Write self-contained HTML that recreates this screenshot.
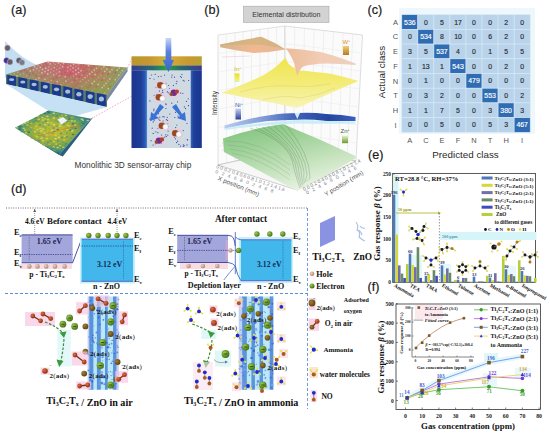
<!DOCTYPE html>
<html><head><meta charset="utf-8"><title>Figure</title>
<style>html,body{margin:0;padding:0;background:#fff;} svg{display:block;}</style></head>
<body><svg width="550" height="435" viewBox="0 0 550 435">
<defs>
<filter id="fBlur" x="-0.5" y="-0.05" width="2" height="1.1"><feGaussianBlur stdDeviation="0.7"/></filter>
<linearGradient id="gTop" x1="0" y1="0" x2="1" y2="0">
 <stop offset="0" stop-color="#7f9a66"/><stop offset="0.3" stop-color="#b77a72"/>
 <stop offset="0.55" stop-color="#c6646e"/><stop offset="0.8" stop-color="#a88a5e"/><stop offset="1" stop-color="#7fa060"/>
</linearGradient>
<linearGradient id="gTopF" x1="0" y1="1" x2="0" y2="0">
 <stop offset="0" stop-color="#8aa050" stop-opacity="0.85"/><stop offset="1" stop-color="#8aa050" stop-opacity="0"/>
</linearGradient>
<radialGradient id="gChip" cx="0.5" cy="0.45" r="0.6">
 <stop offset="0" stop-color="#c8c034"/><stop offset="0.45" stop-color="#9aae3a"/>
 <stop offset="0.8" stop-color="#3a8a80"/><stop offset="1" stop-color="#1f5a70"/>
</radialGradient>
<linearGradient id="gWallL" x1="0" y1="0" x2="1" y2="0">
 <stop offset="0" stop-color="#1c3490"/><stop offset="0.6" stop-color="#1e3f98"/><stop offset="0.85" stop-color="#2a5ab8"/><stop offset="1" stop-color="#5a9ad0"/>
</linearGradient>
<linearGradient id="gWallR" x1="0" y1="0" x2="1" y2="0">
 <stop offset="0" stop-color="#3a6ac0"/><stop offset="0.3" stop-color="#1e3f98"/><stop offset="1" stop-color="#1c3490"/>
</linearGradient>
<linearGradient id="gGold" x1="0" y1="0" x2="1" y2="0">
 <stop offset="0" stop-color="#b8982e"/><stop offset="0.25" stop-color="#c89630"/><stop offset="0.42" stop-color="#d0a838"/><stop offset="0.5" stop-color="#a0c840"/>
 <stop offset="0.58" stop-color="#d4a838"/><stop offset="0.8" stop-color="#c89a30"/><stop offset="1" stop-color="#b8a034"/>
</linearGradient>
<linearGradient id="gStrip" x1="0" y1="0" x2="1" y2="0">
 <stop offset="0" stop-color="#3a3a90"/><stop offset="0.3" stop-color="#2a6a70"/><stop offset="0.5" stop-color="#30a040"/>
 <stop offset="0.7" stop-color="#2a6a70"/><stop offset="1" stop-color="#3a3a90"/>
</linearGradient>
<linearGradient id="gArrow" x1="0" y1="0" x2="0" y2="1">
 <stop offset="0" stop-color="#c8d8f8"/><stop offset="0.4" stop-color="#5a80e0"/><stop offset="1" stop-color="#3a64d0"/>
</linearGradient>
<linearGradient id="gW" x1="0" y1="0" x2="1" y2="0">
 <stop offset="0" stop-color="#d2b48a"/><stop offset="0.45" stop-color="#efb890"/><stop offset="1" stop-color="#e8b898"/>
</linearGradient>
<linearGradient id="gIn" x1="0" y1="0" x2="0" y2="1">
 <stop offset="0" stop-color="#f0e44e"/><stop offset="0.5" stop-color="#f3ec78"/><stop offset="1" stop-color="#f8f4b8"/>
</linearGradient>
<linearGradient id="gW2" x1="0" y1="0" x2="1" y2="0">
 <stop offset="0" stop-color="#ecbc9a"/><stop offset="0.5" stop-color="#f2ccb4"/><stop offset="1" stop-color="#eed0c0"/>
</linearGradient>
<linearGradient id="gNi" x1="0" y1="0" x2="1" y2="0">
 <stop offset="0" stop-color="#b8cdf0"/><stop offset="0.3" stop-color="#7f9ad8"/><stop offset="0.55" stop-color="#3e60b8"/><stop offset="0.8" stop-color="#24469e"/><stop offset="1" stop-color="#3a60c0"/>
</linearGradient>
<linearGradient id="gZn" x1="0" y1="0" x2="0.5" y2="1">
 <stop offset="0" stop-color="#7cc27a"/><stop offset="0.35" stop-color="#9cd096"/><stop offset="0.7" stop-color="#c4e2bc"/><stop offset="1" stop-color="#e6f2e0"/>
</linearGradient>
<linearGradient id="gLegW" x1="0" y1="0" x2="0" y2="1"><stop offset="0" stop-color="#f0d070"/><stop offset="1" stop-color="#b87a20"/></linearGradient>
<linearGradient id="gLegIn" x1="0" y1="0" x2="0" y2="1"><stop offset="0" stop-color="#e8e020"/><stop offset="0.6" stop-color="#f0f060"/><stop offset="1" stop-color="#d8f0c0"/></linearGradient>
<linearGradient id="gLegNi" x1="0" y1="0" x2="0" y2="1"><stop offset="0" stop-color="#c8d4f4"/><stop offset="1" stop-color="#2a3f9a"/></linearGradient>
<linearGradient id="gLegZn" x1="0" y1="0" x2="0" y2="1"><stop offset="0" stop-color="#e4f0c8"/><stop offset="1" stop-color="#6a9a30"/></linearGradient>
<radialGradient id="gEl" cx="0.35" cy="0.35" r="0.7"><stop offset="0" stop-color="#9ccc50"/><stop offset="1" stop-color="#3f6e12"/></radialGradient>
<radialGradient id="gO" cx="0.35" cy="0.35" r="0.7"><stop offset="0" stop-color="#e07040"/><stop offset="1" stop-color="#8a2a10"/></radialGradient>
<radialGradient id="gOd" cx="0.35" cy="0.35" r="0.7"><stop offset="0" stop-color="#a08030"/><stop offset="1" stop-color="#5a4010"/></radialGradient>
<radialGradient id="gHole" cx="0.35" cy="0.35" r="0.7"><stop offset="0" stop-color="#f0d0c0"/><stop offset="1" stop-color="#b08070"/></radialGradient>
</defs>
<rect x="0" y="0" width="550" height="435" fill="#ffffff" />
<text x="11" y="14.3" font-size="12.6" fill="#1a1a1a" text-anchor="start" font-weight="normal" font-family='"Liberation Sans", sans-serif' stroke="#1a1a1a" stroke-width="0.2">(a)</text>
<path d="M5,41 Q22,60 42,67 L26,77 L5,78 Z" fill="#bcd9ef" opacity="0.9"/>
<circle cx="7.5" cy="48" r="2.9" fill="#6a5a6a" stroke="#dde" stroke-width="0.4"/>
<circle cx="6.5" cy="60.5" r="2.9" fill="#3a3090" stroke="#dde" stroke-width="0.4"/>
<circle cx="10" cy="62" r="2.9" fill="#6a5a6a" stroke="#dde" stroke-width="0.4"/>
<circle cx="19" cy="60.5" r="2.9" fill="#5a5a6a" stroke="#dde" stroke-width="0.4"/>
<circle cx="22" cy="62.5" r="2.9" fill="#7a7a8a" stroke="#dde" stroke-width="0.4"/>
<polygon points="6,74.5 47.5,61.5 127.5,67.5 107,95" fill="url(#gTop)" />
<polygon points="6,74.5 107,95 116.225,82.625 24.675,68.65" fill="url(#gTopF)" />
<circle cx="10.9" cy="74.6" r="0.85" fill="#e8a0a0" opacity="0.7"/>
<circle cx="14.3" cy="73.5" r="0.85" fill="#e8a0a0" opacity="0.7"/>
<circle cx="17.7" cy="72.3" r="0.85" fill="#e8a0a0" opacity="0.7"/>
<circle cx="21.1" cy="71.2" r="0.85" fill="#d04860" opacity="0.7"/>
<circle cx="24.5" cy="70.1" r="0.85" fill="#d04860" opacity="0.7"/>
<circle cx="27.9" cy="69.0" r="0.85" fill="#e8a0a0" opacity="0.7"/>
<circle cx="31.3" cy="67.9" r="0.85" fill="#d04860" opacity="0.7"/>
<circle cx="34.7" cy="66.7" r="0.85" fill="#f0d0c0" opacity="0.7"/>
<circle cx="38.1" cy="65.6" r="0.85" fill="#e8a0a0" opacity="0.7"/>
<circle cx="41.5" cy="64.5" r="0.85" fill="#90b060" opacity="0.7"/>
<circle cx="44.9" cy="63.4" r="0.85" fill="#d04860" opacity="0.7"/>
<circle cx="48.3" cy="62.2" r="0.85" fill="#f0d0c0" opacity="0.7"/>
<circle cx="17.1" cy="75.8" r="0.85" fill="#f0d0c0" opacity="0.7"/>
<circle cx="20.4" cy="74.6" r="0.85" fill="#e8a0a0" opacity="0.7"/>
<circle cx="23.7" cy="73.4" r="0.85" fill="#e8a0a0" opacity="0.7"/>
<circle cx="27.0" cy="72.2" r="0.85" fill="#d04860" opacity="0.7"/>
<circle cx="30.3" cy="71.0" r="0.85" fill="#f0d0c0" opacity="0.7"/>
<circle cx="33.6" cy="69.8" r="0.85" fill="#f0d0c0" opacity="0.7"/>
<circle cx="36.9" cy="68.6" r="0.85" fill="#f0d0c0" opacity="0.7"/>
<circle cx="40.2" cy="67.4" r="0.85" fill="#f0d0c0" opacity="0.7"/>
<circle cx="43.5" cy="66.3" r="0.85" fill="#d04860" opacity="0.7"/>
<circle cx="46.8" cy="65.1" r="0.85" fill="#d04860" opacity="0.7"/>
<circle cx="50.1" cy="63.9" r="0.85" fill="#f0d0c0" opacity="0.7"/>
<circle cx="53.4" cy="62.7" r="0.85" fill="#e8a0a0" opacity="0.7"/>
<circle cx="23.4" cy="77.1" r="0.85" fill="#90b060" opacity="0.7"/>
<circle cx="26.6" cy="75.8" r="0.85" fill="#e8a0a0" opacity="0.7"/>
<circle cx="29.7" cy="74.5" r="0.85" fill="#d04860" opacity="0.7"/>
<circle cx="32.9" cy="73.3" r="0.85" fill="#d04860" opacity="0.7"/>
<circle cx="36.1" cy="72.0" r="0.85" fill="#90b060" opacity="0.7"/>
<circle cx="39.3" cy="70.7" r="0.85" fill="#e8a0a0" opacity="0.7"/>
<circle cx="42.5" cy="69.4" r="0.85" fill="#f0d0c0" opacity="0.7"/>
<circle cx="45.7" cy="68.2" r="0.85" fill="#f0d0c0" opacity="0.7"/>
<circle cx="48.9" cy="66.9" r="0.85" fill="#e8a0a0" opacity="0.7"/>
<circle cx="52.0" cy="65.6" r="0.85" fill="#90b060" opacity="0.7"/>
<circle cx="55.2" cy="64.3" r="0.85" fill="#e8a0a0" opacity="0.7"/>
<circle cx="58.4" cy="63.1" r="0.85" fill="#f0d0c0" opacity="0.7"/>
<circle cx="29.6" cy="78.3" r="0.85" fill="#90b060" opacity="0.7"/>
<circle cx="32.7" cy="77.0" r="0.85" fill="#90b060" opacity="0.7"/>
<circle cx="35.8" cy="75.6" r="0.85" fill="#d04860" opacity="0.7"/>
<circle cx="38.9" cy="74.3" r="0.85" fill="#90b060" opacity="0.7"/>
<circle cx="41.9" cy="72.9" r="0.85" fill="#f0d0c0" opacity="0.7"/>
<circle cx="45.0" cy="71.6" r="0.85" fill="#f0d0c0" opacity="0.7"/>
<circle cx="48.1" cy="70.2" r="0.85" fill="#f0d0c0" opacity="0.7"/>
<circle cx="51.2" cy="68.9" r="0.85" fill="#e8a0a0" opacity="0.7"/>
<circle cx="54.2" cy="67.5" r="0.85" fill="#f0d0c0" opacity="0.7"/>
<circle cx="57.3" cy="66.2" r="0.85" fill="#90b060" opacity="0.7"/>
<circle cx="60.4" cy="64.8" r="0.85" fill="#e8a0a0" opacity="0.7"/>
<circle cx="63.5" cy="63.5" r="0.85" fill="#f0d0c0" opacity="0.7"/>
<circle cx="35.9" cy="79.6" r="0.85" fill="#f0d0c0" opacity="0.7"/>
<circle cx="38.9" cy="78.1" r="0.85" fill="#f0d0c0" opacity="0.7"/>
<circle cx="41.8" cy="76.7" r="0.85" fill="#d04860" opacity="0.7"/>
<circle cx="44.8" cy="75.3" r="0.85" fill="#d04860" opacity="0.7"/>
<circle cx="47.8" cy="73.9" r="0.85" fill="#f0d0c0" opacity="0.7"/>
<circle cx="50.7" cy="72.4" r="0.85" fill="#e8a0a0" opacity="0.7"/>
<circle cx="53.7" cy="71.0" r="0.85" fill="#e8a0a0" opacity="0.7"/>
<circle cx="56.7" cy="69.6" r="0.85" fill="#e8a0a0" opacity="0.7"/>
<circle cx="59.6" cy="68.2" r="0.85" fill="#e8a0a0" opacity="0.7"/>
<circle cx="62.6" cy="66.7" r="0.85" fill="#f0d0c0" opacity="0.7"/>
<circle cx="65.6" cy="65.3" r="0.85" fill="#d04860" opacity="0.7"/>
<circle cx="68.5" cy="63.9" r="0.85" fill="#90b060" opacity="0.7"/>
<circle cx="42.1" cy="80.8" r="0.85" fill="#90b060" opacity="0.7"/>
<circle cx="45.0" cy="79.3" r="0.85" fill="#f0d0c0" opacity="0.7"/>
<circle cx="47.9" cy="77.8" r="0.85" fill="#90b060" opacity="0.7"/>
<circle cx="50.7" cy="76.3" r="0.85" fill="#90b060" opacity="0.7"/>
<circle cx="53.6" cy="74.8" r="0.85" fill="#f0d0c0" opacity="0.7"/>
<circle cx="56.4" cy="73.3" r="0.85" fill="#e8a0a0" opacity="0.7"/>
<circle cx="59.3" cy="71.8" r="0.85" fill="#f0d0c0" opacity="0.7"/>
<circle cx="62.1" cy="70.3" r="0.85" fill="#d04860" opacity="0.7"/>
<circle cx="65.0" cy="68.8" r="0.85" fill="#d04860" opacity="0.7"/>
<circle cx="67.9" cy="67.3" r="0.85" fill="#f0d0c0" opacity="0.7"/>
<circle cx="70.7" cy="65.8" r="0.85" fill="#f0d0c0" opacity="0.7"/>
<circle cx="73.6" cy="64.3" r="0.85" fill="#f0d0c0" opacity="0.7"/>
<circle cx="48.4" cy="82.0" r="0.85" fill="#e8a0a0" opacity="0.7"/>
<circle cx="51.2" cy="80.5" r="0.85" fill="#e8a0a0" opacity="0.7"/>
<circle cx="53.9" cy="78.9" r="0.85" fill="#d04860" opacity="0.7"/>
<circle cx="56.6" cy="77.3" r="0.85" fill="#d04860" opacity="0.7"/>
<circle cx="59.4" cy="75.7" r="0.85" fill="#e8a0a0" opacity="0.7"/>
<circle cx="62.1" cy="74.2" r="0.85" fill="#d04860" opacity="0.7"/>
<circle cx="64.9" cy="72.6" r="0.85" fill="#d04860" opacity="0.7"/>
<circle cx="67.6" cy="71.0" r="0.85" fill="#e8a0a0" opacity="0.7"/>
<circle cx="70.4" cy="69.4" r="0.85" fill="#e8a0a0" opacity="0.7"/>
<circle cx="73.1" cy="67.9" r="0.85" fill="#f0d0c0" opacity="0.7"/>
<circle cx="75.9" cy="66.3" r="0.85" fill="#e8a0a0" opacity="0.7"/>
<circle cx="78.6" cy="64.7" r="0.85" fill="#e8a0a0" opacity="0.7"/>
<circle cx="54.7" cy="83.3" r="0.85" fill="#d04860" opacity="0.7"/>
<circle cx="57.3" cy="81.6" r="0.85" fill="#f0d0c0" opacity="0.7"/>
<circle cx="59.9" cy="80.0" r="0.85" fill="#90b060" opacity="0.7"/>
<circle cx="62.6" cy="78.3" r="0.85" fill="#90b060" opacity="0.7"/>
<circle cx="65.2" cy="76.7" r="0.85" fill="#f0d0c0" opacity="0.7"/>
<circle cx="67.9" cy="75.0" r="0.85" fill="#d04860" opacity="0.7"/>
<circle cx="70.5" cy="73.4" r="0.85" fill="#d04860" opacity="0.7"/>
<circle cx="73.1" cy="71.7" r="0.85" fill="#e8a0a0" opacity="0.7"/>
<circle cx="75.8" cy="70.1" r="0.85" fill="#f0d0c0" opacity="0.7"/>
<circle cx="78.4" cy="68.4" r="0.85" fill="#f0d0c0" opacity="0.7"/>
<circle cx="81.0" cy="66.8" r="0.85" fill="#d04860" opacity="0.7"/>
<circle cx="83.7" cy="65.1" r="0.85" fill="#d04860" opacity="0.7"/>
<circle cx="60.9" cy="84.5" r="0.85" fill="#e8a0a0" opacity="0.7"/>
<circle cx="63.4" cy="82.8" r="0.85" fill="#90b060" opacity="0.7"/>
<circle cx="66.0" cy="81.1" r="0.85" fill="#f0d0c0" opacity="0.7"/>
<circle cx="68.5" cy="79.4" r="0.85" fill="#90b060" opacity="0.7"/>
<circle cx="71.0" cy="77.6" r="0.85" fill="#90b060" opacity="0.7"/>
<circle cx="73.6" cy="75.9" r="0.85" fill="#e8a0a0" opacity="0.7"/>
<circle cx="76.1" cy="74.2" r="0.85" fill="#f0d0c0" opacity="0.7"/>
<circle cx="78.6" cy="72.5" r="0.85" fill="#f0d0c0" opacity="0.7"/>
<circle cx="81.1" cy="70.7" r="0.85" fill="#f0d0c0" opacity="0.7"/>
<circle cx="83.7" cy="69.0" r="0.85" fill="#d04860" opacity="0.7"/>
<circle cx="86.2" cy="67.3" r="0.85" fill="#d04860" opacity="0.7"/>
<circle cx="88.7" cy="65.6" r="0.85" fill="#f0d0c0" opacity="0.7"/>
<circle cx="67.2" cy="85.8" r="0.85" fill="#90b060" opacity="0.7"/>
<circle cx="69.6" cy="84.0" r="0.85" fill="#90b060" opacity="0.7"/>
<circle cx="72.0" cy="82.2" r="0.85" fill="#e8a0a0" opacity="0.7"/>
<circle cx="74.4" cy="80.4" r="0.85" fill="#d04860" opacity="0.7"/>
<circle cx="76.9" cy="78.6" r="0.85" fill="#e8a0a0" opacity="0.7"/>
<circle cx="79.3" cy="76.8" r="0.85" fill="#d04860" opacity="0.7"/>
<circle cx="81.7" cy="75.0" r="0.85" fill="#e8a0a0" opacity="0.7"/>
<circle cx="84.1" cy="73.2" r="0.85" fill="#d04860" opacity="0.7"/>
<circle cx="86.5" cy="71.4" r="0.85" fill="#d04860" opacity="0.7"/>
<circle cx="89.0" cy="69.6" r="0.85" fill="#90b060" opacity="0.7"/>
<circle cx="91.4" cy="67.8" r="0.85" fill="#d04860" opacity="0.7"/>
<circle cx="93.8" cy="66.0" r="0.85" fill="#d04860" opacity="0.7"/>
<circle cx="73.4" cy="87.0" r="0.85" fill="#d04860" opacity="0.7"/>
<circle cx="75.7" cy="85.1" r="0.85" fill="#d04860" opacity="0.7"/>
<circle cx="78.1" cy="83.3" r="0.85" fill="#d04860" opacity="0.7"/>
<circle cx="80.4" cy="81.4" r="0.85" fill="#e8a0a0" opacity="0.7"/>
<circle cx="82.7" cy="79.5" r="0.85" fill="#e8a0a0" opacity="0.7"/>
<circle cx="85.0" cy="77.6" r="0.85" fill="#f0d0c0" opacity="0.7"/>
<circle cx="87.3" cy="75.8" r="0.85" fill="#e8a0a0" opacity="0.7"/>
<circle cx="89.6" cy="73.9" r="0.85" fill="#f0d0c0" opacity="0.7"/>
<circle cx="91.9" cy="72.0" r="0.85" fill="#f0d0c0" opacity="0.7"/>
<circle cx="94.2" cy="70.1" r="0.85" fill="#f0d0c0" opacity="0.7"/>
<circle cx="96.5" cy="68.3" r="0.85" fill="#f0d0c0" opacity="0.7"/>
<circle cx="98.8" cy="66.4" r="0.85" fill="#90b060" opacity="0.7"/>
<circle cx="79.7" cy="88.3" r="0.85" fill="#d04860" opacity="0.7"/>
<circle cx="81.9" cy="86.3" r="0.85" fill="#e8a0a0" opacity="0.7"/>
<circle cx="84.1" cy="84.4" r="0.85" fill="#90b060" opacity="0.7"/>
<circle cx="86.3" cy="82.4" r="0.85" fill="#e8a0a0" opacity="0.7"/>
<circle cx="88.5" cy="80.5" r="0.85" fill="#e8a0a0" opacity="0.7"/>
<circle cx="90.7" cy="78.5" r="0.85" fill="#90b060" opacity="0.7"/>
<circle cx="92.9" cy="76.5" r="0.85" fill="#d04860" opacity="0.7"/>
<circle cx="95.1" cy="74.6" r="0.85" fill="#f0d0c0" opacity="0.7"/>
<circle cx="97.3" cy="72.6" r="0.85" fill="#d04860" opacity="0.7"/>
<circle cx="99.5" cy="70.7" r="0.85" fill="#d04860" opacity="0.7"/>
<circle cx="101.7" cy="68.7" r="0.85" fill="#e8a0a0" opacity="0.7"/>
<circle cx="103.9" cy="66.8" r="0.85" fill="#f0d0c0" opacity="0.7"/>
<circle cx="86.0" cy="89.5" r="0.85" fill="#90b060" opacity="0.7"/>
<circle cx="88.0" cy="87.5" r="0.85" fill="#d04860" opacity="0.7"/>
<circle cx="90.1" cy="85.4" r="0.85" fill="#d04860" opacity="0.7"/>
<circle cx="92.2" cy="83.4" r="0.85" fill="#f0d0c0" opacity="0.7"/>
<circle cx="94.3" cy="81.4" r="0.85" fill="#f0d0c0" opacity="0.7"/>
<circle cx="96.4" cy="79.4" r="0.85" fill="#90b060" opacity="0.7"/>
<circle cx="98.5" cy="77.3" r="0.85" fill="#e8a0a0" opacity="0.7"/>
<circle cx="100.6" cy="75.3" r="0.85" fill="#e8a0a0" opacity="0.7"/>
<circle cx="102.7" cy="73.3" r="0.85" fill="#d04860" opacity="0.7"/>
<circle cx="104.8" cy="71.3" r="0.85" fill="#f0d0c0" opacity="0.7"/>
<circle cx="106.9" cy="69.2" r="0.85" fill="#f0d0c0" opacity="0.7"/>
<circle cx="109.0" cy="67.2" r="0.85" fill="#d04860" opacity="0.7"/>
<circle cx="92.2" cy="90.7" r="0.85" fill="#90b060" opacity="0.7"/>
<circle cx="94.2" cy="88.6" r="0.85" fill="#90b060" opacity="0.7"/>
<circle cx="96.2" cy="86.5" r="0.85" fill="#d04860" opacity="0.7"/>
<circle cx="98.2" cy="84.4" r="0.85" fill="#f0d0c0" opacity="0.7"/>
<circle cx="100.1" cy="82.3" r="0.85" fill="#90b060" opacity="0.7"/>
<circle cx="102.1" cy="80.2" r="0.85" fill="#d04860" opacity="0.7"/>
<circle cx="104.1" cy="78.1" r="0.85" fill="#e8a0a0" opacity="0.7"/>
<circle cx="106.1" cy="76.0" r="0.85" fill="#90b060" opacity="0.7"/>
<circle cx="108.1" cy="73.9" r="0.85" fill="#d04860" opacity="0.7"/>
<circle cx="110.0" cy="71.8" r="0.85" fill="#f0d0c0" opacity="0.7"/>
<circle cx="112.0" cy="69.7" r="0.85" fill="#f0d0c0" opacity="0.7"/>
<circle cx="114.0" cy="67.6" r="0.85" fill="#e8a0a0" opacity="0.7"/>
<circle cx="98.5" cy="92.0" r="0.85" fill="#90b060" opacity="0.7"/>
<circle cx="100.3" cy="89.8" r="0.85" fill="#90b060" opacity="0.7"/>
<circle cx="102.2" cy="87.6" r="0.85" fill="#f0d0c0" opacity="0.7"/>
<circle cx="104.1" cy="85.5" r="0.85" fill="#f0d0c0" opacity="0.7"/>
<circle cx="106.0" cy="83.3" r="0.85" fill="#f0d0c0" opacity="0.7"/>
<circle cx="107.8" cy="81.1" r="0.85" fill="#e8a0a0" opacity="0.7"/>
<circle cx="109.7" cy="78.9" r="0.85" fill="#f0d0c0" opacity="0.7"/>
<circle cx="111.6" cy="76.7" r="0.85" fill="#90b060" opacity="0.7"/>
<circle cx="113.4" cy="74.6" r="0.85" fill="#90b060" opacity="0.7"/>
<circle cx="115.3" cy="72.4" r="0.85" fill="#d04860" opacity="0.7"/>
<circle cx="117.2" cy="70.2" r="0.85" fill="#f0d0c0" opacity="0.7"/>
<circle cx="119.1" cy="68.0" r="0.85" fill="#f0d0c0" opacity="0.7"/>
<circle cx="104.7" cy="93.2" r="0.85" fill="#e8a0a0" opacity="0.7"/>
<circle cx="106.5" cy="91.0" r="0.85" fill="#90b060" opacity="0.7"/>
<circle cx="108.3" cy="88.7" r="0.85" fill="#f0d0c0" opacity="0.7"/>
<circle cx="110.0" cy="86.5" r="0.85" fill="#d04860" opacity="0.7"/>
<circle cx="111.8" cy="84.2" r="0.85" fill="#90b060" opacity="0.7"/>
<circle cx="113.5" cy="82.0" r="0.85" fill="#90b060" opacity="0.7"/>
<circle cx="115.3" cy="79.7" r="0.85" fill="#f0d0c0" opacity="0.7"/>
<circle cx="117.1" cy="77.5" r="0.85" fill="#e8a0a0" opacity="0.7"/>
<circle cx="118.8" cy="75.2" r="0.85" fill="#f0d0c0" opacity="0.7"/>
<circle cx="120.6" cy="72.9" r="0.85" fill="#e8a0a0" opacity="0.7"/>
<circle cx="122.4" cy="70.7" r="0.85" fill="#f0d0c0" opacity="0.7"/>
<circle cx="124.1" cy="68.4" r="0.85" fill="#e8a0a0" opacity="0.7"/>
<polygon points="6,74.5 107,95 107,107 6,84" fill="#5a7a6a" />
<polygon points="107,95 127.5,67.5 127.5,71.5 107,101" fill="#7a8aa0" />
<polygon points="7.2,74.7 16.0,76.5 16.0,86.3 7.2,84.3" fill="#1c3a8c" />
<ellipse cx="11.6" cy="79.7" rx="2.6" ry="1.4" fill="#b8cce0" opacity="0.9"/>
<polygon points="18.4,77.0 27.2,78.8 27.2,88.8 18.4,86.8" fill="#1c3a8c" />
<ellipse cx="22.8" cy="82.1" rx="2.6" ry="1.5" fill="#b8cce0" opacity="0.9"/>
<polygon points="29.7,79.3 38.5,81.1 38.5,91.4 29.7,89.4" fill="#1c3a8c" />
<ellipse cx="34.1" cy="84.5" rx="2.6" ry="1.7" fill="#b8cce0" opacity="0.9"/>
<polygon points="40.9,81.6 49.7,83.4 49.7,93.9 40.9,91.9" fill="#1c3a8c" />
<ellipse cx="45.3" cy="86.9" rx="2.6" ry="1.8" fill="#b8cce0" opacity="0.9"/>
<polygon points="52.1,83.9 60.9,85.6 60.9,96.5 52.1,94.5" fill="#1c3a8c" />
<ellipse cx="56.5" cy="89.3" rx="2.6" ry="1.9" fill="#b8cce0" opacity="0.9"/>
<polygon points="63.3,86.1 72.1,87.9 72.1,99.1 63.3,97.1" fill="#1c3a8c" />
<ellipse cx="67.7" cy="91.7" rx="2.6" ry="2.1" fill="#b8cce0" opacity="0.9"/>
<polygon points="74.5,88.4 83.3,90.2 83.3,101.6 74.5,99.6" fill="#1c3a8c" />
<ellipse cx="78.9" cy="94.2" rx="2.6" ry="2.2" fill="#b8cce0" opacity="0.9"/>
<polygon points="85.8,90.7 94.6,92.5 94.6,104.2 85.8,102.2" fill="#1c3a8c" />
<ellipse cx="90.2" cy="96.6" rx="2.6" ry="2.3" fill="#b8cce0" opacity="0.9"/>
<polygon points="97.0,93.0 105.8,94.8 105.8,106.7 97.0,104.7" fill="#1c3a8c" />
<ellipse cx="101.4" cy="99.0" rx="2.6" ry="2.5" fill="#b8cce0" opacity="0.9"/>
<polygon points="6,84 107,107 72,117 48.5,111" fill="#bcdcf2" opacity="0.85"/>
<polygon points="14.9,127.8 48.5,110.6 91,118.8 59,154.8" fill="url(#gChip)" />
<rect x="15.9" y="127.2" width="2.2" height="1.4" fill="#e0d840" opacity="0.75"/>
<rect x="19.1" y="125.9" width="2.2" height="1.4" fill="#2a6a7a" opacity="0.75"/>
<rect x="21.8" y="124.1" width="2.2" height="1.4" fill="#c8c030" opacity="0.75"/>
<rect x="24.1" y="122.5" width="2.2" height="1.4" fill="#f0e080" opacity="0.75"/>
<rect x="26.7" y="121.3" width="2.2" height="1.4" fill="#e0d840" opacity="0.75"/>
<rect x="29.6" y="120.1" width="2.2" height="1.4" fill="#50a090" opacity="0.75"/>
<rect x="33.2" y="118.5" width="2.2" height="1.4" fill="#50a090" opacity="0.75"/>
<rect x="34.8" y="117.4" width="2.2" height="1.4" fill="#3a8aa0" opacity="0.75"/>
<rect x="36.5" y="115.7" width="2.2" height="1.4" fill="#e0d840" opacity="0.75"/>
<rect x="39.7" y="114.1" width="2.2" height="1.4" fill="#50a090" opacity="0.75"/>
<rect x="43.6" y="112.9" width="2.2" height="1.4" fill="#2a6a7a" opacity="0.75"/>
<rect x="46.5" y="111.0" width="2.2" height="1.4" fill="#2a6a7a" opacity="0.75"/>
<rect x="18.7" y="128.5" width="2.2" height="1.4" fill="#2a6a7a" opacity="0.75"/>
<rect x="22.6" y="127.6" width="2.2" height="1.4" fill="#d0e070" opacity="0.75"/>
<rect x="23.2" y="125.6" width="2.2" height="1.4" fill="#50a090" opacity="0.75"/>
<rect x="26.3" y="124.3" width="2.2" height="1.4" fill="#e0d840" opacity="0.75"/>
<rect x="30.1" y="122.7" width="2.2" height="1.4" fill="#c8c030" opacity="0.75"/>
<rect x="32.6" y="120.9" width="2.2" height="1.4" fill="#3a8aa0" opacity="0.75"/>
<rect x="35.1" y="120.0" width="2.2" height="1.4" fill="#3a8aa0" opacity="0.75"/>
<rect x="37.7" y="118.6" width="2.2" height="1.4" fill="#e0d840" opacity="0.75"/>
<rect x="41.3" y="116.9" width="2.2" height="1.4" fill="#f0e080" opacity="0.75"/>
<rect x="43.3" y="114.5" width="2.2" height="1.4" fill="#8ab040" opacity="0.75"/>
<rect x="46.7" y="113.1" width="2.2" height="1.4" fill="#3a8aa0" opacity="0.75"/>
<rect x="48.1" y="111.9" width="2.2" height="1.4" fill="#2a6a7a" opacity="0.75"/>
<rect x="20.7" y="130.9" width="2.2" height="1.4" fill="#3a8aa0" opacity="0.75"/>
<rect x="24.0" y="129.3" width="2.2" height="1.4" fill="#d0e070" opacity="0.75"/>
<rect x="27.1" y="128.2" width="2.2" height="1.4" fill="#8ab040" opacity="0.75"/>
<rect x="29.9" y="126.6" width="2.2" height="1.4" fill="#c8c030" opacity="0.75"/>
<rect x="32.4" y="124.1" width="2.2" height="1.4" fill="#8ab040" opacity="0.75"/>
<rect x="36.0" y="123.0" width="2.2" height="1.4" fill="#c8c030" opacity="0.75"/>
<rect x="37.8" y="120.9" width="2.2" height="1.4" fill="#50a090" opacity="0.75"/>
<rect x="41.8" y="119.3" width="2.2" height="1.4" fill="#d0e070" opacity="0.75"/>
<rect x="44.2" y="118.1" width="2.2" height="1.4" fill="#e0d840" opacity="0.75"/>
<rect x="46.2" y="115.6" width="2.2" height="1.4" fill="#f0e080" opacity="0.75"/>
<rect x="49.1" y="113.8" width="2.2" height="1.4" fill="#8ab040" opacity="0.75"/>
<rect x="52.7" y="112.6" width="2.2" height="1.4" fill="#f0e080" opacity="0.75"/>
<rect x="24.9" y="132.2" width="2.2" height="1.4" fill="#e0d840" opacity="0.75"/>
<rect x="27.8" y="131.5" width="2.2" height="1.4" fill="#2a6a7a" opacity="0.75"/>
<rect x="30.1" y="128.8" width="2.2" height="1.4" fill="#50a090" opacity="0.75"/>
<rect x="33.7" y="127.4" width="2.2" height="1.4" fill="#c8c030" opacity="0.75"/>
<rect x="35.2" y="125.6" width="2.2" height="1.4" fill="#e0d840" opacity="0.75"/>
<rect x="38.9" y="124.4" width="2.2" height="1.4" fill="#3a8aa0" opacity="0.75"/>
<rect x="42.3" y="122.3" width="2.2" height="1.4" fill="#50a090" opacity="0.75"/>
<rect x="44.9" y="120.6" width="2.2" height="1.4" fill="#3a8aa0" opacity="0.75"/>
<rect x="47.0" y="118.8" width="2.2" height="1.4" fill="#d0e070" opacity="0.75"/>
<rect x="49.3" y="116.7" width="2.2" height="1.4" fill="#50a090" opacity="0.75"/>
<rect x="52.4" y="114.5" width="2.2" height="1.4" fill="#50a090" opacity="0.75"/>
<rect x="55.5" y="113.2" width="2.2" height="1.4" fill="#8ab040" opacity="0.75"/>
<rect x="27.5" y="134.5" width="2.2" height="1.4" fill="#8ab040" opacity="0.75"/>
<rect x="30.5" y="132.2" width="2.2" height="1.4" fill="#8ab040" opacity="0.75"/>
<rect x="34.0" y="131.0" width="2.2" height="1.4" fill="#d0e070" opacity="0.75"/>
<rect x="36.3" y="128.8" width="2.2" height="1.4" fill="#d0e070" opacity="0.75"/>
<rect x="39.2" y="127.7" width="2.2" height="1.4" fill="#d0e070" opacity="0.75"/>
<rect x="42.3" y="125.7" width="2.2" height="1.4" fill="#50a090" opacity="0.75"/>
<rect x="44.0" y="123.9" width="2.2" height="1.4" fill="#d0e070" opacity="0.75"/>
<rect x="46.7" y="121.6" width="2.2" height="1.4" fill="#d0e070" opacity="0.75"/>
<rect x="50.7" y="119.6" width="2.2" height="1.4" fill="#8ab040" opacity="0.75"/>
<rect x="52.8" y="117.4" width="2.2" height="1.4" fill="#f0e080" opacity="0.75"/>
<rect x="55.8" y="115.3" width="2.2" height="1.4" fill="#3a8aa0" opacity="0.75"/>
<rect x="59.7" y="113.5" width="2.2" height="1.4" fill="#50a090" opacity="0.75"/>
<rect x="30.7" y="137.1" width="2.2" height="1.4" fill="#8ab040" opacity="0.75"/>
<rect x="34.5" y="135.1" width="2.2" height="1.4" fill="#c8c030" opacity="0.75"/>
<rect x="37.3" y="132.6" width="2.2" height="1.4" fill="#50a090" opacity="0.75"/>
<rect x="40.2" y="130.3" width="2.2" height="1.4" fill="#f0e080" opacity="0.75"/>
<rect x="41.9" y="128.4" width="2.2" height="1.4" fill="#d0e070" opacity="0.75"/>
<rect x="44.6" y="127.2" width="2.2" height="1.4" fill="#50a090" opacity="0.75"/>
<rect x="47.9" y="124.5" width="2.2" height="1.4" fill="#50a090" opacity="0.75"/>
<rect x="50.2" y="122.2" width="2.2" height="1.4" fill="#e0d840" opacity="0.75"/>
<rect x="54.5" y="120.3" width="2.2" height="1.4" fill="#50a090" opacity="0.75"/>
<rect x="54.7" y="118.7" width="2.2" height="1.4" fill="#8ab040" opacity="0.75"/>
<rect x="59.3" y="116.7" width="2.2" height="1.4" fill="#e0d840" opacity="0.75"/>
<rect x="61.0" y="114.6" width="2.2" height="1.4" fill="#c8c030" opacity="0.75"/>
<rect x="34.1" y="139.0" width="2.2" height="1.4" fill="#8ab040" opacity="0.75"/>
<rect x="36.1" y="136.1" width="2.2" height="1.4" fill="#d0e070" opacity="0.75"/>
<rect x="40.8" y="134.3" width="2.2" height="1.4" fill="#8ab040" opacity="0.75"/>
<rect x="43.3" y="132.5" width="2.2" height="1.4" fill="#d0e070" opacity="0.75"/>
<rect x="44.7" y="129.7" width="2.2" height="1.4" fill="#8ab040" opacity="0.75"/>
<rect x="48.4" y="128.5" width="2.2" height="1.4" fill="#8ab040" opacity="0.75"/>
<rect x="51.1" y="126.1" width="2.2" height="1.4" fill="#8ab040" opacity="0.75"/>
<rect x="52.9" y="124.0" width="2.2" height="1.4" fill="#f0e080" opacity="0.75"/>
<rect x="56.9" y="121.1" width="2.2" height="1.4" fill="#50a090" opacity="0.75"/>
<rect x="58.9" y="119.6" width="2.2" height="1.4" fill="#e0d840" opacity="0.75"/>
<rect x="61.3" y="117.4" width="2.2" height="1.4" fill="#50a090" opacity="0.75"/>
<rect x="64.7" y="114.7" width="2.2" height="1.4" fill="#f0e080" opacity="0.75"/>
<rect x="38.0" y="139.9" width="2.2" height="1.4" fill="#3a8aa0" opacity="0.75"/>
<rect x="40.5" y="137.6" width="2.2" height="1.4" fill="#f0e080" opacity="0.75"/>
<rect x="43.2" y="135.5" width="2.2" height="1.4" fill="#50a090" opacity="0.75"/>
<rect x="45.4" y="134.1" width="2.2" height="1.4" fill="#d0e070" opacity="0.75"/>
<rect x="48.2" y="131.6" width="2.2" height="1.4" fill="#8ab040" opacity="0.75"/>
<rect x="51.5" y="129.8" width="2.2" height="1.4" fill="#d0e070" opacity="0.75"/>
<rect x="52.6" y="127.4" width="2.2" height="1.4" fill="#3a8aa0" opacity="0.75"/>
<rect x="55.5" y="125.2" width="2.2" height="1.4" fill="#50a090" opacity="0.75"/>
<rect x="59.1" y="123.3" width="2.2" height="1.4" fill="#d0e070" opacity="0.75"/>
<rect x="61.6" y="120.2" width="2.2" height="1.4" fill="#e0d840" opacity="0.75"/>
<rect x="64.0" y="118.2" width="2.2" height="1.4" fill="#50a090" opacity="0.75"/>
<rect x="67.5" y="116.1" width="2.2" height="1.4" fill="#3a8aa0" opacity="0.75"/>
<rect x="40.7" y="142.6" width="2.2" height="1.4" fill="#c8c030" opacity="0.75"/>
<rect x="42.0" y="140.1" width="2.2" height="1.4" fill="#d0e070" opacity="0.75"/>
<rect x="45.8" y="137.9" width="2.2" height="1.4" fill="#d0e070" opacity="0.75"/>
<rect x="48.4" y="136.1" width="2.2" height="1.4" fill="#8ab040" opacity="0.75"/>
<rect x="51.6" y="132.6" width="2.2" height="1.4" fill="#50a090" opacity="0.75"/>
<rect x="53.1" y="130.6" width="2.2" height="1.4" fill="#3a8aa0" opacity="0.75"/>
<rect x="56.6" y="128.9" width="2.2" height="1.4" fill="#2a6a7a" opacity="0.75"/>
<rect x="59.2" y="125.3" width="2.2" height="1.4" fill="#f0e080" opacity="0.75"/>
<rect x="62.7" y="123.4" width="2.2" height="1.4" fill="#3a8aa0" opacity="0.75"/>
<rect x="66.1" y="121.0" width="2.2" height="1.4" fill="#3a8aa0" opacity="0.75"/>
<rect x="68.1" y="118.4" width="2.2" height="1.4" fill="#2a6a7a" opacity="0.75"/>
<rect x="71.1" y="116.7" width="2.2" height="1.4" fill="#c8c030" opacity="0.75"/>
<rect x="42.7" y="144.7" width="2.2" height="1.4" fill="#f0e080" opacity="0.75"/>
<rect x="46.8" y="141.7" width="2.2" height="1.4" fill="#3a8aa0" opacity="0.75"/>
<rect x="49.3" y="140.2" width="2.2" height="1.4" fill="#3a8aa0" opacity="0.75"/>
<rect x="52.7" y="136.6" width="2.2" height="1.4" fill="#8ab040" opacity="0.75"/>
<rect x="54.5" y="134.6" width="2.2" height="1.4" fill="#e0d840" opacity="0.75"/>
<rect x="56.2" y="132.0" width="2.2" height="1.4" fill="#c8c030" opacity="0.75"/>
<rect x="60.7" y="129.5" width="2.2" height="1.4" fill="#e0d840" opacity="0.75"/>
<rect x="62.3" y="127.0" width="2.2" height="1.4" fill="#c8c030" opacity="0.75"/>
<rect x="66.4" y="124.6" width="2.2" height="1.4" fill="#e0d840" opacity="0.75"/>
<rect x="67.0" y="122.4" width="2.2" height="1.4" fill="#c8c030" opacity="0.75"/>
<rect x="70.7" y="120.2" width="2.2" height="1.4" fill="#d0e070" opacity="0.75"/>
<rect x="73.8" y="117.3" width="2.2" height="1.4" fill="#50a090" opacity="0.75"/>
<rect x="46.9" y="146.4" width="2.2" height="1.4" fill="#50a090" opacity="0.75"/>
<rect x="48.5" y="143.6" width="2.2" height="1.4" fill="#c8c030" opacity="0.75"/>
<rect x="52.9" y="140.9" width="2.2" height="1.4" fill="#d0e070" opacity="0.75"/>
<rect x="54.4" y="138.0" width="2.2" height="1.4" fill="#f0e080" opacity="0.75"/>
<rect x="57.8" y="136.7" width="2.2" height="1.4" fill="#f0e080" opacity="0.75"/>
<rect x="60.0" y="132.8" width="2.2" height="1.4" fill="#3a8aa0" opacity="0.75"/>
<rect x="63.7" y="130.2" width="2.2" height="1.4" fill="#8ab040" opacity="0.75"/>
<rect x="65.9" y="128.9" width="2.2" height="1.4" fill="#d0e070" opacity="0.75"/>
<rect x="68.1" y="125.2" width="2.2" height="1.4" fill="#d0e070" opacity="0.75"/>
<rect x="71.9" y="123.1" width="2.2" height="1.4" fill="#2a6a7a" opacity="0.75"/>
<rect x="73.6" y="120.3" width="2.2" height="1.4" fill="#d0e070" opacity="0.75"/>
<rect x="76.8" y="118.2" width="2.2" height="1.4" fill="#50a090" opacity="0.75"/>
<rect x="51.0" y="147.9" width="2.2" height="1.4" fill="#3a8aa0" opacity="0.75"/>
<rect x="52.6" y="146.1" width="2.2" height="1.4" fill="#e0d840" opacity="0.75"/>
<rect x="55.1" y="143.4" width="2.2" height="1.4" fill="#e0d840" opacity="0.75"/>
<rect x="56.9" y="140.2" width="2.2" height="1.4" fill="#3a8aa0" opacity="0.75"/>
<rect x="60.9" y="136.7" width="2.2" height="1.4" fill="#3a8aa0" opacity="0.75"/>
<rect x="63.7" y="135.5" width="2.2" height="1.4" fill="#e0d840" opacity="0.75"/>
<rect x="66.1" y="132.2" width="2.2" height="1.4" fill="#50a090" opacity="0.75"/>
<rect x="69.5" y="129.6" width="2.2" height="1.4" fill="#2a6a7a" opacity="0.75"/>
<rect x="71.4" y="127.3" width="2.2" height="1.4" fill="#3a8aa0" opacity="0.75"/>
<rect x="74.3" y="124.5" width="2.2" height="1.4" fill="#f0e080" opacity="0.75"/>
<rect x="76.4" y="121.5" width="2.2" height="1.4" fill="#8ab040" opacity="0.75"/>
<rect x="80.6" y="118.4" width="2.2" height="1.4" fill="#f0e080" opacity="0.75"/>
<rect x="53.3" y="149.6" width="2.2" height="1.4" fill="#8ab040" opacity="0.75"/>
<rect x="56.5" y="146.9" width="2.2" height="1.4" fill="#f0e080" opacity="0.75"/>
<rect x="59.1" y="145.0" width="2.2" height="1.4" fill="#e0d840" opacity="0.75"/>
<rect x="61.5" y="141.6" width="2.2" height="1.4" fill="#50a090" opacity="0.75"/>
<rect x="63.2" y="139.3" width="2.2" height="1.4" fill="#e0d840" opacity="0.75"/>
<rect x="65.7" y="136.2" width="2.2" height="1.4" fill="#3a8aa0" opacity="0.75"/>
<rect x="69.8" y="133.5" width="2.2" height="1.4" fill="#8ab040" opacity="0.75"/>
<rect x="71.1" y="130.2" width="2.2" height="1.4" fill="#f0e080" opacity="0.75"/>
<rect x="74.3" y="127.6" width="2.2" height="1.4" fill="#2a6a7a" opacity="0.75"/>
<rect x="76.3" y="125.1" width="2.2" height="1.4" fill="#8ab040" opacity="0.75"/>
<rect x="81.0" y="121.6" width="2.2" height="1.4" fill="#3a8aa0" opacity="0.75"/>
<rect x="81.8" y="119.4" width="2.2" height="1.4" fill="#d0e070" opacity="0.75"/>
<rect x="57.1" y="151.9" width="2.2" height="1.4" fill="#2a6a7a" opacity="0.75"/>
<rect x="58.8" y="148.0" width="2.2" height="1.4" fill="#8ab040" opacity="0.75"/>
<rect x="62.1" y="146.6" width="2.2" height="1.4" fill="#e0d840" opacity="0.75"/>
<rect x="64.9" y="143.1" width="2.2" height="1.4" fill="#3a8aa0" opacity="0.75"/>
<rect x="67.1" y="141.0" width="2.2" height="1.4" fill="#8ab040" opacity="0.75"/>
<rect x="69.6" y="137.0" width="2.2" height="1.4" fill="#50a090" opacity="0.75"/>
<rect x="71.9" y="133.8" width="2.2" height="1.4" fill="#2a6a7a" opacity="0.75"/>
<rect x="75.4" y="131.4" width="2.2" height="1.4" fill="#8ab040" opacity="0.75"/>
<rect x="77.6" y="129.1" width="2.2" height="1.4" fill="#8ab040" opacity="0.75"/>
<rect x="80.3" y="125.2" width="2.2" height="1.4" fill="#3a8aa0" opacity="0.75"/>
<rect x="82.2" y="123.0" width="2.2" height="1.4" fill="#2a6a7a" opacity="0.75"/>
<rect x="86.6" y="119.8" width="2.2" height="1.4" fill="#f0e080" opacity="0.75"/>
<polygon points="14.9,127.8 59,154.8 62.8,156.5 14.5,127.5" fill="#1d4f6e" />
<polygon points="59,154.8 91,118.8 93.3,117 62.8,156.5" fill="#2a5f80" />
<polygon points="57.5,119.5 63,117 67.3,120.5 61.5,124.5" fill="#eef4f2" />
<line x1="38" y1="136" x2="80" y2="125" stroke="#e06030" stroke-width="0.7" opacity="0.7"/>
<line x1="91" y1="118.8" x2="132" y2="96" stroke="#e07090" stroke-width="0.6" stroke-dasharray="1.5,1.5"/>
<line x1="127.5" y1="68" x2="132" y2="58" stroke="#e07090" stroke-width="0.6" stroke-dasharray="1.5,1.5"/>
<rect x="131.5" y="56.3" width="70.3" height="9.4" fill="url(#gGold)" />
<rect x="131.5" y="65.5" width="70.3" height="5.2" fill="url(#gStrip)" />
<rect x="131.5" y="70.5" width="16" height="77.5" fill="url(#gWallL)" />
<rect x="190.4" y="70.5" width="11.4" height="77.5" fill="url(#gWallR)" />
<rect x="147.3" y="70.5" width="43.1" height="77.5" fill="#d0dae3" />
<polygon points="147.3,70.5 168,72.5 190.4,70.5 190.4,72 147.3,72" fill="#bfe6e6" opacity="0.6"/>
<circle cx="158.5" cy="113.7" r="0.6" fill="#5a3ab0" />
<circle cx="185.6" cy="108.6" r="0.6" fill="#2a40a0" />
<circle cx="151.6" cy="75.0" r="0.6" fill="#5a3ab0" />
<circle cx="159.4" cy="91.1" r="0.6" fill="#2a40a0" />
<circle cx="167.8" cy="135.1" r="0.6" fill="#5a3ab0" />
<circle cx="164.9" cy="136.9" r="0.6" fill="#3a4fb0" />
<circle cx="174.4" cy="137.4" r="0.6" fill="#2a40a0" />
<circle cx="164.6" cy="75.1" r="0.6" fill="#3a4fb0" />
<circle cx="155.4" cy="143.9" r="0.6" fill="#3a4fb0" />
<circle cx="161.1" cy="76.3" r="0.6" fill="#5a3ab0" />
<circle cx="167.9" cy="126.5" r="0.6" fill="#5a3ab0" />
<circle cx="177.6" cy="141.2" r="0.6" fill="#5a3ab0" />
<circle cx="178.1" cy="116.1" r="0.6" fill="#3a4fb0" />
<circle cx="184.2" cy="81.1" r="0.6" fill="#3a4fb0" />
<circle cx="168.8" cy="92.8" r="0.6" fill="#2a40a0" />
<circle cx="166.4" cy="119.7" r="0.6" fill="#5a3ab0" />
<circle cx="165.8" cy="134.8" r="0.6" fill="#2a40a0" />
<circle cx="163.0" cy="116.7" r="0.6" fill="#2a40a0" />
<circle cx="158.3" cy="98.6" r="0.6" fill="#3a4fb0" />
<circle cx="183.3" cy="146.3" r="0.6" fill="#2a40a0" />
<circle cx="176.8" cy="125.0" r="0.6" fill="#5a3ab0" />
<circle cx="187.6" cy="140.0" r="0.6" fill="#2a40a0" />
<circle cx="153.2" cy="121.9" r="0.6" fill="#2a40a0" />
<circle cx="182.3" cy="115.9" r="0.6" fill="#5a3ab0" />
<circle cx="154.0" cy="109.2" r="0.6" fill="#2a40a0" />
<circle cx="188.6" cy="80.5" r="0.6" fill="#3a4fb0" />
<circle cx="165.4" cy="85.0" r="0.6" fill="#5a3ab0" />
<circle cx="166.1" cy="104.3" r="0.6" fill="#3a4fb0" />
<circle cx="150.8" cy="118.9" r="0.6" fill="#3a4fb0" />
<circle cx="164.1" cy="116.8" r="0.6" fill="#2a40a0" />
<circle cx="184.2" cy="145.6" r="0.6" fill="#2a40a0" />
<circle cx="158.4" cy="76.6" r="0.6" fill="#3a4fb0" />
<circle cx="152.1" cy="117.8" r="0.6" fill="#3a4fb0" />
<circle cx="187.0" cy="144.9" r="0.6" fill="#5a3ab0" />
<circle cx="173.4" cy="85.4" r="0.6" fill="#3a4fb0" />
<circle cx="188.2" cy="98.8" r="0.6" fill="#5a3ab0" />
<circle cx="187.3" cy="139.5" r="0.6" fill="#5a3ab0" />
<circle cx="164.1" cy="137.5" r="0.6" fill="#5a3ab0" />
<circle cx="174.8" cy="117.5" r="0.6" fill="#2a40a0" />
<circle cx="153.1" cy="145.0" r="0.6" fill="#2a40a0" />
<circle cx="159.9" cy="120.3" r="0.6" fill="#2a40a0" />
<circle cx="158.5" cy="96.0" r="0.6" fill="#5a3ab0" />
<circle cx="169.8" cy="114.0" r="0.6" fill="#3a4fb0" />
<circle cx="180.5" cy="146.1" r="0.6" fill="#5a3ab0" />
<circle cx="149.8" cy="119.0" r="0.6" fill="#2a40a0" />
<circle cx="154.3" cy="120.2" r="0.6" fill="#5a3ab0" />
<circle cx="167.7" cy="123.6" r="0.6" fill="#5a3ab0" />
<circle cx="173.4" cy="94.4" r="0.6" fill="#5a3ab0" />
<circle cx="149.9" cy="78.4" r="0.6" fill="#2a40a0" />
<circle cx="149.9" cy="100.9" r="0.6" fill="#2a40a0" />
<circle cx="167.3" cy="117.3" r="0.6" fill="#5a3ab0" />
<circle cx="156.1" cy="87.5" r="0.6" fill="#5a3ab0" />
<circle cx="182.8" cy="93.3" r="0.6" fill="#5a3ab0" />
<circle cx="153.2" cy="133.4" r="0.6" fill="#2a40a0" />
<circle cx="176.3" cy="83.6" r="0.6" fill="#2a40a0" />
<circle cx="157.9" cy="132.7" r="0.6" fill="#3a4fb0" />
<circle cx="162.1" cy="123.5" r="0.6" fill="#2a40a0" />
<circle cx="176.9" cy="81.4" r="0.6" fill="#5a3ab0" />
<circle cx="187.0" cy="123.3" r="0.6" fill="#3a4fb0" />
<circle cx="166.5" cy="136.5" r="0.6" fill="#3a4fb0" />
<circle cx="152.2" cy="128.2" r="0.6" fill="#3a4fb0" />
<circle cx="184.4" cy="106.9" r="0.6" fill="#3a4fb0" />
<circle cx="180.5" cy="76.5" r="0.6" fill="#3a4fb0" />
<circle cx="161.6" cy="135.0" r="0.6" fill="#2a40a0" />
<circle cx="156.3" cy="94.3" r="0.6" fill="#2a40a0" />
<circle cx="152.4" cy="119.2" r="0.6" fill="#2a40a0" />
<circle cx="154.2" cy="95.3" r="0.6" fill="#5a3ab0" />
<circle cx="167.6" cy="120.3" r="0.6" fill="#5a3ab0" />
<circle cx="165.8" cy="103.9" r="0.6" fill="#5a3ab0" />
<circle cx="155.2" cy="74.3" r="0.6" fill="#2a40a0" />
<circle cx="188.5" cy="105.7" r="0.6" fill="#2a40a0" />
<circle cx="157.9" cy="128.4" r="0.6" fill="#2a40a0" />
<circle cx="178.9" cy="144.3" r="0.6" fill="#2a40a0" />
<circle cx="162.6" cy="90.6" r="0.6" fill="#3a4fb0" />
<circle cx="183.3" cy="144.9" r="0.6" fill="#3a4fb0" />
<circle cx="181.4" cy="77.3" r="0.6" fill="#2a40a0" />
<circle cx="169.5" cy="88.5" r="0.6" fill="#5a3ab0" />
<circle cx="172.1" cy="75.0" r="0.6" fill="#2a40a0" />
<circle cx="153.8" cy="110.7" r="0.6" fill="#3a4fb0" />
<circle cx="175.5" cy="112.3" r="0.6" fill="#5a3ab0" />
<circle cx="151.1" cy="140.7" r="0.6" fill="#3a4fb0" />
<circle cx="162.7" cy="92.4" r="0.6" fill="#2a40a0" />
<circle cx="168.1" cy="131.1" r="0.6" fill="#5a3ab0" />
<circle cx="157.8" cy="82.9" r="0.6" fill="#3a4fb0" />
<circle cx="155.9" cy="131.8" r="0.6" fill="#3a4fb0" />
<circle cx="181.9" cy="74.5" r="0.6" fill="#2a40a0" />
<circle cx="171.8" cy="103.2" r="0.6" fill="#5a3ab0" />
<circle cx="158.9" cy="119.1" r="0.6" fill="#2a40a0" />
<circle cx="165.9" cy="108.5" r="0.6" fill="#3a4fb0" />
<circle cx="183.3" cy="130.6" r="0.6" fill="#3a4fb0" />
<circle cx="154.0" cy="79.0" r="0.6" fill="#3a4fb0" />
<circle cx="183.2" cy="80.3" r="0.6" fill="#2a40a0" />
<circle cx="168.6" cy="85.5" r="0.6" fill="#3a4fb0" />
<circle cx="163.1" cy="121.2" r="0.6" fill="#2a40a0" />
<circle cx="161.2" cy="93.3" r="0.6" fill="#5a3ab0" />
<circle cx="166.1" cy="83.3" r="0.6" fill="#3a4fb0" />
<circle cx="177.6" cy="101.8" r="0.6" fill="#3a4fb0" />
<circle cx="171.7" cy="77.1" r="0.6" fill="#5a3ab0" />
<circle cx="173.2" cy="131.1" r="0.6" fill="#5a3ab0" />
<circle cx="174.5" cy="77.2" r="0.6" fill="#5a3ab0" />
<circle cx="151.1" cy="119.8" r="0.6" fill="#2a40a0" />
<circle cx="161.6" cy="143.4" r="0.6" fill="#5a3ab0" />
<circle cx="167.4" cy="91.9" r="0.6" fill="#2a40a0" />
<circle cx="159.8" cy="117.1" r="0.6" fill="#5a3ab0" />
<circle cx="158.0" cy="83.5" r="0.6" fill="#3a4fb0" />
<circle cx="186.5" cy="101.3" r="0.6" fill="#2a40a0" />
<circle cx="180.6" cy="93.1" r="0.6" fill="#5a3ab0" />
<circle cx="176.6" cy="142.6" r="0.6" fill="#2a40a0" />
<circle cx="175.5" cy="138.8" r="0.6" fill="#5a3ab0" />
<circle cx="175.7" cy="127.6" r="0.6" fill="#2a40a0" />
<polygon points="165.6,38 171.3,38 171.3,60 174,60 168.4,72 162.7,60 165.6,60" fill="url(#gArrow)" />
<polygon points="160,104 164,107 156,116 159,118 150,121 151,112 154,114" fill="#3a72d6" />
<polygon points="176,104 172,107 180,116 177,118 186,121 185,112 182,114" fill="#3a72d6" />
<rect x="155.9" y="80.8" width="11" height="9" fill="#f0c8dc" opacity="0.6"/>
<circle cx="160.4" cy="85.3" r="3.3" fill="#9a4a20" />
<circle cx="164.0" cy="86.5" r="2.8" fill="#f8f8f8" stroke="#888" stroke-width="0.3"/>
<rect x="154.4" y="92.8" width="11" height="9" fill="#f0c8dc" opacity="0.6"/>
<circle cx="158.9" cy="97.3" r="3.3" fill="#9a4a20" />
<circle cx="162.5" cy="98.5" r="2.8" fill="#f8f8f8" stroke="#888" stroke-width="0.3"/>
<rect x="157.4" y="121.2" width="11" height="9" fill="#f0c8dc" opacity="0.6"/>
<circle cx="161.9" cy="125.7" r="3.3" fill="#9a4a20" />
<circle cx="165.5" cy="126.9" r="2.8" fill="#f8f8f8" stroke="#888" stroke-width="0.3"/>
<rect x="170.8" y="128.7" width="11" height="9" fill="#f0c8dc" opacity="0.6"/>
<circle cx="175.3" cy="133.2" r="3.3" fill="#9a4a20" />
<circle cx="178.9" cy="134.39999999999998" r="2.8" fill="#f8f8f8" stroke="#888" stroke-width="0.3"/>
<rect x="169.3" y="88.3" width="10" height="9" fill="#f0c8dc" opacity="0.6"/>
<circle cx="173.8" cy="92.8" r="3.2" fill="#6a2a9a" />
<circle cx="176.8" cy="91.6" r="2.2" fill="#b0402a" />
<circle cx="171.3" cy="94.3" r="1.8" fill="#9a4a20" />
<rect x="154.4" y="136.1" width="10" height="9" fill="#f0c8dc" opacity="0.6"/>
<circle cx="158.9" cy="140.6" r="3.2" fill="#6a2a9a" />
<circle cx="161.9" cy="139.4" r="2.2" fill="#b0402a" />
<circle cx="156.4" cy="142.1" r="1.8" fill="#9a4a20" />
<text x="74.6" y="167.8" font-size="8.3" fill="#333" text-anchor="start" font-weight="normal" font-family='"Liberation Sans", sans-serif' >Monolithic 3D sensor-array chip</text>
<text x="204.3" y="13.8" font-size="12.6" fill="#1a1a1a" text-anchor="start" font-weight="normal" font-family='"Liberation Sans", sans-serif' stroke="#1a1a1a" stroke-width="0.2">(b)</text>
<rect x="243.6" y="6.2" width="85.4" height="16.2" fill="#d3d3d3" stroke="#a8a8a8" stroke-width="0.6"/>
<text x="286.3" y="17.2" font-size="7.15" fill="#333" text-anchor="middle" font-weight="normal" font-family='"Liberation Sans", sans-serif' >Elemental distribution</text>
<polygon points="218,35 285,26 285,150 218,165" fill="#fbfbfb" stroke="#cfcfcf" stroke-width="0.6"/>
<polygon points="285,26 362.5,35 356,161 285,150" fill="#fbfbfb" stroke="#c8c8c8" stroke-width="0.6"/>
<polygon points="218,165 285,150 356,161 297,190" fill="#f7f7f7" stroke="#b0b0b0" stroke-width="0.6"/>
<line x1="226.4" y1="33.9" x2="226.4" y2="163.1" stroke="#e2e2e2" stroke-width="0.5" />
<line x1="294.7" y1="27.1" x2="293.9" y2="151.4" stroke="#e2e2e2" stroke-width="0.5" />
<line x1="234.8" y1="32.8" x2="234.8" y2="161.2" stroke="#e2e2e2" stroke-width="0.5" />
<line x1="304.4" y1="28.2" x2="302.8" y2="152.8" stroke="#e2e2e2" stroke-width="0.5" />
<line x1="243.1" y1="31.6" x2="243.1" y2="159.4" stroke="#e2e2e2" stroke-width="0.5" />
<line x1="314.1" y1="29.4" x2="311.6" y2="154.1" stroke="#e2e2e2" stroke-width="0.5" />
<line x1="251.5" y1="30.5" x2="251.5" y2="157.5" stroke="#e2e2e2" stroke-width="0.5" />
<line x1="323.8" y1="30.5" x2="320.5" y2="155.5" stroke="#e2e2e2" stroke-width="0.5" />
<line x1="259.9" y1="29.4" x2="259.9" y2="155.6" stroke="#e2e2e2" stroke-width="0.5" />
<line x1="333.4" y1="31.6" x2="329.4" y2="156.9" stroke="#e2e2e2" stroke-width="0.5" />
<line x1="268.2" y1="28.2" x2="268.2" y2="153.8" stroke="#e2e2e2" stroke-width="0.5" />
<line x1="343.1" y1="32.8" x2="338.2" y2="158.2" stroke="#e2e2e2" stroke-width="0.5" />
<line x1="276.6" y1="27.1" x2="276.6" y2="151.9" stroke="#e2e2e2" stroke-width="0.5" />
<line x1="352.8" y1="33.9" x2="347.1" y2="159.6" stroke="#e2e2e2" stroke-width="0.5" />
<line x1="218" y1="53.6" x2="285" y2="43.7" stroke="#e8e8e8" stroke-width="0.5" />
<line x1="285" y1="43.7" x2="361.6" y2="53.0" stroke="#e8e8e8" stroke-width="0.5" />
<line x1="218" y1="72.1" x2="285" y2="61.4" stroke="#e8e8e8" stroke-width="0.5" />
<line x1="285" y1="61.4" x2="360.6" y2="71.0" stroke="#e8e8e8" stroke-width="0.5" />
<line x1="218" y1="90.7" x2="285" y2="79.1" stroke="#e8e8e8" stroke-width="0.5" />
<line x1="285" y1="79.1" x2="359.7" y2="89.0" stroke="#e8e8e8" stroke-width="0.5" />
<line x1="218" y1="109.3" x2="285" y2="96.9" stroke="#e8e8e8" stroke-width="0.5" />
<line x1="285" y1="96.9" x2="358.8" y2="107.0" stroke="#e8e8e8" stroke-width="0.5" />
<line x1="218" y1="127.9" x2="285" y2="114.6" stroke="#e8e8e8" stroke-width="0.5" />
<line x1="285" y1="114.6" x2="357.9" y2="125.0" stroke="#e8e8e8" stroke-width="0.5" />
<line x1="218" y1="146.4" x2="285" y2="132.3" stroke="#e8e8e8" stroke-width="0.5" />
<line x1="285" y1="132.3" x2="356.9" y2="143.0" stroke="#e8e8e8" stroke-width="0.5" />
<line x1="222" y1="57" x2="250" y2="56" stroke="#f0a0c0" stroke-width="0.5" opacity="0.7"/>
<line x1="222" y1="143" x2="260" y2="144" stroke="#f0a0c0" stroke-width="0.5" opacity="0.7"/>
<line x1="222" y1="150" x2="255" y2="152" stroke="#f0a0c0" stroke-width="0.5" opacity="0.7"/>
<path d="M223,138.5 Q250,129 282.7,124 Q320,139 355.5,156 L355.5,158.5 Q326,176 297.3,191 Q258,170 224,152 Z" fill="url(#gZn)" />
<path d="M250,128.0 Q285.0,140.0 292.0,160.0 Q296.0,178.0 300.0,188.0" fill="none" stroke="#4a6a4a" stroke-width="0.4" opacity="0.65"/>
<path d="M256,127.5 Q289.2,142.4 295.0,163.0 Q297.8,178.6 301.2,186.8" fill="none" stroke="#4a6a4a" stroke-width="0.4" opacity="0.65"/>
<path d="M262,127.0 Q293.4,144.8 298.0,166.0 Q299.6,179.2 302.4,185.6" fill="none" stroke="#4a6a4a" stroke-width="0.4" opacity="0.65"/>
<path d="M268,126.5 Q297.6,147.2 301.0,169.0 Q301.4,179.8 303.6,184.4" fill="none" stroke="#4a6a4a" stroke-width="0.4" opacity="0.65"/>
<path d="M274,126.0 Q301.8,149.6 304.0,172.0 Q303.2,180.4 304.8,183.2" fill="none" stroke="#4a6a4a" stroke-width="0.4" opacity="0.65"/>
<path d="M280,125.5 Q306.0,152.0 307.0,175.0 Q305.0,181.0 306.0,182.0" fill="none" stroke="#4a6a4a" stroke-width="0.4" opacity="0.65"/>
<path d="M286,125.0 Q310.2,154.4 310.0,178.0 Q306.8,181.6 307.2,180.8" fill="none" stroke="#4a6a4a" stroke-width="0.4" opacity="0.65"/>
<path d="M226,141 Q260,140 290,165" fill="none" stroke="#5a7a5a" stroke-width="0.35" opacity="0.5"/>
<path d="M228,145 Q260,146 290,170" fill="none" stroke="#5a7a5a" stroke-width="0.35" opacity="0.5"/>
<path d="M230,149 Q260,152 290,175" fill="none" stroke="#5a7a5a" stroke-width="0.35" opacity="0.5"/>
<path d="M232,153 Q260,158 290,180" fill="none" stroke="#5a7a5a" stroke-width="0.35" opacity="0.5"/>
<path d="M224.5,125.5 Q250,118 268,115.4 Q285,113 297.3,113 Q312,112 326,114 Q342,114.5 355.5,117 L355.5,121 Q340,121 326,121 Q310,119 297.3,119.7 Q282,120 268,121 Q245,124 224.5,128.4 Z" fill="url(#gNi)" />
<path d="M224.5,128.4 Q260,122 297.3,120 Q330,121 355.5,121.5 L355.5,123.5 Q320,124 297.3,123.5 Q260,125 224.5,130 Z" fill="#bfeaf6" opacity="0.8"/>
<path d="M294.5,113 L297.3,119 L300,113 Z" fill="#d4ecf6" />
<path d="M221.6,92.7 Q245,84 262,76 Q276,68 283,60 L285.6,57.8 L288,63 Q292,68 300,70.5 Q318,72 332,74 Q346,77 358.4,81 Q330,93 297.3,108 Q262,101 221.6,92.7 Z" fill="url(#gIn)" />
<path d="M240,92 Q270,84 290,86 Q310,88 330,84" fill="none" stroke="#b8b040" stroke-width="0.35" opacity="0.6"/>
<path d="M262,100 Q285,94 300,98 Q318,96 335,88" fill="none" stroke="#b8b040" stroke-width="0.35" opacity="0.6"/>
<path d="M220.2,44.5 Q242,40 261,36.8 Q274,42 285.6,49.5 Q270,52.5 253.6,53 Q236,50.5 220.2,47.2 Z" fill="url(#gW)" />
<path d="M220.2,44.5 Q242,40 261,36.8 Q274,42 285.6,49.5 Q262,42 220.2,45.5 Z" fill="#c8b078" opacity="0.6"/>
<path d="M285.6,48.2 Q300,49 320.5,52 Q340,57 355.5,63.6 L355.5,65 Q340,64 326.4,63.6 Q312,64 303,66.5 Q299,70 297.3,76.7 Q295.5,70 294.4,63.6 Q290,53 285.6,48.2 Z" fill="url(#gW2)" />
<rect x="343" y="46" width="6" height="9" fill="url(#gLegW)" />
<text x="342.5" y="44" font-size="6" fill="#e08a30" text-anchor="start" font-weight="normal" font-family='"Liberation Sans", sans-serif' >W<tspan dy="-2" font-size="3.5">+</tspan></text>
<rect x="234.5" y="73.5" width="5" height="8.5" fill="url(#gLegIn)" />
<text x="234.3" y="71" font-size="6" fill="#d4b400" text-anchor="start" font-weight="normal" font-family='"Liberation Sans", sans-serif' >In<tspan dy="-2" font-size="3.5">+</tspan></text>
<rect x="235.5" y="108.5" width="5.5" height="11" fill="url(#gLegNi)" />
<text x="235" y="107" font-size="6" fill="#3a58c0" text-anchor="start" font-weight="normal" font-family='"Liberation Sans", sans-serif' >Ni<tspan dy="-2" font-size="3.5">+</tspan></text>
<rect x="342" y="135.7" width="6" height="7.5" fill="url(#gLegZn)" />
<text x="340.5" y="133" font-size="6" fill="#406030" text-anchor="start" font-weight="normal" font-family='"Liberation Sans", sans-serif' >Zn<tspan dy="-2" font-size="3.5">+</tspan></text>
<text x="0" y="0" font-size="6.5" fill="#333" text-anchor="middle" font-weight="normal" font-family='"Liberation Sans", sans-serif' transform="translate(216.5,103) rotate(-90)">Intensity</text>
<text x="0" y="0" font-size="4.9" fill="#8a7a88" text-anchor="start" font-weight="normal" font-family='"Liberation Sans", sans-serif' transform="translate(216,168) rotate(19)">0.0 0.2 0.4 0.6 0.8 1.0 1.2 1.4 1.6</text>
<text x="0" y="0" font-size="4.9" fill="#7a8a90" text-anchor="start" font-weight="normal" font-family='"Liberation Sans", sans-serif' transform="translate(215,173) rotate(19)" letter-spacing="1.2">0 2 4 6 8 0 2 4 6 8</text>
<text x="0" y="0" font-size="6.3" fill="#555" text-anchor="start" font-weight="normal" font-family='"Liberation Sans", sans-serif' transform="translate(217.3,180) rotate(22)">X position (mm)</text>
<text x="0" y="0" font-size="4.9" fill="#777" text-anchor="start" font-weight="normal" font-family='"Liberation Sans", sans-serif' transform="translate(304,191) rotate(-27)">0.0 0.2 0.4 0.6 0.8 1.0 1.2 1.4</text>
<text x="0" y="0" font-size="4.9" fill="#7a8090" text-anchor="start" font-weight="normal" font-family='"Liberation Sans", sans-serif' transform="translate(307,194.5) rotate(-27)" letter-spacing="1.3">0 2 4 6 8 0 2 4 6</text>
<text x="0" y="0" font-size="6.3" fill="#555" text-anchor="start" font-weight="normal" font-family='"Liberation Sans", sans-serif' transform="translate(326,196.5) rotate(-31)">Y position (mm)</text>
<text x="367.6" y="13.8" font-size="12.6" fill="#1a1a1a" text-anchor="start" font-weight="normal" font-family='"Liberation Sans", sans-serif' stroke="#1a1a1a" stroke-width="0.2">(c)</text>
<rect x="399" y="8" width="136" height="126" fill="#eef7fc" />
<rect x="401.8" y="14.7" width="16.05" height="14.7" fill="#2f6cb3" stroke="#d8e9f6" stroke-width="0.6"/>
<text x="409.82" y="24.55" font-size="6.9" fill="#ffffff" text-anchor="middle" font-weight="normal" font-family='"Liberation Sans", sans-serif' stroke="#ffffff" stroke-width="0.15">536</text>
<rect x="417.85" y="14.7" width="16.05" height="14.7" fill="#b9d3ea" stroke="#d8e9f6" stroke-width="0.6"/>
<text x="425.88" y="24.55" font-size="6.9" fill="#2a2a2a" text-anchor="middle" font-weight="normal" font-family='"Liberation Sans", sans-serif' stroke="#2a2a2a" stroke-width="0.15">0</text>
<rect x="433.9" y="14.7" width="16.05" height="14.7" fill="#b9d3ea" stroke="#d8e9f6" stroke-width="0.6"/>
<text x="441.93" y="24.55" font-size="6.9" fill="#2a2a2a" text-anchor="middle" font-weight="normal" font-family='"Liberation Sans", sans-serif' stroke="#2a2a2a" stroke-width="0.15">5</text>
<rect x="449.95" y="14.7" width="16.05" height="14.7" fill="#b9d3ea" stroke="#d8e9f6" stroke-width="0.6"/>
<text x="457.98" y="24.55" font-size="6.9" fill="#2a2a2a" text-anchor="middle" font-weight="normal" font-family='"Liberation Sans", sans-serif' stroke="#2a2a2a" stroke-width="0.15">17</text>
<rect x="466.0" y="14.7" width="16.05" height="14.7" fill="#b9d3ea" stroke="#d8e9f6" stroke-width="0.6"/>
<text x="474.02" y="24.55" font-size="6.9" fill="#2a2a2a" text-anchor="middle" font-weight="normal" font-family='"Liberation Sans", sans-serif' stroke="#2a2a2a" stroke-width="0.15">0</text>
<rect x="482.05" y="14.7" width="16.05" height="14.7" fill="#b9d3ea" stroke="#d8e9f6" stroke-width="0.6"/>
<text x="490.07" y="24.55" font-size="6.9" fill="#2a2a2a" text-anchor="middle" font-weight="normal" font-family='"Liberation Sans", sans-serif' stroke="#2a2a2a" stroke-width="0.15">0</text>
<rect x="498.1" y="14.7" width="16.05" height="14.7" fill="#b9d3ea" stroke="#d8e9f6" stroke-width="0.6"/>
<text x="506.12" y="24.55" font-size="6.9" fill="#2a2a2a" text-anchor="middle" font-weight="normal" font-family='"Liberation Sans", sans-serif' stroke="#2a2a2a" stroke-width="0.15">2</text>
<rect x="514.15" y="14.7" width="16.05" height="14.7" fill="#b9d3ea" stroke="#d8e9f6" stroke-width="0.6"/>
<text x="522.17" y="24.55" font-size="6.9" fill="#2a2a2a" text-anchor="middle" font-weight="normal" font-family='"Liberation Sans", sans-serif' stroke="#2a2a2a" stroke-width="0.15">0</text>
<text x="395.5" y="24.75" font-size="7.5" fill="#555" text-anchor="middle" font-weight="normal" font-family='"Liberation Sans", sans-serif' >A</text>
<text x="409.82" y="143" font-size="7.5" fill="#555" text-anchor="middle" font-weight="normal" font-family='"Liberation Sans", sans-serif' >A</text>
<rect x="401.8" y="29.4" width="16.05" height="14.7" fill="#b9d3ea" stroke="#d8e9f6" stroke-width="0.6"/>
<text x="409.82" y="39.25" font-size="6.9" fill="#2a2a2a" text-anchor="middle" font-weight="normal" font-family='"Liberation Sans", sans-serif' stroke="#2a2a2a" stroke-width="0.15">0</text>
<rect x="417.85" y="29.4" width="16.05" height="14.7" fill="#2f6cb3" stroke="#d8e9f6" stroke-width="0.6"/>
<text x="425.88" y="39.25" font-size="6.9" fill="#ffffff" text-anchor="middle" font-weight="normal" font-family='"Liberation Sans", sans-serif' stroke="#ffffff" stroke-width="0.15">534</text>
<rect x="433.9" y="29.4" width="16.05" height="14.7" fill="#b9d3ea" stroke="#d8e9f6" stroke-width="0.6"/>
<text x="441.93" y="39.25" font-size="6.9" fill="#2a2a2a" text-anchor="middle" font-weight="normal" font-family='"Liberation Sans", sans-serif' stroke="#2a2a2a" stroke-width="0.15">8</text>
<rect x="449.95" y="29.4" width="16.05" height="14.7" fill="#b9d3ea" stroke="#d8e9f6" stroke-width="0.6"/>
<text x="457.98" y="39.25" font-size="6.9" fill="#2a2a2a" text-anchor="middle" font-weight="normal" font-family='"Liberation Sans", sans-serif' stroke="#2a2a2a" stroke-width="0.15">10</text>
<rect x="466.0" y="29.4" width="16.05" height="14.7" fill="#b9d3ea" stroke="#d8e9f6" stroke-width="0.6"/>
<text x="474.02" y="39.25" font-size="6.9" fill="#2a2a2a" text-anchor="middle" font-weight="normal" font-family='"Liberation Sans", sans-serif' stroke="#2a2a2a" stroke-width="0.15">0</text>
<rect x="482.05" y="29.4" width="16.05" height="14.7" fill="#b9d3ea" stroke="#d8e9f6" stroke-width="0.6"/>
<text x="490.07" y="39.25" font-size="6.9" fill="#2a2a2a" text-anchor="middle" font-weight="normal" font-family='"Liberation Sans", sans-serif' stroke="#2a2a2a" stroke-width="0.15">6</text>
<rect x="498.1" y="29.4" width="16.05" height="14.7" fill="#b9d3ea" stroke="#d8e9f6" stroke-width="0.6"/>
<text x="506.12" y="39.25" font-size="6.9" fill="#2a2a2a" text-anchor="middle" font-weight="normal" font-family='"Liberation Sans", sans-serif' stroke="#2a2a2a" stroke-width="0.15">2</text>
<rect x="514.15" y="29.4" width="16.05" height="14.7" fill="#b9d3ea" stroke="#d8e9f6" stroke-width="0.6"/>
<text x="522.17" y="39.25" font-size="6.9" fill="#2a2a2a" text-anchor="middle" font-weight="normal" font-family='"Liberation Sans", sans-serif' stroke="#2a2a2a" stroke-width="0.15">0</text>
<text x="395.5" y="39.45" font-size="7.5" fill="#555" text-anchor="middle" font-weight="normal" font-family='"Liberation Sans", sans-serif' >C</text>
<text x="425.88" y="143" font-size="7.5" fill="#555" text-anchor="middle" font-weight="normal" font-family='"Liberation Sans", sans-serif' >C</text>
<rect x="401.8" y="44.1" width="16.05" height="14.7" fill="#b9d3ea" stroke="#d8e9f6" stroke-width="0.6"/>
<text x="409.82" y="53.95" font-size="6.9" fill="#2a2a2a" text-anchor="middle" font-weight="normal" font-family='"Liberation Sans", sans-serif' stroke="#2a2a2a" stroke-width="0.15">3</text>
<rect x="417.85" y="44.1" width="16.05" height="14.7" fill="#b9d3ea" stroke="#d8e9f6" stroke-width="0.6"/>
<text x="425.88" y="53.95" font-size="6.9" fill="#2a2a2a" text-anchor="middle" font-weight="normal" font-family='"Liberation Sans", sans-serif' stroke="#2a2a2a" stroke-width="0.15">5</text>
<rect x="433.9" y="44.1" width="16.05" height="14.7" fill="#2f6cb3" stroke="#d8e9f6" stroke-width="0.6"/>
<text x="441.93" y="53.95" font-size="6.9" fill="#ffffff" text-anchor="middle" font-weight="normal" font-family='"Liberation Sans", sans-serif' stroke="#ffffff" stroke-width="0.15">537</text>
<rect x="449.95" y="44.1" width="16.05" height="14.7" fill="#b9d3ea" stroke="#d8e9f6" stroke-width="0.6"/>
<text x="457.98" y="53.95" font-size="6.9" fill="#2a2a2a" text-anchor="middle" font-weight="normal" font-family='"Liberation Sans", sans-serif' stroke="#2a2a2a" stroke-width="0.15">4</text>
<rect x="466.0" y="44.1" width="16.05" height="14.7" fill="#b9d3ea" stroke="#d8e9f6" stroke-width="0.6"/>
<text x="474.02" y="53.95" font-size="6.9" fill="#2a2a2a" text-anchor="middle" font-weight="normal" font-family='"Liberation Sans", sans-serif' stroke="#2a2a2a" stroke-width="0.15">0</text>
<rect x="482.05" y="44.1" width="16.05" height="14.7" fill="#b9d3ea" stroke="#d8e9f6" stroke-width="0.6"/>
<text x="490.07" y="53.95" font-size="6.9" fill="#2a2a2a" text-anchor="middle" font-weight="normal" font-family='"Liberation Sans", sans-serif' stroke="#2a2a2a" stroke-width="0.15">1</text>
<rect x="498.1" y="44.1" width="16.05" height="14.7" fill="#b9d3ea" stroke="#d8e9f6" stroke-width="0.6"/>
<text x="506.12" y="53.95" font-size="6.9" fill="#2a2a2a" text-anchor="middle" font-weight="normal" font-family='"Liberation Sans", sans-serif' stroke="#2a2a2a" stroke-width="0.15">5</text>
<rect x="514.15" y="44.1" width="16.05" height="14.7" fill="#b9d3ea" stroke="#d8e9f6" stroke-width="0.6"/>
<text x="522.17" y="53.95" font-size="6.9" fill="#2a2a2a" text-anchor="middle" font-weight="normal" font-family='"Liberation Sans", sans-serif' stroke="#2a2a2a" stroke-width="0.15">5</text>
<text x="395.5" y="54.15" font-size="7.5" fill="#555" text-anchor="middle" font-weight="normal" font-family='"Liberation Sans", sans-serif' >E</text>
<text x="441.93" y="143" font-size="7.5" fill="#555" text-anchor="middle" font-weight="normal" font-family='"Liberation Sans", sans-serif' >E</text>
<rect x="401.8" y="58.8" width="16.05" height="14.7" fill="#b9d3ea" stroke="#d8e9f6" stroke-width="0.6"/>
<text x="409.82" y="68.65" font-size="6.9" fill="#2a2a2a" text-anchor="middle" font-weight="normal" font-family='"Liberation Sans", sans-serif' stroke="#2a2a2a" stroke-width="0.15">1</text>
<rect x="417.85" y="58.8" width="16.05" height="14.7" fill="#b9d3ea" stroke="#d8e9f6" stroke-width="0.6"/>
<text x="425.88" y="68.65" font-size="6.9" fill="#2a2a2a" text-anchor="middle" font-weight="normal" font-family='"Liberation Sans", sans-serif' stroke="#2a2a2a" stroke-width="0.15">13</text>
<rect x="433.9" y="58.8" width="16.05" height="14.7" fill="#b9d3ea" stroke="#d8e9f6" stroke-width="0.6"/>
<text x="441.93" y="68.65" font-size="6.9" fill="#2a2a2a" text-anchor="middle" font-weight="normal" font-family='"Liberation Sans", sans-serif' stroke="#2a2a2a" stroke-width="0.15">1</text>
<rect x="449.95" y="58.8" width="16.05" height="14.7" fill="#2f6cb3" stroke="#d8e9f6" stroke-width="0.6"/>
<text x="457.98" y="68.65" font-size="6.9" fill="#ffffff" text-anchor="middle" font-weight="normal" font-family='"Liberation Sans", sans-serif' stroke="#ffffff" stroke-width="0.15">543</text>
<rect x="466.0" y="58.8" width="16.05" height="14.7" fill="#b9d3ea" stroke="#d8e9f6" stroke-width="0.6"/>
<text x="474.02" y="68.65" font-size="6.9" fill="#2a2a2a" text-anchor="middle" font-weight="normal" font-family='"Liberation Sans", sans-serif' stroke="#2a2a2a" stroke-width="0.15">0</text>
<rect x="482.05" y="58.8" width="16.05" height="14.7" fill="#b9d3ea" stroke="#d8e9f6" stroke-width="0.6"/>
<text x="490.07" y="68.65" font-size="6.9" fill="#2a2a2a" text-anchor="middle" font-weight="normal" font-family='"Liberation Sans", sans-serif' stroke="#2a2a2a" stroke-width="0.15">0</text>
<rect x="498.1" y="58.8" width="16.05" height="14.7" fill="#b9d3ea" stroke="#d8e9f6" stroke-width="0.6"/>
<text x="506.12" y="68.65" font-size="6.9" fill="#2a2a2a" text-anchor="middle" font-weight="normal" font-family='"Liberation Sans", sans-serif' stroke="#2a2a2a" stroke-width="0.15">2</text>
<rect x="514.15" y="58.8" width="16.05" height="14.7" fill="#b9d3ea" stroke="#d8e9f6" stroke-width="0.6"/>
<text x="522.17" y="68.65" font-size="6.9" fill="#2a2a2a" text-anchor="middle" font-weight="normal" font-family='"Liberation Sans", sans-serif' stroke="#2a2a2a" stroke-width="0.15">0</text>
<text x="395.5" y="68.85" font-size="7.5" fill="#555" text-anchor="middle" font-weight="normal" font-family='"Liberation Sans", sans-serif' >F</text>
<text x="457.98" y="143" font-size="7.5" fill="#555" text-anchor="middle" font-weight="normal" font-family='"Liberation Sans", sans-serif' >F</text>
<rect x="401.8" y="73.5" width="16.05" height="14.7" fill="#b9d3ea" stroke="#d8e9f6" stroke-width="0.6"/>
<text x="409.82" y="83.35" font-size="6.9" fill="#2a2a2a" text-anchor="middle" font-weight="normal" font-family='"Liberation Sans", sans-serif' stroke="#2a2a2a" stroke-width="0.15">0</text>
<rect x="417.85" y="73.5" width="16.05" height="14.7" fill="#b9d3ea" stroke="#d8e9f6" stroke-width="0.6"/>
<text x="425.88" y="83.35" font-size="6.9" fill="#2a2a2a" text-anchor="middle" font-weight="normal" font-family='"Liberation Sans", sans-serif' stroke="#2a2a2a" stroke-width="0.15">1</text>
<rect x="433.9" y="73.5" width="16.05" height="14.7" fill="#b9d3ea" stroke="#d8e9f6" stroke-width="0.6"/>
<text x="441.93" y="83.35" font-size="6.9" fill="#2a2a2a" text-anchor="middle" font-weight="normal" font-family='"Liberation Sans", sans-serif' stroke="#2a2a2a" stroke-width="0.15">0</text>
<rect x="449.95" y="73.5" width="16.05" height="14.7" fill="#b9d3ea" stroke="#d8e9f6" stroke-width="0.6"/>
<text x="457.98" y="83.35" font-size="6.9" fill="#2a2a2a" text-anchor="middle" font-weight="normal" font-family='"Liberation Sans", sans-serif' stroke="#2a2a2a" stroke-width="0.15">0</text>
<rect x="466.0" y="73.5" width="16.05" height="14.7" fill="#2f6cb3" stroke="#d8e9f6" stroke-width="0.6"/>
<text x="474.02" y="83.35" font-size="6.9" fill="#ffffff" text-anchor="middle" font-weight="normal" font-family='"Liberation Sans", sans-serif' stroke="#ffffff" stroke-width="0.15">479</text>
<rect x="482.05" y="73.5" width="16.05" height="14.7" fill="#b9d3ea" stroke="#d8e9f6" stroke-width="0.6"/>
<text x="490.07" y="83.35" font-size="6.9" fill="#2a2a2a" text-anchor="middle" font-weight="normal" font-family='"Liberation Sans", sans-serif' stroke="#2a2a2a" stroke-width="0.15">0</text>
<rect x="498.1" y="73.5" width="16.05" height="14.7" fill="#b9d3ea" stroke="#d8e9f6" stroke-width="0.6"/>
<text x="506.12" y="83.35" font-size="6.9" fill="#2a2a2a" text-anchor="middle" font-weight="normal" font-family='"Liberation Sans", sans-serif' stroke="#2a2a2a" stroke-width="0.15">0</text>
<rect x="514.15" y="73.5" width="16.05" height="14.7" fill="#b9d3ea" stroke="#d8e9f6" stroke-width="0.6"/>
<text x="522.17" y="83.35" font-size="6.9" fill="#2a2a2a" text-anchor="middle" font-weight="normal" font-family='"Liberation Sans", sans-serif' stroke="#2a2a2a" stroke-width="0.15">0</text>
<text x="395.5" y="83.55" font-size="7.5" fill="#555" text-anchor="middle" font-weight="normal" font-family='"Liberation Sans", sans-serif' >N</text>
<text x="474.02" y="143" font-size="7.5" fill="#555" text-anchor="middle" font-weight="normal" font-family='"Liberation Sans", sans-serif' >N</text>
<rect x="401.8" y="88.2" width="16.05" height="14.7" fill="#b9d3ea" stroke="#d8e9f6" stroke-width="0.6"/>
<text x="409.82" y="98.05" font-size="6.9" fill="#2a2a2a" text-anchor="middle" font-weight="normal" font-family='"Liberation Sans", sans-serif' stroke="#2a2a2a" stroke-width="0.15">0</text>
<rect x="417.85" y="88.2" width="16.05" height="14.7" fill="#b9d3ea" stroke="#d8e9f6" stroke-width="0.6"/>
<text x="425.88" y="98.05" font-size="6.9" fill="#2a2a2a" text-anchor="middle" font-weight="normal" font-family='"Liberation Sans", sans-serif' stroke="#2a2a2a" stroke-width="0.15">3</text>
<rect x="433.9" y="88.2" width="16.05" height="14.7" fill="#b9d3ea" stroke="#d8e9f6" stroke-width="0.6"/>
<text x="441.93" y="98.05" font-size="6.9" fill="#2a2a2a" text-anchor="middle" font-weight="normal" font-family='"Liberation Sans", sans-serif' stroke="#2a2a2a" stroke-width="0.15">2</text>
<rect x="449.95" y="88.2" width="16.05" height="14.7" fill="#b9d3ea" stroke="#d8e9f6" stroke-width="0.6"/>
<text x="457.98" y="98.05" font-size="6.9" fill="#2a2a2a" text-anchor="middle" font-weight="normal" font-family='"Liberation Sans", sans-serif' stroke="#2a2a2a" stroke-width="0.15">0</text>
<rect x="466.0" y="88.2" width="16.05" height="14.7" fill="#b9d3ea" stroke="#d8e9f6" stroke-width="0.6"/>
<text x="474.02" y="98.05" font-size="6.9" fill="#2a2a2a" text-anchor="middle" font-weight="normal" font-family='"Liberation Sans", sans-serif' stroke="#2a2a2a" stroke-width="0.15">0</text>
<rect x="482.05" y="88.2" width="16.05" height="14.7" fill="#2f6cb3" stroke="#d8e9f6" stroke-width="0.6"/>
<text x="490.07" y="98.05" font-size="6.9" fill="#ffffff" text-anchor="middle" font-weight="normal" font-family='"Liberation Sans", sans-serif' stroke="#ffffff" stroke-width="0.15">553</text>
<rect x="498.1" y="88.2" width="16.05" height="14.7" fill="#b9d3ea" stroke="#d8e9f6" stroke-width="0.6"/>
<text x="506.12" y="98.05" font-size="6.9" fill="#2a2a2a" text-anchor="middle" font-weight="normal" font-family='"Liberation Sans", sans-serif' stroke="#2a2a2a" stroke-width="0.15">0</text>
<rect x="514.15" y="88.2" width="16.05" height="14.7" fill="#b9d3ea" stroke="#d8e9f6" stroke-width="0.6"/>
<text x="522.17" y="98.05" font-size="6.9" fill="#2a2a2a" text-anchor="middle" font-weight="normal" font-family='"Liberation Sans", sans-serif' stroke="#2a2a2a" stroke-width="0.15">2</text>
<text x="395.5" y="98.25" font-size="7.5" fill="#555" text-anchor="middle" font-weight="normal" font-family='"Liberation Sans", sans-serif' >T</text>
<text x="490.07" y="143" font-size="7.5" fill="#555" text-anchor="middle" font-weight="normal" font-family='"Liberation Sans", sans-serif' >T</text>
<rect x="401.8" y="102.9" width="16.05" height="14.7" fill="#b9d3ea" stroke="#d8e9f6" stroke-width="0.6"/>
<text x="409.82" y="112.75" font-size="6.9" fill="#2a2a2a" text-anchor="middle" font-weight="normal" font-family='"Liberation Sans", sans-serif' stroke="#2a2a2a" stroke-width="0.15">1</text>
<rect x="417.85" y="102.9" width="16.05" height="14.7" fill="#b9d3ea" stroke="#d8e9f6" stroke-width="0.6"/>
<text x="425.88" y="112.75" font-size="6.9" fill="#2a2a2a" text-anchor="middle" font-weight="normal" font-family='"Liberation Sans", sans-serif' stroke="#2a2a2a" stroke-width="0.15">1</text>
<rect x="433.9" y="102.9" width="16.05" height="14.7" fill="#b9d3ea" stroke="#d8e9f6" stroke-width="0.6"/>
<text x="441.93" y="112.75" font-size="6.9" fill="#2a2a2a" text-anchor="middle" font-weight="normal" font-family='"Liberation Sans", sans-serif' stroke="#2a2a2a" stroke-width="0.15">7</text>
<rect x="449.95" y="102.9" width="16.05" height="14.7" fill="#b9d3ea" stroke="#d8e9f6" stroke-width="0.6"/>
<text x="457.98" y="112.75" font-size="6.9" fill="#2a2a2a" text-anchor="middle" font-weight="normal" font-family='"Liberation Sans", sans-serif' stroke="#2a2a2a" stroke-width="0.15">5</text>
<rect x="466.0" y="102.9" width="16.05" height="14.7" fill="#b9d3ea" stroke="#d8e9f6" stroke-width="0.6"/>
<text x="474.02" y="112.75" font-size="6.9" fill="#2a2a2a" text-anchor="middle" font-weight="normal" font-family='"Liberation Sans", sans-serif' stroke="#2a2a2a" stroke-width="0.15">0</text>
<rect x="482.05" y="102.9" width="16.05" height="14.7" fill="#b9d3ea" stroke="#d8e9f6" stroke-width="0.6"/>
<text x="490.07" y="112.75" font-size="6.9" fill="#2a2a2a" text-anchor="middle" font-weight="normal" font-family='"Liberation Sans", sans-serif' stroke="#2a2a2a" stroke-width="0.15">3</text>
<rect x="498.1" y="102.9" width="16.05" height="14.7" fill="#2f6cb3" stroke="#d8e9f6" stroke-width="0.6"/>
<text x="506.12" y="112.75" font-size="6.9" fill="#ffffff" text-anchor="middle" font-weight="normal" font-family='"Liberation Sans", sans-serif' stroke="#ffffff" stroke-width="0.15">380</text>
<rect x="514.15" y="102.9" width="16.05" height="14.7" fill="#b9d3ea" stroke="#d8e9f6" stroke-width="0.6"/>
<text x="522.17" y="112.75" font-size="6.9" fill="#2a2a2a" text-anchor="middle" font-weight="normal" font-family='"Liberation Sans", sans-serif' stroke="#2a2a2a" stroke-width="0.15">3</text>
<text x="395.5" y="112.95" font-size="7.5" fill="#555" text-anchor="middle" font-weight="normal" font-family='"Liberation Sans", sans-serif' >H</text>
<text x="506.12" y="143" font-size="7.5" fill="#555" text-anchor="middle" font-weight="normal" font-family='"Liberation Sans", sans-serif' >H</text>
<rect x="401.8" y="117.6" width="16.05" height="14.7" fill="#b9d3ea" stroke="#d8e9f6" stroke-width="0.6"/>
<text x="409.82" y="127.45" font-size="6.9" fill="#2a2a2a" text-anchor="middle" font-weight="normal" font-family='"Liberation Sans", sans-serif' stroke="#2a2a2a" stroke-width="0.15">0</text>
<rect x="417.85" y="117.6" width="16.05" height="14.7" fill="#b9d3ea" stroke="#d8e9f6" stroke-width="0.6"/>
<text x="425.88" y="127.45" font-size="6.9" fill="#2a2a2a" text-anchor="middle" font-weight="normal" font-family='"Liberation Sans", sans-serif' stroke="#2a2a2a" stroke-width="0.15">0</text>
<rect x="433.9" y="117.6" width="16.05" height="14.7" fill="#b9d3ea" stroke="#d8e9f6" stroke-width="0.6"/>
<text x="441.93" y="127.45" font-size="6.9" fill="#2a2a2a" text-anchor="middle" font-weight="normal" font-family='"Liberation Sans", sans-serif' stroke="#2a2a2a" stroke-width="0.15">5</text>
<rect x="449.95" y="117.6" width="16.05" height="14.7" fill="#b9d3ea" stroke="#d8e9f6" stroke-width="0.6"/>
<text x="457.98" y="127.45" font-size="6.9" fill="#2a2a2a" text-anchor="middle" font-weight="normal" font-family='"Liberation Sans", sans-serif' stroke="#2a2a2a" stroke-width="0.15">0</text>
<rect x="466.0" y="117.6" width="16.05" height="14.7" fill="#b9d3ea" stroke="#d8e9f6" stroke-width="0.6"/>
<text x="474.02" y="127.45" font-size="6.9" fill="#2a2a2a" text-anchor="middle" font-weight="normal" font-family='"Liberation Sans", sans-serif' stroke="#2a2a2a" stroke-width="0.15">0</text>
<rect x="482.05" y="117.6" width="16.05" height="14.7" fill="#b9d3ea" stroke="#d8e9f6" stroke-width="0.6"/>
<text x="490.07" y="127.45" font-size="6.9" fill="#2a2a2a" text-anchor="middle" font-weight="normal" font-family='"Liberation Sans", sans-serif' stroke="#2a2a2a" stroke-width="0.15">5</text>
<rect x="498.1" y="117.6" width="16.05" height="14.7" fill="#b9d3ea" stroke="#d8e9f6" stroke-width="0.6"/>
<text x="506.12" y="127.45" font-size="6.9" fill="#2a2a2a" text-anchor="middle" font-weight="normal" font-family='"Liberation Sans", sans-serif' stroke="#2a2a2a" stroke-width="0.15">3</text>
<rect x="514.15" y="117.6" width="16.05" height="14.7" fill="#2f6cb3" stroke="#d8e9f6" stroke-width="0.6"/>
<text x="522.17" y="127.45" font-size="6.9" fill="#ffffff" text-anchor="middle" font-weight="normal" font-family='"Liberation Sans", sans-serif' stroke="#ffffff" stroke-width="0.15">467</text>
<text x="395.5" y="127.65" font-size="7.5" fill="#555" text-anchor="middle" font-weight="normal" font-family='"Liberation Sans", sans-serif' >I</text>
<text x="522.17" y="143" font-size="7.5" fill="#555" text-anchor="middle" font-weight="normal" font-family='"Liberation Sans", sans-serif' >I</text>
<text x="465.5" y="158.4" font-size="9.8" fill="#2a2a2a" text-anchor="middle" font-weight="normal" font-family='"Liberation Sans", sans-serif' >Predicted class</text>
<text x="0" y="0" font-size="9.8" fill="#2a2a2a" text-anchor="middle" font-weight="normal" font-family='"Liberation Sans", sans-serif' transform="translate(384.5,72) rotate(-90)">Actual class</text>
<text x="11" y="192.6" font-size="12.6" fill="#1a1a1a" text-anchor="start" font-weight="normal" font-family='"Liberation Sans", sans-serif' stroke="#1a1a1a" stroke-width="0.2">(d)</text>
<line x1="6" y1="208" x2="307.5" y2="208" stroke="#6a3a4a" stroke-width="0.8" stroke-dasharray="1,1.4"/>
<line x1="307.5" y1="208" x2="307.5" y2="409" stroke="#4d7fd4" stroke-width="0.8" stroke-dasharray="3,2"/>
<line x1="5" y1="293.5" x2="307.5" y2="293.5" stroke="#4d7fd4" stroke-width="0.9" stroke-dasharray="3,2"/>
<text x="25" y="224.3" font-size="7.4" fill="#111" text-anchor="start" font-weight="bold" font-family='"Liberation Serif", serif' >4.6 eV</text>
<text x="47" y="224.3" font-size="8.9" fill="#111" text-anchor="start" font-weight="bold" font-family='"Liberation Serif", serif' >Before contact</text>
<text x="107.5" y="224.3" font-size="7.4" fill="#111" text-anchor="start" font-weight="bold" font-family='"Liberation Serif", serif' >4.4 eV</text>
<line x1="34.7" y1="209" x2="34.7" y2="234" stroke="#555" stroke-width="0.6" stroke-dasharray="1,1"/>
<polygon points="33.3,212 34.7,209 36.1,212" fill="#555" />
<line x1="117" y1="209" x2="117" y2="238" stroke="#555" stroke-width="0.6" stroke-dasharray="1,1"/>
<polygon points="115.6,212 117,209 118.4,212" fill="#555" />
<rect x="20" y="264" width="52" height="5" fill="#f7dde2" />
<rect x="21.6" y="234.7" width="51" height="28.3" fill="#a3a6db" />
<line x1="21.6" y1="234.9" x2="72.6" y2="234.9" stroke="#3b3f98" stroke-width="0.9" />
<line x1="21.6" y1="262.8" x2="72.6" y2="262.8" stroke="#3b3f98" stroke-width="0.9" />
<line x1="21.6" y1="254.5" x2="72.6" y2="254.5" stroke="#2b2f8a" stroke-width="0.7" stroke-dasharray="1.4,1"/>
<line x1="29.2" y1="237" x2="29.2" y2="261" stroke="#333" stroke-width="0.5" stroke-dasharray="0.8,0.8"/>
<text x="36.8" y="244.3" font-size="8.0" fill="#1e2250" text-anchor="start" font-weight="bold" font-family='"Liberation Serif", serif' >1.65 eV</text>
<text x="14" y="234.7" font-size="8.3" fill="#111" text-anchor="start" font-weight="bold" font-family='"Liberation Serif", serif' >E<tspan dy="1.8" font-size="5.0">c</tspan></text>
<text x="14" y="255.4" font-size="8.3" fill="#111" text-anchor="start" font-weight="bold" font-family='"Liberation Serif", serif' >E<tspan dy="1.8" font-size="5.0">f</tspan></text>
<text x="14" y="265.7" font-size="8.3" fill="#111" text-anchor="start" font-weight="bold" font-family='"Liberation Serif", serif' >E<tspan dy="1.8" font-size="5.0">v</tspan></text>
<circle cx="29.3" cy="266.4" r="2.3" fill="url(#gHole)" />
<circle cx="37.5" cy="266.4" r="2.3" fill="url(#gHole)" />
<circle cx="46.2" cy="266.4" r="2.3" fill="url(#gHole)" />
<circle cx="55" cy="266.4" r="2.3" fill="url(#gHole)" />
<circle cx="64.6" cy="266.4" r="2.3" fill="url(#gHole)" />
<text x="29.3" y="276.8" font-size="7.7" fill="#111" text-anchor="start" font-weight="bold" font-family='"Liberation Serif", serif' >p - Ti<tspan dy="1.5" font-size="4.6">3</tspan><tspan dy="-1.5">C</tspan><tspan dy="1.5" font-size="4.6">2</tspan><tspan dy="-1.5">T</tspan><tspan dy="1.5" font-size="4.6">x</tspan><tspan dy="-1.5"></tspan></text>
<line x1="72.6" y1="262.8" x2="81.6" y2="239.2" stroke="#3b3f98" stroke-width="0.9" />
<rect x="80" y="237.5" width="55" height="46" fill="#c4f1fb" />
<rect x="81.6" y="239.2" width="51.5" height="42.1" fill="#41b7ec" />
<line x1="81.6" y1="239.2" x2="133.1" y2="239.2" stroke="#5a5ac0" stroke-width="0.9" />
<line x1="81.6" y1="281.3" x2="133.1" y2="281.3" stroke="#5a5ac0" stroke-width="0.9" />
<line x1="81.6" y1="246" x2="133.1" y2="246" stroke="#1a3f8a" stroke-width="0.7" stroke-dasharray="1.4,1"/>
<line x1="123.5" y1="241" x2="123.5" y2="279" stroke="#1a3f8a" stroke-width="0.5" stroke-dasharray="0.8,0.8"/>
<text x="96.9" y="266.5" font-size="8.0" fill="#1a2a50" text-anchor="start" font-weight="bold" font-family='"Liberation Serif", serif' >3.12 eV</text>
<circle cx="88.8" cy="235.5" r="2.7" fill="url(#gEl)" />
<circle cx="98" cy="235.5" r="2.7" fill="url(#gEl)" />
<circle cx="108.2" cy="235.5" r="2.7" fill="url(#gEl)" />
<circle cx="117" cy="235.5" r="2.7" fill="url(#gEl)" />
<circle cx="125.9" cy="235.5" r="2.7" fill="url(#gEl)" />
<text x="133.9" y="237.9" font-size="8.3" fill="#111" text-anchor="start" font-weight="bold" font-family='"Liberation Serif", serif' >E<tspan dy="1.8" font-size="5.0">c</tspan></text>
<text x="133.9" y="250.7" font-size="8.3" fill="#111" text-anchor="start" font-weight="bold" font-family='"Liberation Serif", serif' >E<tspan dy="1.8" font-size="5.0">f</tspan></text>
<text x="133.9" y="282.1" font-size="8.3" fill="#111" text-anchor="start" font-weight="bold" font-family='"Liberation Serif", serif' >E<tspan dy="1.8" font-size="5.0">v</tspan></text>
<text x="92.9" y="289.4" font-size="8.0" fill="#111" text-anchor="start" font-weight="bold" font-family='"Liberation Serif", serif' >n - ZnO</text>
<text x="241" y="222.3" font-size="9.3" fill="#111" text-anchor="middle" font-weight="bold" font-family='"Liberation Serif", serif' >After contact</text>
<rect x="180" y="262" width="48" height="7" fill="#f7dde2" />
<rect x="177.2" y="235.1" width="50.8" height="27.5" fill="#a3a6db" />
<rect x="225.5" y="240" width="2.5" height="20" fill="#e0a8d0" opacity="0.6"/>
<line x1="177.2" y1="235.3" x2="228" y2="235.3" stroke="#3b3f98" stroke-width="0.9" />
<line x1="177.2" y1="262.5" x2="228" y2="262.5" stroke="#3b3f98" stroke-width="0.9" />
<line x1="177.2" y1="250.4" x2="292" y2="250.4" stroke="#2b2f8a" stroke-width="0.7" stroke-dasharray="1.4,1"/>
<line x1="184.5" y1="237" x2="184.5" y2="261" stroke="#333" stroke-width="0.5" stroke-dasharray="0.8,0.8"/>
<text x="187" y="243.8" font-size="8.0" fill="#1e2250" text-anchor="start" font-weight="bold" font-family='"Liberation Serif", serif' >1.65 eV</text>
<text x="168.2" y="234" font-size="8.3" fill="#111" text-anchor="start" font-weight="bold" font-family='"Liberation Serif", serif' >E<tspan dy="1.8" font-size="5.0">c</tspan></text>
<text x="168.2" y="252" font-size="8.3" fill="#111" text-anchor="start" font-weight="bold" font-family='"Liberation Serif", serif' >E<tspan dy="1.8" font-size="5.0">f</tspan></text>
<text x="168.2" y="265" font-size="8.3" fill="#111" text-anchor="start" font-weight="bold" font-family='"Liberation Serif", serif' >E<tspan dy="1.8" font-size="5.0">v</tspan></text>
<rect x="238.8" y="237" width="54.2" height="46" fill="#c4f1fb" />
<rect x="240.9" y="239.8" width="50.5" height="40.9" fill="#41b7ec" />
<line x1="240.9" y1="239.8" x2="291.4" y2="239.8" stroke="#5a5ac0" stroke-width="0.9" />
<line x1="240.9" y1="280.7" x2="291.4" y2="280.7" stroke="#5a5ac0" stroke-width="0.9" />
<line x1="283" y1="241" x2="283" y2="279" stroke="#1a3f8a" stroke-width="0.5" stroke-dasharray="0.8,0.8"/>
<text x="256.9" y="267.4" font-size="7.8" fill="#1a2a50" text-anchor="start" font-weight="bold" font-family='"Liberation Serif", serif' >3.12 eV</text>
<path d="M228,235.3 Q232,235.5 233.5,238 Q235,242 235.3,246" fill="none" stroke="#3b3f98" stroke-width="0.9"/>
<path d="M235.3,232 L235.3,274" fill="none" stroke="#3b5fc0" stroke-width="0.8"/>
<path d="M235.3,237 Q237,239 240.9,239.8" fill="none" stroke="#3b5fc0" stroke-width="0.9"/>
<path d="M228,262.5 Q233,263 235.3,266 Q237,275 240.9,280.7" fill="none" stroke="#3b5fc0" stroke-width="0.9"/>
<path d="M223.8,280 Q230,272 235.3,266" fill="none" stroke="#3b5fc0" stroke-width="0.7"/>
<circle cx="256.9" cy="234" r="2.7" fill="url(#gEl)" />
<circle cx="269.8" cy="234" r="2.7" fill="url(#gEl)" />
<circle cx="282.8" cy="234" r="2.7" fill="url(#gEl)" />
<circle cx="230.4" cy="250.4" r="2.2" fill="url(#gHole)" />
<circle cx="238.6" cy="250.4" r="2.7" fill="url(#gEl)" />
<circle cx="188.6" cy="266" r="2.3" fill="url(#gHole)" />
<circle cx="202.9" cy="266" r="2.3" fill="url(#gHole)" />
<circle cx="217.3" cy="266" r="2.3" fill="url(#gHole)" />
<text x="293" y="238.6" font-size="8.3" fill="#111" text-anchor="start" font-weight="bold" font-family='"Liberation Serif", serif' >E<tspan dy="1.8" font-size="5.0">c</tspan></text>
<text x="293" y="252.8" font-size="8.3" fill="#111" text-anchor="start" font-weight="bold" font-family='"Liberation Serif", serif' >E<tspan dy="1.8" font-size="5.0">f</tspan></text>
<text x="293" y="282" font-size="8.3" fill="#111" text-anchor="start" font-weight="bold" font-family='"Liberation Serif", serif' >E<tspan dy="1.8" font-size="5.0">v</tspan></text>
<text x="184.5" y="275.7" font-size="7.3" fill="#111" text-anchor="start" font-weight="bold" font-family='"Liberation Serif", serif' >p - Ti<tspan dy="1.5" font-size="4.4">3</tspan><tspan dy="-1.5">C</tspan><tspan dy="1.5" font-size="4.4">2</tspan><tspan dy="-1.5">T</tspan><tspan dy="1.5" font-size="4.4">x</tspan><tspan dy="-1.5"></tspan></text>
<text x="187.8" y="288" font-size="8.15" fill="#111" text-anchor="start" font-weight="bold" font-family='"Liberation Serif", serif' >Depletion layer</text>
<text x="257" y="289" font-size="8.0" fill="#111" text-anchor="start" font-weight="bold" font-family='"Liberation Serif", serif' >n - ZnO</text>
<polygon points="320,223 335,216 335,240 320,247" fill="#8a92e2" />
<path d="M356,222 q3,4 1,8 q4,2 2,7 q3,3 6,4 M360,226 q2,3 5,2 M358,230 q3,1 4,5" fill="none" stroke="#a8c0e8" stroke-width="1.1" filter="url(#fBlur)"/>
<text x="312.2" y="259.5" font-size="10" fill="#111" text-anchor="start" font-weight="bold" font-family='"Liberation Serif", serif' >Ti<tspan dy="2.0" font-size="6.0">3</tspan><tspan dy="-2.0">C</tspan><tspan dy="2.0" font-size="6.0">2</tspan><tspan dy="-2.0">T</tspan><tspan dy="2.0" font-size="6.0">x</tspan><tspan dy="-2.0"></tspan></text>
<text x="353.3" y="259.5" font-size="9.4" fill="#111" text-anchor="start" font-weight="bold" font-family='"Liberation Serif", serif' >ZnO</text>
<circle cx="312" cy="273.8" r="2.3" fill="url(#gHole)" />
<text x="316.2" y="276.5" font-size="8.2" fill="#111" text-anchor="start" font-weight="bold" font-family='"Liberation Serif", serif' >Hole</text>
<circle cx="312" cy="285.9" r="2.5" fill="url(#gEl)" />
<text x="316.2" y="288.6" font-size="7.8" fill="#111" text-anchor="start" font-weight="bold" font-family='"Liberation Serif", serif' >Electron</text>
<rect x="308.6" y="298" width="7" height="12" fill="#f6c8e2" opacity="0.8"/>
<circle cx="312" cy="303" r="3.4" fill="url(#gOd)" />
<text x="313.5" y="299" font-size="5" fill="#111" text-anchor="start" font-weight="bold" font-family='"Liberation Serif", serif' >-</text>
<text x="316.5" y="310" font-size="7.0" fill="#111" text-anchor="start" font-weight="bold" font-family='"Liberation Serif", serif' >2<tspan font-weight="normal">(</tspan>ads<tspan font-weight="normal">)</tspan></text>
<text x="343.8" y="302" font-size="6.0" fill="#111" text-anchor="start" font-weight="bold" font-family='"Liberation Serif", serif' >Adsorbed</text>
<text x="343.8" y="313.4" font-size="6.0" fill="#111" text-anchor="start" font-weight="bold" font-family='"Liberation Serif", serif' >oxygen</text>
<rect x="308.6" y="318.6" width="10.4" height="12.1" fill="#f6c8e2" opacity="0.8"/>
<line x1="312" y1="327.2" x2="317.2" y2="321.4" stroke="#8a3010" stroke-width="1.4" />
<circle cx="312" cy="327.2" r="2.4" fill="url(#gOd)" />
<circle cx="317.2" cy="321.4" r="2.4" fill="url(#gO)" />
<text x="324.8" y="326.2" font-size="7.6" fill="#111" text-anchor="start" font-weight="bold" font-family='"Liberation Serif", serif' >O<tspan dy="1.6" font-size="4.5">2</tspan><tspan dy="-1.6"> in air</tspan></text>
<line x1="313.8" y1="349.7" x2="310.8" y2="346.2" stroke="#e8d030" stroke-width="0.9" />
<circle cx="310.8" cy="346.2" r="0.9" fill="#f0e040" />
<line x1="313.8" y1="349.7" x2="310.6" y2="352.7" stroke="#e8d030" stroke-width="0.9" />
<circle cx="310.6" cy="352.7" r="0.9" fill="#f0e040" />
<line x1="313.8" y1="349.7" x2="317.3" y2="350.2" stroke="#e8d030" stroke-width="0.9" />
<circle cx="317.3" cy="350.2" r="0.9" fill="#f0e040" />
<circle cx="313.8" cy="349.7" r="2.1" fill="#1c2ad0" />
<text x="323.4" y="352.4" font-size="7.0" fill="#111" text-anchor="start" font-weight="bold" font-family='"Liberation Serif", serif' >Ammonia</text>
<rect x="309.5" y="367" width="8.6" height="11" fill="#f8dcc0" opacity="0.7"/>
<line x1="313.8" y1="374.5" x2="310.5" y2="370" stroke="#e8c820" stroke-width="0.9" />
<line x1="313.8" y1="374.5" x2="317" y2="370" stroke="#e8c820" stroke-width="0.9" />
<circle cx="310.5" cy="370" r="0.9" fill="#f0e040" />
<circle cx="317" cy="370" r="0.9" fill="#f0e040" />
<circle cx="313.8" cy="374.5" r="2.1" fill="#a85a20" />
<text x="319.7" y="376.6" font-size="7.35" fill="#111" text-anchor="start" font-weight="bold" font-family='"Liberation Serif", serif' >water molecules</text>
<rect x="310.5" y="390" width="6.6" height="12" fill="#f6d6e6" opacity="0.7"/>
<line x1="313.8" y1="392.8" x2="313.8" y2="399.7" stroke="#666" stroke-width="0.8" />
<circle cx="313.8" cy="392.8" r="1.9" fill="#1c2ad0" />
<circle cx="313.8" cy="399.7" r="1.9" fill="#a85a20" />
<text x="321.4" y="398.5" font-size="7.6" fill="#111" text-anchor="start" font-weight="bold" font-family='"Liberation Serif", serif' >NO</text>
<rect x="87.7" y="296.5" width="31.0" height="93.2" fill="#b4e6f8" opacity="0.9"/>
<rect x="87.7" y="296.5" width="4" height="93.2" fill="#c8b8f0" opacity="0.5"/>
<rect x="114.7" y="296.5" width="4" height="93.2" fill="#c8b8f0" opacity="0.5"/>
<rect x="89.3" y="296.5" width="4.1000000000000085" height="93.2" fill="#4a86d8" opacity="0.85" filter="url(#fBlur)"/>
<rect x="96.9" y="296.5" width="3.8999999999999915" height="93.2" fill="#4a86d8" opacity="0.85" filter="url(#fBlur)"/>
<rect x="105" y="296.5" width="2.700000000000003" height="93.2" fill="#4a86d8" opacity="0.85" filter="url(#fBlur)"/>
<rect x="113" y="296.5" width="3.4000000000000057" height="93.2" fill="#4a86d8" opacity="0.85" filter="url(#fBlur)"/>
<circle cx="97.7" cy="310.9" r="1.0" fill="#3a70d0" opacity="0.7"/>
<circle cx="113.2" cy="305.7" r="1.0" fill="#7ab0f0" opacity="0.7"/>
<circle cx="88.9" cy="336.9" r="0.6" fill="#3a70d0" opacity="0.7"/>
<circle cx="104.8" cy="302.4" r="1.0" fill="#7ab0f0" opacity="0.7"/>
<circle cx="107.2" cy="350.6" r="0.5" fill="#8a90e0" opacity="0.7"/>
<circle cx="89.2" cy="317.3" r="0.9" fill="#7ab0f0" opacity="0.7"/>
<circle cx="96.7" cy="310.3" r="0.6" fill="#2850b0" opacity="0.7"/>
<circle cx="105.1" cy="359.7" r="0.6" fill="#7ab0f0" opacity="0.7"/>
<circle cx="99.2" cy="347.4" r="0.6" fill="#3a70d0" opacity="0.7"/>
<circle cx="106.9" cy="342.7" r="0.9" fill="#2850b0" opacity="0.7"/>
<circle cx="102.1" cy="382.0" r="0.8" fill="#7ab0f0" opacity="0.7"/>
<circle cx="112.3" cy="361.3" r="0.7" fill="#2850b0" opacity="0.7"/>
<circle cx="104.0" cy="377.5" r="1.1" fill="#2850b0" opacity="0.7"/>
<circle cx="106.6" cy="303.7" r="0.9" fill="#7ab0f0" opacity="0.7"/>
<circle cx="111.2" cy="311.0" r="0.9" fill="#3a70d0" opacity="0.7"/>
<circle cx="117.5" cy="304.1" r="0.9" fill="#2850b0" opacity="0.7"/>
<circle cx="98.2" cy="329.2" r="0.9" fill="#8a90e0" opacity="0.7"/>
<circle cx="89.8" cy="305.6" r="0.7" fill="#3a70d0" opacity="0.7"/>
<circle cx="89.6" cy="361.5" r="1.0" fill="#8a90e0" opacity="0.7"/>
<circle cx="96.5" cy="332.5" r="1.0" fill="#3a70d0" opacity="0.7"/>
<circle cx="116.9" cy="329.7" r="1.0" fill="#8a90e0" opacity="0.7"/>
<circle cx="89.5" cy="367.7" r="0.6" fill="#7ab0f0" opacity="0.7"/>
<circle cx="100.0" cy="381.3" r="0.9" fill="#7ab0f0" opacity="0.7"/>
<circle cx="101.6" cy="347.5" r="1.2" fill="#8a90e0" opacity="0.7"/>
<circle cx="114.5" cy="322.6" r="0.8" fill="#2850b0" opacity="0.7"/>
<circle cx="108.9" cy="332.0" r="0.7" fill="#3a70d0" opacity="0.7"/>
<circle cx="93.2" cy="318.3" r="0.7" fill="#8a90e0" opacity="0.7"/>
<circle cx="113.5" cy="313.8" r="0.7" fill="#7ab0f0" opacity="0.7"/>
<circle cx="100.7" cy="331.0" r="1.0" fill="#7ab0f0" opacity="0.7"/>
<circle cx="109.1" cy="344.4" r="1.0" fill="#3a70d0" opacity="0.7"/>
<circle cx="101.9" cy="377.1" r="1.3" fill="#8a90e0" opacity="0.7"/>
<circle cx="100.0" cy="333.3" r="0.9" fill="#8a90e0" opacity="0.7"/>
<circle cx="89.6" cy="303.2" r="0.7" fill="#7ab0f0" opacity="0.7"/>
<circle cx="91.1" cy="352.3" r="0.6" fill="#7ab0f0" opacity="0.7"/>
<circle cx="104.3" cy="384.3" r="1.0" fill="#3a70d0" opacity="0.7"/>
<circle cx="114.8" cy="353.5" r="0.6" fill="#2850b0" opacity="0.7"/>
<circle cx="117.3" cy="352.4" r="0.9" fill="#3a70d0" opacity="0.7"/>
<circle cx="114.0" cy="388.4" r="0.9" fill="#8a90e0" opacity="0.7"/>
<circle cx="97.4" cy="310.3" r="1.1" fill="#2850b0" opacity="0.7"/>
<circle cx="102.5" cy="360.7" r="0.9" fill="#7ab0f0" opacity="0.7"/>
<circle cx="117.2" cy="345.6" r="0.6" fill="#3a70d0" opacity="0.7"/>
<circle cx="111.2" cy="324.4" r="1.0" fill="#3a70d0" opacity="0.7"/>
<circle cx="109.3" cy="321.0" r="0.8" fill="#7ab0f0" opacity="0.7"/>
<circle cx="98.7" cy="317.5" r="0.9" fill="#2850b0" opacity="0.7"/>
<circle cx="107.4" cy="353.4" r="1.1" fill="#7ab0f0" opacity="0.7"/>
<circle cx="112.7" cy="372.3" r="1.1" fill="#7ab0f0" opacity="0.7"/>
<circle cx="93.9" cy="342.3" r="1.1" fill="#3a70d0" opacity="0.7"/>
<circle cx="112.2" cy="340.4" r="0.7" fill="#2850b0" opacity="0.7"/>
<circle cx="101.6" cy="383.2" r="1.3" fill="#2850b0" opacity="0.7"/>
<circle cx="90.2" cy="306.4" r="0.9" fill="#2850b0" opacity="0.7"/>
<circle cx="94.0" cy="354.4" r="1.2" fill="#3a70d0" opacity="0.7"/>
<circle cx="102.6" cy="357.1" r="1.1" fill="#3a70d0" opacity="0.7"/>
<circle cx="113.6" cy="308.0" r="0.8" fill="#7ab0f0" opacity="0.7"/>
<circle cx="102.5" cy="313.4" r="1.1" fill="#2850b0" opacity="0.7"/>
<circle cx="90.4" cy="384.0" r="1.1" fill="#8a90e0" opacity="0.7"/>
<circle cx="100.1" cy="384.1" r="1.1" fill="#7ab0f0" opacity="0.7"/>
<circle cx="118.5" cy="299.5" r="1.0" fill="#8a90e0" opacity="0.7"/>
<circle cx="112.7" cy="310.4" r="1.2" fill="#8a90e0" opacity="0.7"/>
<circle cx="108.1" cy="329.2" r="0.9" fill="#7ab0f0" opacity="0.7"/>
<circle cx="88.4" cy="370.5" r="1.1" fill="#3a70d0" opacity="0.7"/>
<circle cx="104.0" cy="382.9" r="0.8" fill="#7ab0f0" opacity="0.7"/>
<circle cx="113.3" cy="316.4" r="0.7" fill="#2850b0" opacity="0.7"/>
<circle cx="103.2" cy="367.3" r="0.8" fill="#8a90e0" opacity="0.7"/>
<circle cx="113.6" cy="302.6" r="1.1" fill="#8a90e0" opacity="0.7"/>
<circle cx="108.2" cy="372.0" r="0.9" fill="#7ab0f0" opacity="0.7"/>
<circle cx="104.2" cy="345.2" r="0.5" fill="#8a90e0" opacity="0.7"/>
<circle cx="111.8" cy="353.0" r="1.1" fill="#7ab0f0" opacity="0.7"/>
<circle cx="93.0" cy="340.6" r="1.1" fill="#3a70d0" opacity="0.7"/>
<circle cx="97.8" cy="344.7" r="0.9" fill="#3a70d0" opacity="0.7"/>
<circle cx="115.1" cy="302.2" r="0.7" fill="#3a70d0" opacity="0.7"/>
<circle cx="111.6" cy="343.7" r="0.9" fill="#3a70d0" opacity="0.7"/>
<circle cx="101.4" cy="353.4" r="0.9" fill="#7ab0f0" opacity="0.7"/>
<circle cx="109.2" cy="338.6" r="0.9" fill="#8a90e0" opacity="0.7"/>
<circle cx="103.4" cy="319.8" r="0.9" fill="#2850b0" opacity="0.7"/>
<circle cx="116.3" cy="379.1" r="0.7" fill="#8a90e0" opacity="0.7"/>
<circle cx="92.0" cy="308.2" r="0.9" fill="#3a70d0" opacity="0.7"/>
<circle cx="108.5" cy="336.4" r="0.7" fill="#2850b0" opacity="0.7"/>
<circle cx="112.0" cy="379.5" r="0.6" fill="#2850b0" opacity="0.7"/>
<circle cx="92.1" cy="378.2" r="1.3" fill="#7ab0f0" opacity="0.7"/>
<circle cx="110.8" cy="305.7" r="1.2" fill="#7ab0f0" opacity="0.7"/>
<circle cx="118.4" cy="373.6" r="0.6" fill="#8a90e0" opacity="0.7"/>
<circle cx="118.5" cy="334.2" r="0.8" fill="#2850b0" opacity="0.7"/>
<circle cx="97.6" cy="363.4" r="0.5" fill="#8a90e0" opacity="0.7"/>
<circle cx="101.4" cy="298.7" r="0.8" fill="#2850b0" opacity="0.7"/>
<circle cx="103.6" cy="302.9" r="1.3" fill="#7ab0f0" opacity="0.7"/>
<circle cx="117.8" cy="306.6" r="0.7" fill="#3a70d0" opacity="0.7"/>
<circle cx="115.8" cy="313.7" r="1.1" fill="#8a90e0" opacity="0.7"/>
<circle cx="114.0" cy="359.2" r="1.3" fill="#8a90e0" opacity="0.7"/>
<circle cx="92.3" cy="381.6" r="1.0" fill="#2850b0" opacity="0.7"/>
<circle cx="90.5" cy="302.3" r="1.1" fill="#8a90e0" opacity="0.7"/>
<circle cx="115.5" cy="321.7" r="0.5" fill="#3a70d0" opacity="0.7"/>
<circle cx="112.6" cy="304.7" r="1.2" fill="#3a70d0" opacity="0.7"/>
<circle cx="95.9" cy="308.2" r="0.5" fill="#8a90e0" opacity="0.7"/>
<circle cx="116.4" cy="321.6" r="0.6" fill="#7ab0f0" opacity="0.7"/>
<circle cx="116.8" cy="386.2" r="0.7" fill="#7ab0f0" opacity="0.7"/>
<circle cx="94.0" cy="325.7" r="0.7" fill="#7ab0f0" opacity="0.7"/>
<circle cx="96.7" cy="343.0" r="0.6" fill="#2850b0" opacity="0.7"/>
<circle cx="112.6" cy="388.5" r="0.5" fill="#3a70d0" opacity="0.7"/>
<circle cx="110.4" cy="347.7" r="0.7" fill="#8a90e0" opacity="0.7"/>
<circle cx="95.3" cy="338.1" r="1.0" fill="#8a90e0" opacity="0.7"/>
<circle cx="108.1" cy="347.2" r="1.2" fill="#2850b0" opacity="0.7"/>
<circle cx="109.0" cy="387.4" r="0.8" fill="#7ab0f0" opacity="0.7"/>
<circle cx="100.2" cy="329.0" r="0.5" fill="#7ab0f0" opacity="0.7"/>
<circle cx="88.1" cy="354.5" r="1.2" fill="#8a90e0" opacity="0.7"/>
<circle cx="92.8" cy="304.8" r="1.2" fill="#2850b0" opacity="0.7"/>
<circle cx="106.3" cy="360.7" r="0.5" fill="#7ab0f0" opacity="0.7"/>
<circle cx="92.6" cy="338.0" r="0.7" fill="#2850b0" opacity="0.7"/>
<circle cx="117.9" cy="347.3" r="0.7" fill="#2850b0" opacity="0.7"/>
<circle cx="94.5" cy="313.8" r="0.8" fill="#3a70d0" opacity="0.7"/>
<circle cx="102.4" cy="343.3" r="0.7" fill="#3a70d0" opacity="0.7"/>
<circle cx="90.5" cy="372.2" r="0.6" fill="#3a70d0" opacity="0.7"/>
<circle cx="99.9" cy="324.6" r="1.0" fill="#3a70d0" opacity="0.7"/>
<circle cx="105.9" cy="345.7" r="1.1" fill="#8a90e0" opacity="0.7"/>
<circle cx="111.4" cy="363.3" r="0.9" fill="#2850b0" opacity="0.7"/>
<circle cx="110.1" cy="356.2" r="0.5" fill="#8a90e0" opacity="0.7"/>
<circle cx="110.4" cy="371.7" r="0.6" fill="#3a70d0" opacity="0.7"/>
<circle cx="113.3" cy="350.7" r="1.2" fill="#7ab0f0" opacity="0.7"/>
<circle cx="90.3" cy="300.9" r="1.0" fill="#3a70d0" opacity="0.7"/>
<circle cx="99.4" cy="338.5" r="0.5" fill="#3a70d0" opacity="0.7"/>
<circle cx="107.1" cy="359.6" r="0.9" fill="#3a70d0" opacity="0.7"/>
<circle cx="101.9" cy="303.5" r="1.2" fill="#3a70d0" opacity="0.7"/>
<circle cx="108.1" cy="303.1" r="1.1" fill="#2850b0" opacity="0.7"/>
<circle cx="112.8" cy="374.8" r="0.7" fill="#7ab0f0" opacity="0.7"/>
<circle cx="94.9" cy="356.8" r="0.9" fill="#8a90e0" opacity="0.7"/>
<circle cx="90.1" cy="380.8" r="0.7" fill="#3a70d0" opacity="0.7"/>
<circle cx="106.8" cy="356.1" r="0.6" fill="#7ab0f0" opacity="0.7"/>
<circle cx="98.0" cy="356.9" r="1.1" fill="#7ab0f0" opacity="0.7"/>
<circle cx="88.1" cy="302.6" r="0.7" fill="#3a70d0" opacity="0.7"/>
<circle cx="109.2" cy="359.2" r="0.7" fill="#2850b0" opacity="0.7"/>
<circle cx="102.1" cy="339.9" r="0.6" fill="#7ab0f0" opacity="0.7"/>
<circle cx="97.4" cy="304.9" r="0.9" fill="#2850b0" opacity="0.7"/>
<circle cx="101.9" cy="372.4" r="1.3" fill="#8a90e0" opacity="0.7"/>
<circle cx="118.5" cy="332.6" r="1.2" fill="#7ab0f0" opacity="0.7"/>
<circle cx="90.0" cy="305.3" r="1.1" fill="#2850b0" opacity="0.7"/>
<circle cx="117.2" cy="309.2" r="1.2" fill="#2850b0" opacity="0.7"/>
<circle cx="115.2" cy="361.7" r="0.7" fill="#8a90e0" opacity="0.7"/>
<circle cx="99.9" cy="311.6" r="1.3" fill="#8a90e0" opacity="0.7"/>
<circle cx="100.3" cy="363.9" r="0.8" fill="#8a90e0" opacity="0.7"/>
<circle cx="97.5" cy="374.3" r="0.5" fill="#2850b0" opacity="0.7"/>
<circle cx="113.7" cy="308.0" r="1.2" fill="#3a70d0" opacity="0.7"/>
<circle cx="115.6" cy="323.7" r="0.8" fill="#8a90e0" opacity="0.7"/>
<circle cx="99.8" cy="377.0" r="0.6" fill="#8a90e0" opacity="0.7"/>
<circle cx="111.1" cy="375.6" r="0.7" fill="#3a70d0" opacity="0.7"/>
<circle cx="113.6" cy="323.3" r="1.2" fill="#7ab0f0" opacity="0.7"/>
<circle cx="117.8" cy="337.1" r="0.8" fill="#2850b0" opacity="0.7"/>
<circle cx="112.0" cy="336.4" r="0.5" fill="#8a90e0" opacity="0.7"/>
<circle cx="116.0" cy="383.5" r="0.9" fill="#3a70d0" opacity="0.7"/>
<circle cx="89.2" cy="364.4" r="0.9" fill="#7ab0f0" opacity="0.7"/>
<circle cx="107.7" cy="323.3" r="0.5" fill="#7ab0f0" opacity="0.7"/>
<circle cx="93.0" cy="335.2" r="0.7" fill="#2850b0" opacity="0.7"/>
<circle cx="110.6" cy="386.8" r="0.7" fill="#7ab0f0" opacity="0.7"/>
<circle cx="97.0" cy="348.3" r="0.8" fill="#7ab0f0" opacity="0.7"/>
<circle cx="107.6" cy="303.9" r="0.9" fill="#8a90e0" opacity="0.7"/>
<circle cx="104.8" cy="338.7" r="0.8" fill="#8a90e0" opacity="0.7"/>
<circle cx="101.0" cy="347.4" r="0.7" fill="#7ab0f0" opacity="0.7"/>
<circle cx="98.3" cy="305.4" r="0.7" fill="#2850b0" opacity="0.7"/>
<circle cx="112.8" cy="315.6" r="0.5" fill="#8a90e0" opacity="0.7"/>
<circle cx="99.6" cy="365.6" r="0.7" fill="#2850b0" opacity="0.7"/>
<circle cx="98.2" cy="302.7" r="0.7" fill="#2850b0" opacity="0.7"/>
<circle cx="91.6" cy="343.3" r="1.0" fill="#7ab0f0" opacity="0.7"/>
<circle cx="92.3" cy="308" r="2.9" fill="url(#gOd)" />
<circle cx="85.4" cy="326.4" r="2.9" fill="url(#gOd)" />
<circle cx="110.7" cy="334" r="2.9" fill="url(#gOd)" />
<circle cx="85.4" cy="351.7" r="2.9" fill="url(#gOd)" />
<circle cx="117.6" cy="362" r="2.9" fill="url(#gOd)" />
<circle cx="84.2" cy="373.6" r="2.9" fill="url(#gOd)" />
<circle cx="116.4" cy="379.3" r="2.9" fill="url(#gOd)" />
<circle cx="113" cy="305.7" r="3.6" fill="url(#gEl)" />
<line x1="111.4" y1="305.7" x2="114.6" y2="305.7" stroke="#1a2a00" stroke-width="0.7" />
<circle cx="110.7" cy="321.8" r="3.6" fill="url(#gEl)" />
<line x1="109.1" y1="321.8" x2="112.3" y2="321.8" stroke="#1a2a00" stroke-width="0.7" />
<circle cx="102.6" cy="342.5" r="3.6" fill="url(#gEl)" />
<line x1="101.0" y1="342.5" x2="104.2" y2="342.5" stroke="#1a2a00" stroke-width="0.7" />
<circle cx="100.3" cy="365.5" r="3.6" fill="url(#gEl)" />
<line x1="98.7" y1="365.5" x2="101.9" y2="365.5" stroke="#1a2a00" stroke-width="0.7" />
<circle cx="110.7" cy="385" r="3.6" fill="url(#gEl)" />
<line x1="109.1" y1="385" x2="112.3" y2="385" stroke="#1a2a00" stroke-width="0.7" />
<rect x="76.1" y="302.2" width="12.8" height="12.3" fill="#f6c8e2" opacity="0.7"/>
<line x1="79.6" y1="311" x2="85.4" y2="305.7" stroke="#7a3010" stroke-width="1.3" />
<circle cx="79.6" cy="311" r="2.4" fill="url(#gO)" />
<circle cx="85.4" cy="305.7" r="2.4" fill="url(#gO)" />
<rect x="94.5" y="295.3" width="15" height="11.6" fill="#f6c8e2" opacity="0.7"/>
<line x1="98" y1="298.8" x2="106" y2="303.4" stroke="#7a3010" stroke-width="1.3" />
<circle cx="98" cy="298.8" r="2.4" fill="url(#gO)" />
<circle cx="106" cy="303.4" r="2.4" fill="url(#gO)" />
<rect x="118.7" y="311.4" width="9.3" height="13.9" fill="#f6c8e2" opacity="0.7"/>
<line x1="124.5" y1="314.9" x2="122.2" y2="321.8" stroke="#7a3010" stroke-width="1.3" />
<circle cx="124.5" cy="314.9" r="2.4" fill="url(#gO)" />
<circle cx="122.2" cy="321.8" r="2.4" fill="url(#gO)" />
<rect x="71.5" y="351.5" width="16.2" height="14" fill="#f6c8e2" opacity="0.7"/>
<line x1="75" y1="355" x2="84.2" y2="362" stroke="#7a3010" stroke-width="1.3" />
<circle cx="75" cy="355" r="2.4" fill="url(#gO)" />
<circle cx="84.2" cy="362" r="2.4" fill="url(#gO)" />
<rect x="115.2" y="371.2" width="12.8" height="11.6" fill="#f6c8e2" opacity="0.7"/>
<line x1="118.7" y1="379.3" x2="124.5" y2="374.7" stroke="#7a3010" stroke-width="1.3" />
<circle cx="118.7" cy="379.3" r="2.4" fill="url(#gO)" />
<circle cx="124.5" cy="374.7" r="2.4" fill="url(#gO)" />
<rect x="76.1" y="381.5" width="15.1" height="8" fill="#f6c8e2" opacity="0.7"/>
<line x1="79.6" y1="386" x2="87.7" y2="385" stroke="#7a3010" stroke-width="1.3" />
<circle cx="79.6" cy="386" r="2.4" fill="url(#gO)" />
<circle cx="87.7" cy="385" r="2.4" fill="url(#gO)" />
<text x="96.9" y="313.7" font-size="7.0" fill="#111" text-anchor="start" font-weight="bold" font-family='"Liberation Serif", serif' letter-spacing="0.25">2<tspan font-weight="normal">(</tspan>ads<tspan font-weight="normal">)</tspan></text>
<text x="115.3" y="339" font-size="7.0" fill="#111" text-anchor="start" font-weight="bold" font-family='"Liberation Serif", serif' letter-spacing="0.25">2<tspan font-weight="normal">(</tspan>ads<tspan font-weight="normal">)</tspan></text>
<text x="90" y="356.3" font-size="7.0" fill="#111" text-anchor="start" font-weight="bold" font-family='"Liberation Serif", serif' letter-spacing="0.25">2<tspan font-weight="normal">(</tspan>ads<tspan font-weight="normal">)</tspan></text>
<text x="122.2" y="369" font-size="7.0" fill="#111" text-anchor="start" font-weight="bold" font-family='"Liberation Serif", serif' letter-spacing="0.25">2<tspan font-weight="normal">(</tspan>ads<tspan font-weight="normal">)</tspan></text>
<text x="88.8" y="378.2" font-size="7.0" fill="#111" text-anchor="start" font-weight="bold" font-family='"Liberation Serif", serif' letter-spacing="0.25">2<tspan font-weight="normal">(</tspan>ads<tspan font-weight="normal">)</tspan></text>
<text x="115.5" y="336.5" font-size="5" fill="#111" text-anchor="start" font-weight="bold" font-family='"Liberation Serif", serif' >-</text>
<text x="121" y="366" font-size="5" fill="#111" text-anchor="start" font-weight="bold" font-family='"Liberation Serif", serif' >-</text>
<rect x="25" y="312" width="30" height="14" fill="#f6c8e2" opacity="0.7"/>
<line x1="32.8" y1="316" x2="40.6" y2="320.8" stroke="#7a3010" stroke-width="1.3" />
<circle cx="32.8" cy="316" r="2.4" fill="url(#gO)" />
<circle cx="40.6" cy="320.8" r="2.4" fill="url(#gO)" />
<line x1="42.9" y1="314" x2="50.7" y2="318.6" stroke="#7a3010" stroke-width="1.3" />
<circle cx="42.9" cy="314" r="2.4" fill="url(#gO)" />
<circle cx="50.7" cy="318.6" r="2.4" fill="url(#gO)" />
<rect x="57.3" y="329.7" width="13.4" height="36.8" fill="#dcf6f6" opacity="0.8"/>
<circle cx="62.9" cy="324.2" r="3.4" fill="url(#gEl)" />
<line x1="61.4" y1="324.2" x2="64.4" y2="324.2" stroke="#1a2a00" stroke-width="0.7" />
<circle cx="69.6" cy="318" r="3.4" fill="url(#gEl)" />
<line x1="68.1" y1="318" x2="71.1" y2="318" stroke="#1a2a00" stroke-width="0.7" />
<circle cx="74.7" cy="326.4" r="3.4" fill="url(#gEl)" />
<line x1="73.2" y1="326.4" x2="76.2" y2="326.4" stroke="#1a2a00" stroke-width="0.7" />
<path d="M45,322 Q56,326 63,333" fill="none" stroke="#3a8a3a" stroke-width="1.2" stroke-dasharray="2.6,1.6"/>
<polygon points="59.5,332.5 66.5,331.5 64,338" fill="#3a9a3a" />
<path d="M64,339 Q63,352 60.7,362" fill="none" stroke="#3a8a3a" stroke-width="1.2" stroke-dasharray="2.6,1.6"/>
<polygon points="56.5,359.5 63.5,361 59.2,367" fill="#3a9a3a" />
<rect x="40.6" y="367.6" width="9" height="7" fill="#f6c8e2" opacity="0.75"/>
<circle cx="45" cy="371" r="2.8" fill="url(#gO)" />
<text x="49.5" y="365.5" font-size="5" fill="#111" text-anchor="start" font-weight="bold" font-family='"Liberation Serif", serif' >-</text>
<text x="49.5" y="377.6" font-size="7.0" fill="#111" text-anchor="start" font-weight="bold" font-family='"Liberation Serif", serif' letter-spacing="0.25">2<tspan font-weight="normal">(</tspan>ads<tspan font-weight="normal">)</tspan></text>
<text x="89.5" y="403.6" font-size="10.1" fill="#111" text-anchor="middle" font-weight="bold" font-family='"Liberation Serif", serif' >Ti<tspan dy="2.0" font-size="6.1">3</tspan><tspan dy="-2.0">C</tspan><tspan dy="2.0" font-size="6.1">2</tspan><tspan dy="-2.0">T</tspan><tspan dy="2.0" font-size="6.1">x</tspan><tspan dy="-2.0"></tspan> / ZnO in air</text>
<rect x="238.8" y="296.5" width="34.5" height="93.2" fill="#b4e6f8" opacity="0.9"/>
<rect x="238.8" y="296.5" width="4" height="93.2" fill="#c8b8f0" opacity="0.5"/>
<rect x="269.3" y="296.5" width="4" height="93.2" fill="#c8b8f0" opacity="0.5"/>
<rect x="242.2" y="296.5" width="4.600000000000023" height="93.2" fill="#4a86d8" opacity="0.85" filter="url(#fBlur)"/>
<rect x="251.4" y="296.5" width="3.5" height="93.2" fill="#4a86d8" opacity="0.85" filter="url(#fBlur)"/>
<rect x="259.5" y="296.5" width="3.5" height="93.2" fill="#4a86d8" opacity="0.85" filter="url(#fBlur)"/>
<rect x="269.8" y="296.5" width="3.5" height="93.2" fill="#4a86d8" opacity="0.85" filter="url(#fBlur)"/>
<circle cx="254.8" cy="331.3" r="0.6" fill="#3a70d0" opacity="0.7"/>
<circle cx="250.5" cy="339.7" r="1.0" fill="#2850b0" opacity="0.7"/>
<circle cx="257.9" cy="353.7" r="0.5" fill="#8a90e0" opacity="0.7"/>
<circle cx="244.6" cy="384.1" r="1.3" fill="#8a90e0" opacity="0.7"/>
<circle cx="244.2" cy="318.9" r="0.6" fill="#3a70d0" opacity="0.7"/>
<circle cx="265.5" cy="332.3" r="1.1" fill="#3a70d0" opacity="0.7"/>
<circle cx="270.5" cy="315.9" r="0.7" fill="#8a90e0" opacity="0.7"/>
<circle cx="269.5" cy="368.1" r="1.2" fill="#8a90e0" opacity="0.7"/>
<circle cx="248.5" cy="371.5" r="0.7" fill="#3a70d0" opacity="0.7"/>
<circle cx="269.1" cy="302.0" r="0.8" fill="#8a90e0" opacity="0.7"/>
<circle cx="243.6" cy="318.8" r="1.1" fill="#3a70d0" opacity="0.7"/>
<circle cx="272.1" cy="297.4" r="1.1" fill="#7ab0f0" opacity="0.7"/>
<circle cx="269.7" cy="315.7" r="0.5" fill="#3a70d0" opacity="0.7"/>
<circle cx="243.4" cy="381.4" r="0.9" fill="#8a90e0" opacity="0.7"/>
<circle cx="257.3" cy="315.2" r="0.6" fill="#7ab0f0" opacity="0.7"/>
<circle cx="260.8" cy="305.6" r="1.0" fill="#7ab0f0" opacity="0.7"/>
<circle cx="271.2" cy="363.2" r="0.5" fill="#2850b0" opacity="0.7"/>
<circle cx="257.9" cy="352.8" r="0.6" fill="#2850b0" opacity="0.7"/>
<circle cx="264.2" cy="349.9" r="0.5" fill="#8a90e0" opacity="0.7"/>
<circle cx="271.6" cy="318.8" r="1.0" fill="#3a70d0" opacity="0.7"/>
<circle cx="264.2" cy="374.8" r="0.9" fill="#3a70d0" opacity="0.7"/>
<circle cx="268.7" cy="307.1" r="1.2" fill="#2850b0" opacity="0.7"/>
<circle cx="254.4" cy="334.0" r="1.3" fill="#3a70d0" opacity="0.7"/>
<circle cx="251.9" cy="352.9" r="0.5" fill="#3a70d0" opacity="0.7"/>
<circle cx="246.2" cy="337.8" r="0.8" fill="#3a70d0" opacity="0.7"/>
<circle cx="249.4" cy="323.2" r="0.9" fill="#3a70d0" opacity="0.7"/>
<circle cx="239.7" cy="368.8" r="1.1" fill="#8a90e0" opacity="0.7"/>
<circle cx="250.7" cy="368.6" r="1.0" fill="#3a70d0" opacity="0.7"/>
<circle cx="253.5" cy="318.2" r="1.3" fill="#8a90e0" opacity="0.7"/>
<circle cx="256.4" cy="384.9" r="0.9" fill="#7ab0f0" opacity="0.7"/>
<circle cx="261.8" cy="312.7" r="1.2" fill="#2850b0" opacity="0.7"/>
<circle cx="239.8" cy="383.4" r="1.1" fill="#2850b0" opacity="0.7"/>
<circle cx="271.5" cy="387.7" r="1.0" fill="#3a70d0" opacity="0.7"/>
<circle cx="240.5" cy="338.4" r="1.1" fill="#2850b0" opacity="0.7"/>
<circle cx="259.9" cy="385.9" r="0.8" fill="#7ab0f0" opacity="0.7"/>
<circle cx="255.4" cy="322.6" r="1.3" fill="#2850b0" opacity="0.7"/>
<circle cx="262.8" cy="303.0" r="0.9" fill="#8a90e0" opacity="0.7"/>
<circle cx="259.1" cy="370.9" r="1.0" fill="#2850b0" opacity="0.7"/>
<circle cx="265.4" cy="378.0" r="0.9" fill="#3a70d0" opacity="0.7"/>
<circle cx="270.7" cy="322.5" r="0.6" fill="#3a70d0" opacity="0.7"/>
<circle cx="244.4" cy="369.6" r="1.2" fill="#7ab0f0" opacity="0.7"/>
<circle cx="244.9" cy="339.0" r="0.9" fill="#8a90e0" opacity="0.7"/>
<circle cx="241.7" cy="347.5" r="1.0" fill="#2850b0" opacity="0.7"/>
<circle cx="257.3" cy="383.6" r="0.5" fill="#8a90e0" opacity="0.7"/>
<circle cx="257.6" cy="345.2" r="0.9" fill="#3a70d0" opacity="0.7"/>
<circle cx="269.1" cy="349.8" r="1.3" fill="#3a70d0" opacity="0.7"/>
<circle cx="263.8" cy="363.3" r="0.6" fill="#8a90e0" opacity="0.7"/>
<circle cx="254.4" cy="342.1" r="1.0" fill="#3a70d0" opacity="0.7"/>
<circle cx="262.2" cy="299.7" r="0.7" fill="#8a90e0" opacity="0.7"/>
<circle cx="246.8" cy="372.7" r="1.1" fill="#8a90e0" opacity="0.7"/>
<circle cx="269.0" cy="300.3" r="1.0" fill="#3a70d0" opacity="0.7"/>
<circle cx="262.2" cy="334.4" r="0.6" fill="#7ab0f0" opacity="0.7"/>
<circle cx="240.0" cy="366.2" r="0.6" fill="#3a70d0" opacity="0.7"/>
<circle cx="251.0" cy="340.3" r="0.9" fill="#3a70d0" opacity="0.7"/>
<circle cx="263.1" cy="303.9" r="0.6" fill="#2850b0" opacity="0.7"/>
<circle cx="239.1" cy="384.8" r="1.0" fill="#8a90e0" opacity="0.7"/>
<circle cx="272.8" cy="373.6" r="0.6" fill="#2850b0" opacity="0.7"/>
<circle cx="262.0" cy="338.5" r="0.6" fill="#7ab0f0" opacity="0.7"/>
<circle cx="242.6" cy="301.9" r="0.6" fill="#3a70d0" opacity="0.7"/>
<circle cx="251.6" cy="365.2" r="0.9" fill="#7ab0f0" opacity="0.7"/>
<circle cx="251.5" cy="355.4" r="0.7" fill="#2850b0" opacity="0.7"/>
<circle cx="265.1" cy="359.8" r="0.5" fill="#2850b0" opacity="0.7"/>
<circle cx="271.4" cy="299.0" r="0.6" fill="#8a90e0" opacity="0.7"/>
<circle cx="240.8" cy="320.1" r="1.2" fill="#7ab0f0" opacity="0.7"/>
<circle cx="260.8" cy="359.7" r="0.6" fill="#3a70d0" opacity="0.7"/>
<circle cx="266.4" cy="386.8" r="1.1" fill="#8a90e0" opacity="0.7"/>
<circle cx="270.9" cy="377.6" r="1.2" fill="#3a70d0" opacity="0.7"/>
<circle cx="239.8" cy="337.4" r="0.8" fill="#2850b0" opacity="0.7"/>
<circle cx="255.8" cy="328.9" r="1.2" fill="#8a90e0" opacity="0.7"/>
<circle cx="253.6" cy="304.2" r="0.7" fill="#8a90e0" opacity="0.7"/>
<circle cx="259.9" cy="349.3" r="0.9" fill="#7ab0f0" opacity="0.7"/>
<circle cx="250.2" cy="302.4" r="0.6" fill="#2850b0" opacity="0.7"/>
<circle cx="257.6" cy="314.3" r="1.1" fill="#7ab0f0" opacity="0.7"/>
<circle cx="271.4" cy="304.9" r="1.3" fill="#8a90e0" opacity="0.7"/>
<circle cx="246.1" cy="346.9" r="0.8" fill="#3a70d0" opacity="0.7"/>
<circle cx="261.9" cy="335.8" r="0.7" fill="#2850b0" opacity="0.7"/>
<circle cx="265.2" cy="370.5" r="0.9" fill="#8a90e0" opacity="0.7"/>
<circle cx="263.5" cy="323.2" r="0.9" fill="#3a70d0" opacity="0.7"/>
<circle cx="246.5" cy="387.5" r="0.8" fill="#3a70d0" opacity="0.7"/>
<circle cx="243.9" cy="312.0" r="0.6" fill="#8a90e0" opacity="0.7"/>
<circle cx="261.2" cy="333.4" r="1.2" fill="#7ab0f0" opacity="0.7"/>
<circle cx="256.4" cy="329.9" r="1.3" fill="#7ab0f0" opacity="0.7"/>
<circle cx="249.9" cy="332.4" r="0.6" fill="#7ab0f0" opacity="0.7"/>
<circle cx="258.5" cy="297.9" r="1.0" fill="#3a70d0" opacity="0.7"/>
<circle cx="248.4" cy="345.1" r="1.1" fill="#8a90e0" opacity="0.7"/>
<circle cx="270.1" cy="366.4" r="0.7" fill="#7ab0f0" opacity="0.7"/>
<circle cx="256.6" cy="341.1" r="1.3" fill="#7ab0f0" opacity="0.7"/>
<circle cx="250.2" cy="365.8" r="0.8" fill="#3a70d0" opacity="0.7"/>
<circle cx="257.6" cy="382.5" r="0.5" fill="#7ab0f0" opacity="0.7"/>
<circle cx="257.4" cy="384.5" r="1.1" fill="#8a90e0" opacity="0.7"/>
<circle cx="243.4" cy="316.4" r="0.9" fill="#8a90e0" opacity="0.7"/>
<circle cx="246.3" cy="315.7" r="1.0" fill="#8a90e0" opacity="0.7"/>
<circle cx="239.1" cy="348.1" r="0.5" fill="#2850b0" opacity="0.7"/>
<circle cx="255.9" cy="302.6" r="1.1" fill="#8a90e0" opacity="0.7"/>
<circle cx="269.4" cy="337.2" r="1.1" fill="#7ab0f0" opacity="0.7"/>
<circle cx="258.0" cy="381.4" r="1.3" fill="#3a70d0" opacity="0.7"/>
<circle cx="269.5" cy="320.9" r="0.7" fill="#8a90e0" opacity="0.7"/>
<circle cx="272.2" cy="314.1" r="0.9" fill="#2850b0" opacity="0.7"/>
<circle cx="261.9" cy="386.7" r="0.6" fill="#3a70d0" opacity="0.7"/>
<circle cx="263.5" cy="351.0" r="1.3" fill="#2850b0" opacity="0.7"/>
<circle cx="248.6" cy="308.9" r="0.7" fill="#3a70d0" opacity="0.7"/>
<circle cx="241.4" cy="372.6" r="0.7" fill="#8a90e0" opacity="0.7"/>
<circle cx="272.1" cy="300.9" r="0.6" fill="#7ab0f0" opacity="0.7"/>
<circle cx="269.3" cy="362.4" r="1.0" fill="#8a90e0" opacity="0.7"/>
<circle cx="268.0" cy="369.7" r="1.2" fill="#7ab0f0" opacity="0.7"/>
<circle cx="267.5" cy="300.0" r="1.3" fill="#7ab0f0" opacity="0.7"/>
<circle cx="248.7" cy="341.3" r="0.6" fill="#3a70d0" opacity="0.7"/>
<circle cx="256.5" cy="342.8" r="0.7" fill="#2850b0" opacity="0.7"/>
<circle cx="259.9" cy="384.4" r="0.8" fill="#3a70d0" opacity="0.7"/>
<circle cx="273.2" cy="364.9" r="1.0" fill="#8a90e0" opacity="0.7"/>
<circle cx="249.5" cy="375.3" r="0.7" fill="#3a70d0" opacity="0.7"/>
<circle cx="245.6" cy="363.3" r="0.7" fill="#2850b0" opacity="0.7"/>
<circle cx="246.6" cy="313.4" r="1.0" fill="#2850b0" opacity="0.7"/>
<circle cx="251.6" cy="355.7" r="0.8" fill="#7ab0f0" opacity="0.7"/>
<circle cx="257.9" cy="299.7" r="1.1" fill="#7ab0f0" opacity="0.7"/>
<circle cx="241.9" cy="316.4" r="0.7" fill="#8a90e0" opacity="0.7"/>
<circle cx="251.2" cy="348.3" r="1.1" fill="#3a70d0" opacity="0.7"/>
<circle cx="242.0" cy="334.6" r="0.8" fill="#7ab0f0" opacity="0.7"/>
<circle cx="240.8" cy="349.7" r="0.9" fill="#8a90e0" opacity="0.7"/>
<circle cx="251.4" cy="357.9" r="1.2" fill="#2850b0" opacity="0.7"/>
<circle cx="263.7" cy="344.4" r="0.8" fill="#7ab0f0" opacity="0.7"/>
<circle cx="272.4" cy="325.8" r="0.9" fill="#2850b0" opacity="0.7"/>
<circle cx="253.8" cy="387.0" r="0.8" fill="#3a70d0" opacity="0.7"/>
<circle cx="240.8" cy="330.0" r="1.1" fill="#7ab0f0" opacity="0.7"/>
<circle cx="253.0" cy="330.6" r="0.8" fill="#8a90e0" opacity="0.7"/>
<circle cx="256.3" cy="364.2" r="0.6" fill="#3a70d0" opacity="0.7"/>
<circle cx="266.4" cy="356.3" r="0.8" fill="#3a70d0" opacity="0.7"/>
<circle cx="249.5" cy="304.2" r="0.7" fill="#7ab0f0" opacity="0.7"/>
<circle cx="272.4" cy="385.0" r="1.3" fill="#7ab0f0" opacity="0.7"/>
<circle cx="259.8" cy="319.3" r="1.1" fill="#3a70d0" opacity="0.7"/>
<circle cx="259.3" cy="297.5" r="0.9" fill="#3a70d0" opacity="0.7"/>
<circle cx="251.9" cy="322.2" r="1.3" fill="#7ab0f0" opacity="0.7"/>
<circle cx="272.3" cy="303.8" r="0.9" fill="#2850b0" opacity="0.7"/>
<circle cx="243.8" cy="365.5" r="1.2" fill="#7ab0f0" opacity="0.7"/>
<circle cx="249.3" cy="323.1" r="1.1" fill="#2850b0" opacity="0.7"/>
<circle cx="272.6" cy="343.6" r="1.2" fill="#3a70d0" opacity="0.7"/>
<circle cx="259.2" cy="355.4" r="0.9" fill="#3a70d0" opacity="0.7"/>
<circle cx="241.6" cy="366.4" r="1.2" fill="#2850b0" opacity="0.7"/>
<circle cx="241.4" cy="341.0" r="1.0" fill="#7ab0f0" opacity="0.7"/>
<circle cx="273.0" cy="342.0" r="0.8" fill="#8a90e0" opacity="0.7"/>
<circle cx="271.2" cy="350.1" r="0.5" fill="#2850b0" opacity="0.7"/>
<circle cx="253.9" cy="350.7" r="1.2" fill="#2850b0" opacity="0.7"/>
<circle cx="265.2" cy="312.6" r="0.5" fill="#2850b0" opacity="0.7"/>
<circle cx="256.4" cy="337.7" r="0.9" fill="#2850b0" opacity="0.7"/>
<circle cx="250.0" cy="313.2" r="1.1" fill="#2850b0" opacity="0.7"/>
<circle cx="262.8" cy="326.3" r="0.9" fill="#2850b0" opacity="0.7"/>
<circle cx="270.9" cy="323.1" r="0.6" fill="#2850b0" opacity="0.7"/>
<circle cx="249.2" cy="302.5" r="0.8" fill="#8a90e0" opacity="0.7"/>
<circle cx="241.2" cy="335.0" r="0.9" fill="#8a90e0" opacity="0.7"/>
<circle cx="254.4" cy="300.9" r="0.7" fill="#3a70d0" opacity="0.7"/>
<circle cx="258.6" cy="304.3" r="1.1" fill="#2850b0" opacity="0.7"/>
<circle cx="239.1" cy="378.8" r="1.1" fill="#8a90e0" opacity="0.7"/>
<circle cx="264.1" cy="311.6" r="0.6" fill="#3a70d0" opacity="0.7"/>
<circle cx="243.0" cy="375.8" r="0.6" fill="#2850b0" opacity="0.7"/>
<circle cx="247.8" cy="315.4" r="1.1" fill="#7ab0f0" opacity="0.7"/>
<circle cx="255.8" cy="346.4" r="0.8" fill="#2850b0" opacity="0.7"/>
<circle cx="254.9" cy="334.1" r="0.6" fill="#2850b0" opacity="0.7"/>
<circle cx="272.9" cy="363.9" r="0.6" fill="#3a70d0" opacity="0.7"/>
<circle cx="259.7" cy="332.1" r="0.9" fill="#3a70d0" opacity="0.7"/>
<circle cx="259.5" cy="371.4" r="0.8" fill="#2850b0" opacity="0.7"/>
<circle cx="258.3" cy="313.7" r="2.8" fill="url(#gOd)" />
<circle cx="267.5" cy="337.8" r="2.8" fill="url(#gOd)" />
<circle cx="262.9" cy="365.4" r="2.8" fill="url(#gOd)" />
<circle cx="244" cy="316" r="2.8" fill="url(#gOd)" />
<circle cx="270" cy="318" r="2.8" fill="url(#gOd)" />
<circle cx="266.4" cy="302.2" r="3.6" fill="url(#gEl)" />
<line x1="264.8" y1="302.2" x2="268.0" y2="302.2" stroke="#1a2a00" stroke-width="0.7" />
<circle cx="250.3" cy="309" r="3.6" fill="url(#gEl)" />
<line x1="248.7" y1="309" x2="251.9" y2="309" stroke="#1a2a00" stroke-width="0.7" />
<circle cx="267.5" cy="325.2" r="3.6" fill="url(#gEl)" />
<line x1="265.9" y1="325.2" x2="269.1" y2="325.2" stroke="#1a2a00" stroke-width="0.7" />
<circle cx="248" cy="327.5" r="3.6" fill="url(#gEl)" />
<line x1="246.4" y1="327.5" x2="249.6" y2="327.5" stroke="#1a2a00" stroke-width="0.7" />
<circle cx="245.7" cy="347" r="3.6" fill="url(#gEl)" />
<line x1="244.1" y1="347" x2="247.3" y2="347" stroke="#1a2a00" stroke-width="0.7" />
<circle cx="262.9" cy="349.3" r="3.6" fill="url(#gEl)" />
<line x1="261.3" y1="349.3" x2="264.5" y2="349.3" stroke="#1a2a00" stroke-width="0.7" />
<circle cx="251.4" cy="366.6" r="3.6" fill="url(#gEl)" />
<line x1="249.8" y1="366.6" x2="253.0" y2="366.6" stroke="#1a2a00" stroke-width="0.7" />
<circle cx="262.9" cy="385" r="3.6" fill="url(#gEl)" />
<line x1="261.3" y1="385" x2="264.5" y2="385" stroke="#1a2a00" stroke-width="0.7" />
<rect x="276.8" y="301.8" width="9" height="9" fill="#f8d0e4" opacity="0.55"/>
<rect x="276.8" y="334" width="9" height="9" fill="#f8d0e4" opacity="0.55"/>
<rect x="279.1" y="349" width="9" height="9" fill="#f8d0e4" opacity="0.55"/>
<rect x="276.8" y="376.5" width="9" height="9" fill="#f8d0e4" opacity="0.55"/>
<rect x="232.0" y="382.3" width="9" height="9" fill="#f8d0e4" opacity="0.55"/>
<rect x="234.3" y="298.3" width="9" height="9" fill="#f8d0e4" opacity="0.55"/>
<line x1="281.3" y1="306.8" x2="278.1" y2="309.0" stroke="#e8d030" stroke-width="0.9" />
<circle cx="278.1" cy="309.0" r="1.0" fill="#f0e040" />
<line x1="281.3" y1="306.8" x2="284.5" y2="309.0" stroke="#e8d030" stroke-width="0.9" />
<circle cx="284.5" cy="309.0" r="1.0" fill="#f0e040" />
<line x1="281.3" y1="306.8" x2="281.3" y2="303.2" stroke="#e8d030" stroke-width="0.9" />
<circle cx="281.3" cy="303.2" r="1.0" fill="#f0e040" />
<circle cx="281.3" cy="306.8" r="1.9" fill="#1c2ad0" />
<line x1="237.6" y1="335.5" x2="234.4" y2="337.7" stroke="#e8d030" stroke-width="0.9" />
<circle cx="234.4" cy="337.7" r="1.0" fill="#f0e040" />
<line x1="237.6" y1="335.5" x2="240.8" y2="337.7" stroke="#e8d030" stroke-width="0.9" />
<circle cx="240.8" cy="337.7" r="1.0" fill="#f0e040" />
<line x1="237.6" y1="335.5" x2="237.6" y2="331.9" stroke="#e8d030" stroke-width="0.9" />
<circle cx="237.6" cy="331.9" r="1.0" fill="#f0e040" />
<circle cx="237.6" cy="335.5" r="1.9" fill="#1c2ad0" />
<line x1="281.3" y1="339" x2="278.1" y2="341.2" stroke="#e8d030" stroke-width="0.9" />
<circle cx="278.1" cy="341.2" r="1.0" fill="#f0e040" />
<line x1="281.3" y1="339" x2="284.5" y2="341.2" stroke="#e8d030" stroke-width="0.9" />
<circle cx="284.5" cy="341.2" r="1.0" fill="#f0e040" />
<line x1="281.3" y1="339" x2="281.3" y2="335.4" stroke="#e8d030" stroke-width="0.9" />
<circle cx="281.3" cy="335.4" r="1.0" fill="#f0e040" />
<circle cx="281.3" cy="339" r="1.9" fill="#1c2ad0" />
<line x1="242.2" y1="359.7" x2="239.0" y2="361.9" stroke="#e8d030" stroke-width="0.9" />
<circle cx="239.0" cy="361.9" r="1.0" fill="#f0e040" />
<line x1="242.2" y1="359.7" x2="245.4" y2="361.9" stroke="#e8d030" stroke-width="0.9" />
<circle cx="245.4" cy="361.9" r="1.0" fill="#f0e040" />
<line x1="242.2" y1="359.7" x2="242.2" y2="356.1" stroke="#e8d030" stroke-width="0.9" />
<circle cx="242.2" cy="356.1" r="1.0" fill="#f0e040" />
<circle cx="242.2" cy="359.7" r="1.9" fill="#1c2ad0" />
<line x1="235.3" y1="373.5" x2="232.1" y2="375.7" stroke="#e8d030" stroke-width="0.9" />
<circle cx="232.1" cy="375.7" r="1.0" fill="#f0e040" />
<line x1="235.3" y1="373.5" x2="238.5" y2="375.7" stroke="#e8d030" stroke-width="0.9" />
<circle cx="238.5" cy="375.7" r="1.0" fill="#f0e040" />
<line x1="235.3" y1="373.5" x2="235.3" y2="369.9" stroke="#e8d030" stroke-width="0.9" />
<circle cx="235.3" cy="369.9" r="1.0" fill="#f0e040" />
<circle cx="235.3" cy="373.5" r="1.9" fill="#1c2ad0" />
<line x1="281.3" y1="381.5" x2="278.1" y2="383.7" stroke="#e8d030" stroke-width="0.9" />
<circle cx="278.1" cy="383.7" r="1.0" fill="#f0e040" />
<line x1="281.3" y1="381.5" x2="284.5" y2="383.7" stroke="#e8d030" stroke-width="0.9" />
<circle cx="284.5" cy="383.7" r="1.0" fill="#f0e040" />
<line x1="281.3" y1="381.5" x2="281.3" y2="377.9" stroke="#e8d030" stroke-width="0.9" />
<circle cx="281.3" cy="377.9" r="1.0" fill="#f0e040" />
<circle cx="281.3" cy="381.5" r="1.9" fill="#1c2ad0" />
<line x1="248" y1="386" x2="244.8" y2="388.2" stroke="#e8d030" stroke-width="0.9" />
<circle cx="244.8" cy="388.2" r="1.0" fill="#f0e040" />
<line x1="248" y1="386" x2="251.2" y2="388.2" stroke="#e8d030" stroke-width="0.9" />
<circle cx="251.2" cy="388.2" r="1.0" fill="#f0e040" />
<line x1="248" y1="386" x2="248.0" y2="382.4" stroke="#e8d030" stroke-width="0.9" />
<circle cx="248.0" cy="382.4" r="1.0" fill="#f0e040" />
<circle cx="248" cy="386" r="1.9" fill="#1c2ad0" />
<line x1="256" y1="300" x2="252.8" y2="302.2" stroke="#e8d030" stroke-width="0.9" />
<circle cx="252.8" cy="302.2" r="1.0" fill="#f0e040" />
<line x1="256" y1="300" x2="259.2" y2="302.2" stroke="#e8d030" stroke-width="0.9" />
<circle cx="259.2" cy="302.2" r="1.0" fill="#f0e040" />
<line x1="256" y1="300" x2="256.0" y2="296.4" stroke="#e8d030" stroke-width="0.9" />
<circle cx="256.0" cy="296.4" r="1.0" fill="#f0e040" />
<circle cx="256" cy="300" r="1.9" fill="#1c2ad0" />
<line x1="271" y1="332" x2="267.8" y2="334.2" stroke="#e8d030" stroke-width="0.9" />
<circle cx="267.8" cy="334.2" r="1.0" fill="#f0e040" />
<line x1="271" y1="332" x2="274.2" y2="334.2" stroke="#e8d030" stroke-width="0.9" />
<circle cx="274.2" cy="334.2" r="1.0" fill="#f0e040" />
<line x1="271" y1="332" x2="271.0" y2="328.4" stroke="#e8d030" stroke-width="0.9" />
<circle cx="271.0" cy="328.4" r="1.0" fill="#f0e040" />
<circle cx="271" cy="332" r="1.9" fill="#1c2ad0" />
<line x1="257" y1="372" x2="253.8" y2="374.2" stroke="#e8d030" stroke-width="0.9" />
<circle cx="253.8" cy="374.2" r="1.0" fill="#f0e040" />
<line x1="257" y1="372" x2="260.2" y2="374.2" stroke="#e8d030" stroke-width="0.9" />
<circle cx="260.2" cy="374.2" r="1.0" fill="#f0e040" />
<line x1="257" y1="372" x2="257.0" y2="368.4" stroke="#e8d030" stroke-width="0.9" />
<circle cx="257.0" cy="368.4" r="1.0" fill="#f0e040" />
<circle cx="257" cy="372" r="1.9" fill="#1c2ad0" />
<line x1="276" y1="364" x2="272.8" y2="366.2" stroke="#e8d030" stroke-width="0.9" />
<circle cx="272.8" cy="366.2" r="1.0" fill="#f0e040" />
<line x1="276" y1="364" x2="279.2" y2="366.2" stroke="#e8d030" stroke-width="0.9" />
<circle cx="279.2" cy="366.2" r="1.0" fill="#f0e040" />
<line x1="276" y1="364" x2="276.0" y2="360.4" stroke="#e8d030" stroke-width="0.9" />
<circle cx="276.0" cy="360.4" r="1.0" fill="#f0e040" />
<circle cx="276" cy="364" r="1.9" fill="#1c2ad0" />
<line x1="265" y1="358" x2="261.8" y2="360.2" stroke="#e8d030" stroke-width="0.9" />
<circle cx="261.8" cy="360.2" r="1.0" fill="#f0e040" />
<line x1="265" y1="358" x2="268.2" y2="360.2" stroke="#e8d030" stroke-width="0.9" />
<circle cx="268.2" cy="360.2" r="1.0" fill="#f0e040" />
<line x1="265" y1="358" x2="265.0" y2="354.4" stroke="#e8d030" stroke-width="0.9" />
<circle cx="265.0" cy="354.4" r="1.0" fill="#f0e040" />
<circle cx="265" cy="358" r="1.9" fill="#1c2ad0" />
<line x1="254" y1="338" x2="250.8" y2="340.2" stroke="#e8d030" stroke-width="0.9" />
<circle cx="250.8" cy="340.2" r="1.0" fill="#f0e040" />
<line x1="254" y1="338" x2="257.2" y2="340.2" stroke="#e8d030" stroke-width="0.9" />
<circle cx="257.2" cy="340.2" r="1.0" fill="#f0e040" />
<line x1="254" y1="338" x2="254.0" y2="334.4" stroke="#e8d030" stroke-width="0.9" />
<circle cx="254.0" cy="334.4" r="1.0" fill="#f0e040" />
<circle cx="254" cy="338" r="1.9" fill="#1c2ad0" />
<line x1="238.8" y1="303.3" x2="236.0" y2="300.1" stroke="#e8d030" stroke-width="0.9" />
<line x1="238.8" y1="303.3" x2="241.60000000000002" y2="300.1" stroke="#e8d030" stroke-width="0.9" />
<circle cx="236.0" cy="300.1" r="0.9" fill="#f0e040" />
<circle cx="241.60000000000002" cy="300.1" r="0.9" fill="#f0e040" />
<circle cx="238.8" cy="303.3" r="2.0" fill="#a85a20" />
<line x1="283.6" y1="354" x2="280.8" y2="350.8" stroke="#e8d030" stroke-width="0.9" />
<line x1="283.6" y1="354" x2="286.40000000000003" y2="350.8" stroke="#e8d030" stroke-width="0.9" />
<circle cx="280.8" cy="350.8" r="0.9" fill="#f0e040" />
<circle cx="286.40000000000003" cy="350.8" r="0.9" fill="#f0e040" />
<circle cx="283.6" cy="354" r="2.0" fill="#a85a20" />
<line x1="276.7" y1="359.7" x2="273.9" y2="356.5" stroke="#e8d030" stroke-width="0.9" />
<line x1="276.7" y1="359.7" x2="279.5" y2="356.5" stroke="#e8d030" stroke-width="0.9" />
<circle cx="273.9" cy="356.5" r="0.9" fill="#f0e040" />
<circle cx="279.5" cy="356.5" r="0.9" fill="#f0e040" />
<circle cx="276.7" cy="359.7" r="2.0" fill="#a85a20" />
<line x1="236.5" y1="387.3" x2="233.7" y2="384.1" stroke="#e8d030" stroke-width="0.9" />
<line x1="236.5" y1="387.3" x2="239.3" y2="384.1" stroke="#e8d030" stroke-width="0.9" />
<circle cx="233.7" cy="384.1" r="0.9" fill="#f0e040" />
<circle cx="239.3" cy="384.1" r="0.9" fill="#f0e040" />
<circle cx="236.5" cy="387.3" r="2.0" fill="#a85a20" />
<line x1="262" y1="391" x2="259.2" y2="387.8" stroke="#e8d030" stroke-width="0.9" />
<line x1="262" y1="391" x2="264.8" y2="387.8" stroke="#e8d030" stroke-width="0.9" />
<circle cx="259.2" cy="387.8" r="0.9" fill="#f0e040" />
<circle cx="264.8" cy="387.8" r="0.9" fill="#f0e040" />
<circle cx="262" cy="391" r="2.0" fill="#a85a20" />
<line x1="187.6" y1="308.6" x2="184.4" y2="310.8" stroke="#e8d030" stroke-width="0.9" />
<circle cx="184.4" cy="310.8" r="1.0" fill="#f0e040" />
<line x1="187.6" y1="308.6" x2="190.8" y2="310.8" stroke="#e8d030" stroke-width="0.9" />
<circle cx="190.8" cy="310.8" r="1.0" fill="#f0e040" />
<line x1="187.6" y1="308.6" x2="187.6" y2="305.0" stroke="#e8d030" stroke-width="0.9" />
<circle cx="187.6" cy="305.0" r="1.0" fill="#f0e040" />
<circle cx="187.6" cy="308.6" r="1.9" fill="#1c2ad0" />
<line x1="199" y1="311.4" x2="195.8" y2="313.6" stroke="#e8d030" stroke-width="0.9" />
<circle cx="195.8" cy="313.6" r="1.0" fill="#f0e040" />
<line x1="199" y1="311.4" x2="202.2" y2="313.6" stroke="#e8d030" stroke-width="0.9" />
<circle cx="202.2" cy="313.6" r="1.0" fill="#f0e040" />
<line x1="199" y1="311.4" x2="199.0" y2="307.8" stroke="#e8d030" stroke-width="0.9" />
<circle cx="199.0" cy="307.8" r="1.0" fill="#f0e040" />
<circle cx="199" cy="311.4" r="1.9" fill="#1c2ad0" />
<line x1="191" y1="320" x2="187.8" y2="322.2" stroke="#e8d030" stroke-width="0.9" />
<circle cx="187.8" cy="322.2" r="1.0" fill="#f0e040" />
<line x1="191" y1="320" x2="194.2" y2="322.2" stroke="#e8d030" stroke-width="0.9" />
<circle cx="194.2" cy="322.2" r="1.0" fill="#f0e040" />
<line x1="191" y1="320" x2="191.0" y2="316.4" stroke="#e8d030" stroke-width="0.9" />
<circle cx="191.0" cy="316.4" r="1.0" fill="#f0e040" />
<circle cx="191" cy="320" r="1.9" fill="#1c2ad0" />
<rect x="209.5" y="305.5" width="8" height="8" fill="#f6c8e2" opacity="0.75"/>
<circle cx="212.9" cy="309.6" r="2.9" fill="url(#gO)" />
<rect x="210.5" y="318.5" width="8" height="8" fill="#f6c8e2" opacity="0.75"/>
<circle cx="214" cy="322.9" r="2.9" fill="url(#gO)" />
<text x="216.3" y="316" font-size="7.0" fill="#111" text-anchor="start" font-weight="bold" font-family='"Liberation Serif", serif' letter-spacing="0.25">2<tspan font-weight="normal">(</tspan>ads<tspan font-weight="normal">)</tspan></text>
<text x="217.5" y="329.8" font-size="7.0" fill="#111" text-anchor="start" font-weight="bold" font-family='"Liberation Serif", serif' letter-spacing="0.25">2<tspan font-weight="normal">(</tspan>ads<tspan font-weight="normal">)</tspan></text>
<rect x="201.4" y="329.8" width="14.9" height="9.2" fill="#dcf6f6" opacity="0.9"/>
<rect x="215" y="350.5" width="16" height="16" fill="#dcf6f6" opacity="0.9"/>
<path d="M192.2,324 Q204,328 211,333" fill="none" stroke="#3a8a3a" stroke-width="1.2" stroke-dasharray="2.6,1.6"/>
<polygon points="208,331 215,333 210.5,338" fill="#3a9a3a" />
<path d="M212,340 Q211,352 207,362" fill="none" stroke="#3a8a3a" stroke-width="1.2" stroke-dasharray="2.6,1.6"/>
<polygon points="203,360 210,362 205.5,368" fill="#3a9a3a" />
<line x1="210.6" y1="347.7" x2="207.79999999999998" y2="344.5" stroke="#e8d030" stroke-width="0.9" />
<line x1="210.6" y1="347.7" x2="213.4" y2="344.5" stroke="#e8d030" stroke-width="0.9" />
<circle cx="207.79999999999998" cy="344.5" r="0.9" fill="#f0e040" />
<circle cx="213.4" cy="344.5" r="0.9" fill="#f0e040" />
<circle cx="210.6" cy="347.7" r="2.0" fill="#a85a20" />
<circle cx="225.5" cy="354" r="3.9" fill="url(#gEl)" />
<line x1="223.7" y1="354" x2="227.3" y2="354" stroke="#1a2a00" stroke-width="0.7" />
<path d="M214,359.7 Q218,364 226,362" fill="none" stroke="#777" stroke-width="0.6"/>
<polygon points="225,360.5 228,362 225,363.5" fill="#5a7aa0" />
<rect x="193" y="362" width="20" height="28" fill="#fae0ec" opacity="0.6"/>
<line x1="199" y1="365.4" x2="199" y2="370.9" stroke="#777" stroke-width="0.8" />
<circle cx="199" cy="365.4" r="1.9" fill="#1c2ad0" />
<circle cx="199" cy="370.9" r="1.9" fill="#a85a20" />
<line x1="204.8" y1="372.3" x2="204.8" y2="377.8" stroke="#777" stroke-width="0.8" />
<circle cx="204.8" cy="372.3" r="1.9" fill="#1c2ad0" />
<circle cx="204.8" cy="377.8" r="1.9" fill="#a85a20" />
<line x1="196.8" y1="381.5" x2="196.8" y2="387.0" stroke="#777" stroke-width="0.8" />
<circle cx="196.8" cy="381.5" r="1.9" fill="#1c2ad0" />
<circle cx="196.8" cy="387.0" r="1.9" fill="#a85a20" />
<line x1="209.4" y1="378" x2="209.4" y2="383.5" stroke="#777" stroke-width="0.8" />
<circle cx="209.4" cy="378" r="1.9" fill="#1c2ad0" />
<circle cx="209.4" cy="383.5" r="1.9" fill="#a85a20" />
<text x="246.8" y="321.7" font-size="7.0" fill="#111" text-anchor="start" font-weight="bold" font-family='"Liberation Serif", serif' letter-spacing="0.25">2<tspan font-weight="normal">(</tspan>ads<tspan font-weight="normal">)</tspan></text>
<text x="267.5" y="370" font-size="7.0" fill="#111" text-anchor="start" font-weight="bold" font-family='"Liberation Serif", serif' letter-spacing="0.25">2<tspan font-weight="normal">(</tspan>ads<tspan font-weight="normal">)</tspan></text>
<text x="241.2" y="403.6" font-size="10.1" fill="#111" text-anchor="middle" font-weight="bold" font-family='"Liberation Serif", serif' >Ti<tspan dy="2.0" font-size="6.1">3</tspan><tspan dy="-2.0">C</tspan><tspan dy="2.0" font-size="6.1">2</tspan><tspan dy="-2.0">T</tspan><tspan dy="2.0" font-size="6.1">x</tspan><tspan dy="-2.0"></tspan> / ZnO in ammonia</text>
<text x="368" y="159.3" font-size="12.6" fill="#1a1a1a" text-anchor="start" font-weight="normal" font-family='"Liberation Sans", sans-serif' stroke="#1a1a1a" stroke-width="0.2">(e)</text>
<rect x="392.7" y="173.5" width="142.90000000000003" height="108.80000000000001" fill="#ffffff" stroke="#333" stroke-width="0.8"/>
<rect x="440" y="232" width="96.5" height="8" fill="#d6f5f8" />
<rect x="393" y="175" width="5.5" height="107" fill="#d6f5f8" />
<rect x="409" y="255" width="13" height="27" fill="#e4f8fa" />
<rect x="440" y="264" width="11" height="18" fill="#e4f8fa" />
<rect x="504" y="266" width="12" height="16" fill="#e8f8fa" />
<line x1="392.7" y1="282.3" x2="394.7" y2="282.3" stroke="#333" stroke-width="0.6" />
<text x="391" y="284.1" font-size="5.4" fill="#222" text-anchor="end" font-weight="bold" font-family='"Liberation Serif", serif' >0</text>
<line x1="392.7" y1="260.62" x2="394.7" y2="260.62" stroke="#333" stroke-width="0.6" />
<text x="391" y="262.4" font-size="5.4" fill="#222" text-anchor="end" font-weight="bold" font-family='"Liberation Serif", serif' >50</text>
<line x1="392.7" y1="238.94" x2="394.7" y2="238.94" stroke="#333" stroke-width="0.6" />
<text x="391" y="240.7" font-size="5.4" fill="#222" text-anchor="end" font-weight="bold" font-family='"Liberation Serif", serif' >100</text>
<line x1="392.7" y1="217.26000000000002" x2="394.7" y2="217.26000000000002" stroke="#333" stroke-width="0.6" />
<text x="391" y="219.1" font-size="5.4" fill="#222" text-anchor="end" font-weight="bold" font-family='"Liberation Serif", serif' >150</text>
<line x1="392.7" y1="195.58" x2="394.7" y2="195.58" stroke="#333" stroke-width="0.6" />
<text x="391" y="197.4" font-size="5.4" fill="#222" text-anchor="end" font-weight="bold" font-family='"Liberation Serif", serif' >200</text>
<line x1="392.7" y1="173.90000000000003" x2="394.7" y2="173.90000000000003" stroke="#333" stroke-width="0.6" />
<text x="391" y="175.7" font-size="5.4" fill="#222" text-anchor="end" font-weight="bold" font-family='"Liberation Serif", serif' >250</text>
<text x="0" y="0" font-size="9.0" fill="#111" text-anchor="middle" font-weight="bold" font-family='"Liberation Serif", serif' transform="translate(379.5,223.5) rotate(-90)">Gas response <tspan font-style="italic">β</tspan> (%)</text>
<text x="395" y="181" font-size="6.6" fill="#111" text-anchor="start" font-weight="bold" font-family='"Liberation Serif", serif' >RT=28.8 °C, RH=37%</text>
<rect x="481.6" y="176.5" width="11" height="3" fill="#4f78b8" />
<text x="494.5" y="179.8" font-size="5.0" fill="#111" text-anchor="start" font-weight="bold" font-family='"Liberation Serif", serif' >Ti<tspan dy="1.0" font-size="3.0">3</tspan><tspan dy="-1.0">C</tspan><tspan dy="1.0" font-size="3.0">2</tspan><tspan dy="-1.0">T</tspan><tspan dy="1.0" font-size="3.0">x</tspan><tspan dy="-1.0"></tspan>:ZnO (3:1)</text>
<rect x="481.6" y="183.8" width="11" height="3" fill="#d6d83a" />
<text x="494.5" y="187.1" font-size="5.0" fill="#111" text-anchor="start" font-weight="bold" font-family='"Liberation Serif", serif' >Ti<tspan dy="1.0" font-size="3.0">3</tspan><tspan dy="-1.0">C</tspan><tspan dy="1.0" font-size="3.0">2</tspan><tspan dy="-1.0">T</tspan><tspan dy="1.0" font-size="3.0">x</tspan><tspan dy="-1.0"></tspan>:ZnO (5:1)</text>
<rect x="481.6" y="191.1" width="11" height="3" fill="#7270a4" />
<text x="494.5" y="194.4" font-size="5.0" fill="#111" text-anchor="start" font-weight="bold" font-family='"Liberation Serif", serif' >Ti<tspan dy="1.0" font-size="3.0">3</tspan><tspan dy="-1.0">C</tspan><tspan dy="1.0" font-size="3.0">2</tspan><tspan dy="-1.0">T</tspan><tspan dy="1.0" font-size="3.0">x</tspan><tspan dy="-1.0"></tspan>:ZnO (2:1)</text>
<rect x="481.6" y="198.4" width="11" height="3" fill="#6a8a66" />
<text x="494.5" y="201.7" font-size="5.0" fill="#111" text-anchor="start" font-weight="bold" font-family='"Liberation Serif", serif' >Ti<tspan dy="1.0" font-size="3.0">3</tspan><tspan dy="-1.0">C</tspan><tspan dy="1.0" font-size="3.0">2</tspan><tspan dy="-1.0">T</tspan><tspan dy="1.0" font-size="3.0">x</tspan><tspan dy="-1.0"></tspan>:ZnO (1:1)</text>
<rect x="481.6" y="205.7" width="11" height="3" fill="#3e4cc0" />
<text x="494.5" y="209.0" font-size="5.2" fill="#111" text-anchor="start" font-weight="bold" font-family='"Liberation Serif", serif' >Ti<tspan dy="1.0" font-size="3.1">3</tspan><tspan dy="-1.0">C</tspan><tspan dy="1.0" font-size="3.1">2</tspan><tspan dy="-1.0">T</tspan><tspan dy="1.0" font-size="3.1">x</tspan><tspan dy="-1.0"></tspan></text>
<rect x="481.6" y="213.0" width="11" height="3" fill="#b6d03a" />
<text x="496" y="216.3" font-size="5.2" fill="#111" text-anchor="start" font-weight="bold" font-family='"Liberation Serif", serif' >ZnO</text>
<text x="494.5" y="223.5" font-size="5.2" fill="#111" text-anchor="start" font-weight="bold" font-family='"Liberation Serif", serif' >to different gases</text>
<circle cx="485.5" cy="229.5" r="1.4" fill="#111" />
<text x="488.0" y="231.3" font-size="5" fill="#111" text-anchor="start" font-weight="bold" font-family='"Liberation Serif", serif' >C</text>
<circle cx="497" cy="229.5" r="1.4" fill="#1a2ab0" />
<text x="499.5" y="231.3" font-size="5" fill="#111" text-anchor="start" font-weight="bold" font-family='"Liberation Serif", serif' >N</text>
<circle cx="508.5" cy="229.5" r="1.4" fill="#b08a10" />
<text x="511.0" y="231.3" font-size="5" fill="#111" text-anchor="start" font-weight="bold" font-family='"Liberation Serif", serif' >O</text>
<circle cx="520" cy="229.5" r="1.4" fill="#e8e060" />
<text x="522.5" y="231.3" font-size="5" fill="#111" text-anchor="start" font-weight="bold" font-family='"Liberation Serif", serif' >H</text>
<rect x="392.7" y="194.71" width="2.6" height="87.59" fill="#4f78b8" />
<rect x="395.35" y="234.6" width="2.6" height="47.7" fill="#d6d83a" />
<rect x="398.0" y="265.39" width="2.6" height="16.91" fill="#7270a4" />
<rect x="400.65" y="273.63" width="2.6" height="8.67" fill="#6a8a66" />
<rect x="403.3" y="277.96" width="2.6" height="4.34" fill="#3e4cc0" />
<rect x="405.95" y="264.09" width="2.6" height="18.21" fill="#b6d03a" />
<text x="394.2" y="193.7" font-size="4.5" fill="#1a2a60" text-anchor="middle" font-weight="bold" font-family='"Liberation Serif", serif' >196</text>
<rect x="408.7" y="253.68" width="2.6" height="28.62" fill="#4f78b8" />
<rect x="411.35" y="264.96" width="2.6" height="17.34" fill="#d6d83a" />
<rect x="414.0" y="267.12" width="2.6" height="15.18" fill="#7270a4" />
<rect x="416.65" y="247.18" width="2.6" height="35.12" fill="#6a8a66" />
<rect x="419.3" y="277.96" width="2.6" height="4.34" fill="#3e4cc0" />
<rect x="421.95" y="281.43" width="2.6" height="0.87" fill="#b6d03a" />
<text x="410.2" y="252.7" font-size="4.5" fill="#1a2a60" text-anchor="middle" font-weight="bold" font-family='"Liberation Serif", serif' >66</text>
<rect x="424.7" y="275.8" width="2.6" height="6.5" fill="#4f78b8" />
<rect x="427.35" y="274.06" width="2.6" height="8.24" fill="#d6d83a" />
<rect x="430.0" y="280.13" width="2.6" height="2.17" fill="#7270a4" />
<rect x="432.65" y="270.16" width="2.6" height="12.14" fill="#6a8a66" />
<rect x="435.3" y="275.8" width="2.6" height="6.5" fill="#3e4cc0" />
<rect x="437.95" y="281.87" width="2.6" height="0.43" fill="#b6d03a" />
<text x="426.2" y="274.8" font-size="4.5" fill="#1a2a60" text-anchor="middle" font-weight="bold" font-family='"Liberation Serif", serif' >15</text>
<rect x="440.7" y="265.39" width="2.6" height="16.91" fill="#4f78b8" />
<rect x="443.35" y="274.5" width="2.6" height="7.8" fill="#d6d83a" />
<rect x="446.0" y="268.42" width="2.6" height="13.88" fill="#7270a4" />
<rect x="448.65" y="272.76" width="2.6" height="9.54" fill="#6a8a66" />
<rect x="451.3" y="281.87" width="2.6" height="0.43" fill="#3e4cc0" />
<rect x="453.95" y="280.13" width="2.6" height="2.17" fill="#b6d03a" />
<text x="442.2" y="264.4" font-size="4.5" fill="#1a2a60" text-anchor="middle" font-weight="bold" font-family='"Liberation Serif", serif' >39</text>
<rect x="456.7" y="279.7" width="2.6" height="2.6" fill="#4f78b8" />
<rect x="459.35" y="281.43" width="2.6" height="0.87" fill="#d6d83a" />
<rect x="462.0" y="277.96" width="2.6" height="4.34" fill="#7270a4" />
<rect x="464.65" y="277.96" width="2.6" height="4.34" fill="#6a8a66" />
<rect x="467.3" y="281.87" width="2.6" height="0.43" fill="#3e4cc0" />
<rect x="469.95" y="281.87" width="2.6" height="0.43" fill="#b6d03a" />
<text x="458.2" y="278.7" font-size="4.5" fill="#1a2a60" text-anchor="middle" font-weight="bold" font-family='"Liberation Serif", serif' >6</text>
<rect x="472.7" y="276.66" width="2.6" height="5.64" fill="#4f78b8" />
<rect x="475.35" y="281.87" width="2.6" height="0.43" fill="#d6d83a" />
<rect x="478.0" y="281.43" width="2.6" height="0.87" fill="#7270a4" />
<rect x="480.65" y="281.43" width="2.6" height="0.87" fill="#6a8a66" />
<rect x="483.3" y="281.87" width="2.6" height="0.43" fill="#3e4cc0" />
<rect x="485.95" y="275.8" width="2.6" height="6.5" fill="#b6d03a" />
<text x="474.2" y="275.7" font-size="4.5" fill="#1a2a60" text-anchor="middle" font-weight="bold" font-family='"Liberation Serif", serif' >13</text>
<rect x="488.7" y="277.53" width="2.6" height="4.77" fill="#4f78b8" />
<rect x="491.35" y="280.13" width="2.6" height="2.17" fill="#d6d83a" />
<rect x="494.0" y="273.19" width="2.6" height="9.11" fill="#7270a4" />
<rect x="496.65" y="281.43" width="2.6" height="0.87" fill="#6a8a66" />
<rect x="499.3" y="281.87" width="2.6" height="0.43" fill="#3e4cc0" />
<rect x="501.95" y="255.85" width="2.6" height="26.45" fill="#b6d03a" />
<text x="490.2" y="276.5" font-size="4.5" fill="#1a2a60" text-anchor="middle" font-weight="bold" font-family='"Liberation Serif", serif' >11</text>
<rect x="504.7" y="269.29" width="2.6" height="13.01" fill="#4f78b8" />
<rect x="507.35" y="274.93" width="2.6" height="7.37" fill="#d6d83a" />
<rect x="510.0" y="274.06" width="2.6" height="8.24" fill="#7270a4" />
<rect x="512.65" y="276.23" width="2.6" height="6.07" fill="#6a8a66" />
<rect x="515.3" y="281.87" width="2.6" height="0.43" fill="#3e4cc0" />
<rect x="517.95" y="260.19" width="2.6" height="22.11" fill="#b6d03a" />
<text x="506.2" y="268.3" font-size="4.5" fill="#1a2a60" text-anchor="middle" font-weight="bold" font-family='"Liberation Serif", serif' >30</text>
<rect x="520.7" y="271.03" width="2.6" height="11.27" fill="#4f78b8" />
<rect x="523.35" y="275.36" width="2.6" height="6.94" fill="#d6d83a" />
<rect x="526.0" y="275.8" width="2.6" height="6.5" fill="#7270a4" />
<rect x="528.65" y="276.23" width="2.6" height="6.07" fill="#6a8a66" />
<rect x="531.3" y="281.87" width="2.6" height="0.43" fill="#3e4cc0" />
<rect x="533.95" y="277.96" width="2.6" height="4.34" fill="#b6d03a" />
<text x="522.2" y="270.0" font-size="4.5" fill="#1a2a60" text-anchor="middle" font-weight="bold" font-family='"Liberation Serif", serif' >26</text>
<line x1="396" y1="213" x2="438" y2="213" stroke="#b0b020" stroke-width="0.8" />
<polygon points="438,211.5 441,213 438,214.5" fill="#b0b020" />
<text x="398" y="210.5" font-size="4.2" fill="#9a9a10" text-anchor="start" font-weight="bold" font-family='"Liberation Serif", serif' >50 ppm</text>
<line x1="439.4" y1="213" x2="439.4" y2="282" stroke="#555" stroke-width="0.6" stroke-dasharray="1.5,1.5"/>
<text x="442" y="237.5" font-size="4.2" fill="#5a9ab0" text-anchor="start" font-weight="bold" font-family='"Liberation Serif", serif' >500 ppm</text>
<line x1="403.5" y1="192" x2="400.5" y2="189.5" stroke="#8a8a60" stroke-width="0.6" />
<line x1="403.5" y1="192" x2="406.5" y2="189.5" stroke="#8a8a60" stroke-width="0.6" />
<line x1="403.5" y1="192" x2="403.5" y2="195.5" stroke="#8a8a60" stroke-width="0.6" />
<circle cx="403.5" cy="192" r="1.5" fill="#1c2ad0" />
<circle cx="400.5" cy="189.5" r="1.0" fill="#e8dc50" />
<circle cx="406.5" cy="189.5" r="1.0" fill="#e8dc50" />
<circle cx="403.5" cy="195.5" r="1.0" fill="#e8dc50" />
<line x1="412" y1="228.5" x2="416" y2="231.5" stroke="#8a8a60" stroke-width="0.6" />
<line x1="416" y1="231.5" x2="418" y2="234.5" stroke="#8a8a60" stroke-width="0.6" />
<line x1="418" y1="234.5" x2="423" y2="230.5" stroke="#8a8a60" stroke-width="0.6" />
<line x1="423" y1="230.5" x2="424" y2="226.5" stroke="#8a8a60" stroke-width="0.6" />
<line x1="424" y1="226.5" x2="418" y2="234.5" stroke="#8a8a60" stroke-width="0.6" />
<line x1="418" y1="234.5" x2="417" y2="238.5" stroke="#8a8a60" stroke-width="0.6" />
<line x1="417" y1="238.5" x2="422" y2="240.5" stroke="#8a8a60" stroke-width="0.6" />
<line x1="412" y1="228.5" x2="409" y2="226.5" stroke="#8a8a60" stroke-width="0.6" />
<line x1="412" y1="228.5" x2="409" y2="230.5" stroke="#8a8a60" stroke-width="0.6" />
<line x1="424" y1="226.5" x2="426" y2="223.5" stroke="#8a8a60" stroke-width="0.6" />
<line x1="424" y1="226.5" x2="428" y2="228.5" stroke="#8a8a60" stroke-width="0.6" />
<line x1="422" y1="240.5" x2="425" y2="237.5" stroke="#8a8a60" stroke-width="0.6" />
<line x1="422" y1="240.5" x2="419" y2="237.5" stroke="#8a8a60" stroke-width="0.6" />
<line x1="422" y1="240.5" x2="424" y2="244.5" stroke="#8a8a60" stroke-width="0.6" />
<line x1="417" y1="238.5" x2="413" y2="239.5" stroke="#8a8a60" stroke-width="0.6" />
<line x1="417" y1="238.5" x2="420" y2="240.5" stroke="#8a8a60" stroke-width="0.6" />
<circle cx="412" cy="228.5" r="1.45" fill="#1a1a1a" />
<circle cx="416" cy="231.5" r="1.45" fill="#1a1a1a" />
<circle cx="418" cy="234.5" r="1.5" fill="#1c2ad0" />
<circle cx="423" cy="230.5" r="1.45" fill="#1a1a1a" />
<circle cx="424" cy="226.5" r="1.45" fill="#1a1a1a" />
<circle cx="418" cy="234.5" r="1.5" fill="#1c2ad0" />
<circle cx="417" cy="238.5" r="1.45" fill="#1a1a1a" />
<circle cx="422" cy="240.5" r="1.45" fill="#1a1a1a" />
<circle cx="409" cy="226.5" r="1.0" fill="#e8dc50" />
<circle cx="409" cy="230.5" r="1.0" fill="#e8dc50" />
<circle cx="426" cy="223.5" r="1.0" fill="#e8dc50" />
<circle cx="428" cy="228.5" r="1.0" fill="#e8dc50" />
<circle cx="425" cy="237.5" r="1.0" fill="#e8dc50" />
<circle cx="419" cy="237.5" r="1.0" fill="#e8dc50" />
<circle cx="424" cy="244.5" r="1.0" fill="#e8dc50" />
<circle cx="413" cy="239.5" r="1.0" fill="#e8dc50" />
<circle cx="420" cy="240.5" r="1.0" fill="#e8dc50" />
<line x1="426" y1="258" x2="431" y2="260" stroke="#8a8a60" stroke-width="0.6" />
<line x1="431" y1="260" x2="436" y2="258" stroke="#8a8a60" stroke-width="0.6" />
<line x1="436" y1="258" x2="431" y2="260" stroke="#8a8a60" stroke-width="0.6" />
<line x1="431" y1="260" x2="431" y2="265" stroke="#8a8a60" stroke-width="0.6" />
<line x1="426" y1="258" x2="423" y2="256" stroke="#8a8a60" stroke-width="0.6" />
<line x1="426" y1="258" x2="424" y2="261" stroke="#8a8a60" stroke-width="0.6" />
<line x1="436" y1="258" x2="439" y2="256" stroke="#8a8a60" stroke-width="0.6" />
<line x1="436" y1="258" x2="438" y2="261" stroke="#8a8a60" stroke-width="0.6" />
<line x1="431" y1="265" x2="428" y2="267" stroke="#8a8a60" stroke-width="0.6" />
<line x1="431" y1="265" x2="434" y2="267" stroke="#8a8a60" stroke-width="0.6" />
<circle cx="426" cy="258" r="1.45" fill="#1a1a1a" />
<circle cx="431" cy="260" r="1.5" fill="#1c2ad0" />
<circle cx="436" cy="258" r="1.45" fill="#1a1a1a" />
<circle cx="431" cy="260" r="1.5" fill="#1c2ad0" />
<circle cx="431" cy="265" r="1.45" fill="#1a1a1a" />
<circle cx="423" cy="256" r="1.0" fill="#e8dc50" />
<circle cx="424" cy="261" r="1.0" fill="#e8dc50" />
<circle cx="439" cy="256" r="1.0" fill="#e8dc50" />
<circle cx="438" cy="261" r="1.0" fill="#e8dc50" />
<circle cx="428" cy="267" r="1.0" fill="#e8dc50" />
<circle cx="434" cy="267" r="1.0" fill="#e8dc50" />
<line x1="442" y1="249.5" x2="447" y2="247.5" stroke="#8a8a60" stroke-width="0.6" />
<line x1="447" y1="247.5" x2="452" y2="248.5" stroke="#8a8a60" stroke-width="0.6" />
<line x1="442" y1="249.5" x2="439" y2="247.5" stroke="#8a8a60" stroke-width="0.6" />
<line x1="442" y1="249.5" x2="439" y2="252.5" stroke="#8a8a60" stroke-width="0.6" />
<line x1="442" y1="249.5" x2="443" y2="253.5" stroke="#8a8a60" stroke-width="0.6" />
<line x1="447" y1="247.5" x2="447" y2="243.5" stroke="#8a8a60" stroke-width="0.6" />
<line x1="447" y1="247.5" x2="447" y2="251.5" stroke="#8a8a60" stroke-width="0.6" />
<line x1="452" y1="248.5" x2="455" y2="250.5" stroke="#8a8a60" stroke-width="0.6" />
<circle cx="442" cy="249.5" r="1.45" fill="#1a1a1a" />
<circle cx="447" cy="247.5" r="1.45" fill="#1a1a1a" />
<circle cx="452" cy="248.5" r="1.5" fill="#b07a10" />
<circle cx="439" cy="247.5" r="1.0" fill="#e8dc50" />
<circle cx="439" cy="252.5" r="1.0" fill="#e8dc50" />
<circle cx="443" cy="253.5" r="1.0" fill="#e8dc50" />
<circle cx="447" cy="243.5" r="1.0" fill="#e8dc50" />
<circle cx="447" cy="251.5" r="1.0" fill="#e8dc50" />
<circle cx="455" cy="250.5" r="1.0" fill="#e8dc50" />
<line x1="465.79089653438086" y1="270.4" x2="462.5" y2="272.3" stroke="#8a8a60" stroke-width="0.6" />
<line x1="462.5" y1="272.3" x2="459.20910346561914" y2="270.4" stroke="#8a8a60" stroke-width="0.6" />
<line x1="459.20910346561914" y1="270.4" x2="459.20910346561914" y2="266.6" stroke="#8a8a60" stroke-width="0.6" />
<line x1="459.20910346561914" y1="266.6" x2="462.5" y2="264.7" stroke="#8a8a60" stroke-width="0.6" />
<line x1="462.5" y1="264.7" x2="465.79089653438086" y2="266.6" stroke="#8a8a60" stroke-width="0.6" />
<line x1="465.79089653438086" y1="266.6" x2="465.79089653438086" y2="270.4" stroke="#8a8a60" stroke-width="0.6" />
<line x1="465.79089653438086" y1="270.4" x2="468.12916512459884" y2="271.75" stroke="#8a8a60" stroke-width="0.6" />
<line x1="462.5" y1="272.3" x2="462.5" y2="275.0" stroke="#8a8a60" stroke-width="0.6" />
<line x1="459.20910346561914" y1="270.4" x2="456.87083487540116" y2="271.75" stroke="#8a8a60" stroke-width="0.6" />
<line x1="459.20910346561914" y1="266.6" x2="456.87083487540116" y2="265.25" stroke="#8a8a60" stroke-width="0.6" />
<line x1="462.5" y1="264.7" x2="462.5" y2="262.0" stroke="#8a8a60" stroke-width="0.6" />
<line x1="465.79089653438086" y1="266.6" x2="468.12916512459884" y2="265.25" stroke="#8a8a60" stroke-width="0.6" />
<circle cx="465.8" cy="270.4" r="1.45" fill="#1a1a1a" />
<circle cx="462.5" cy="272.3" r="1.45" fill="#1a1a1a" />
<circle cx="459.2" cy="270.4" r="1.45" fill="#1a1a1a" />
<circle cx="459.2" cy="266.6" r="1.45" fill="#1a1a1a" />
<circle cx="462.5" cy="264.7" r="1.45" fill="#1a1a1a" />
<circle cx="465.8" cy="266.6" r="1.45" fill="#1a1a1a" />
<circle cx="468.1" cy="271.8" r="1.0" fill="#e8dc50" />
<circle cx="462.5" cy="275.0" r="1.0" fill="#e8dc50" />
<circle cx="456.9" cy="271.8" r="1.0" fill="#e8dc50" />
<circle cx="456.9" cy="265.2" r="1.0" fill="#e8dc50" />
<circle cx="462.5" cy="262.0" r="1.0" fill="#e8dc50" />
<circle cx="468.1" cy="265.2" r="1.0" fill="#e8dc50" />
<line x1="475" y1="268" x2="480" y2="266" stroke="#8a8a60" stroke-width="0.6" />
<line x1="480" y1="266" x2="485" y2="268" stroke="#8a8a60" stroke-width="0.6" />
<line x1="475" y1="268" x2="472" y2="266" stroke="#8a8a60" stroke-width="0.6" />
<line x1="475" y1="268" x2="473" y2="271" stroke="#8a8a60" stroke-width="0.6" />
<line x1="485" y1="268" x2="488" y2="266" stroke="#8a8a60" stroke-width="0.6" />
<line x1="485" y1="268" x2="487" y2="271" stroke="#8a8a60" stroke-width="0.6" />
<line x1="480" y1="266" x2="480" y2="261.5" stroke="#8a8a60" stroke-width="0.6" />
<circle cx="475" cy="268" r="1.45" fill="#1a1a1a" />
<circle cx="480" cy="266" r="1.45" fill="#1a1a1a" />
<circle cx="485" cy="268" r="1.45" fill="#1a1a1a" />
<circle cx="472" cy="266" r="1.0" fill="#e8dc50" />
<circle cx="473" cy="271" r="1.0" fill="#e8dc50" />
<circle cx="488" cy="266" r="1.0" fill="#e8dc50" />
<circle cx="487" cy="271" r="1.0" fill="#e8dc50" />
<circle cx="480" cy="261.5" r="1.0" fill="#e8dc50" />
<circle cx="480" cy="261.5" r="1.5" fill="#b07a10" />
<circle cx="494" cy="247" r="2.6" fill="#1a1a1a" />
<line x1="494" y1="247" x2="499" y2="244" stroke="#8a8a60" stroke-width="0.7" />
<circle cx="499" cy="244" r="1.8" fill="#c07a10" />
<circle cx="490.5" cy="243.5" r="1.1" fill="#e8dc50" />
<circle cx="492" cy="251.5" r="1.1" fill="#e8dc50" />
<circle cx="497.5" cy="250.5" r="1.1" fill="#e8dc50" />
<circle cx="501.5" cy="241.5" r="1.0" fill="#e8dc50" />
<line x1="507" y1="256" x2="510" y2="251" stroke="#8a8a60" stroke-width="0.6" />
<line x1="510" y1="251" x2="514" y2="247" stroke="#8a8a60" stroke-width="0.6" />
<line x1="514" y1="247" x2="517" y2="242" stroke="#8a8a60" stroke-width="0.6" />
<line x1="507" y1="256" x2="504" y2="258" stroke="#8a8a60" stroke-width="0.6" />
<line x1="507" y1="256" x2="506" y2="260" stroke="#8a8a60" stroke-width="0.6" />
<line x1="510" y1="251" x2="507" y2="249" stroke="#8a8a60" stroke-width="0.6" />
<line x1="510" y1="251" x2="513" y2="252" stroke="#8a8a60" stroke-width="0.6" />
<line x1="514" y1="247" x2="511" y2="246" stroke="#8a8a60" stroke-width="0.6" />
<line x1="514" y1="247" x2="517" y2="249" stroke="#8a8a60" stroke-width="0.6" />
<line x1="517" y1="242" x2="520" y2="241" stroke="#8a8a60" stroke-width="0.6" />
<circle cx="507" cy="256" r="1.45" fill="#1a1a1a" />
<circle cx="510" cy="251" r="1.45" fill="#1a1a1a" />
<circle cx="514" cy="247" r="1.45" fill="#1a1a1a" />
<circle cx="517" cy="242" r="1.5" fill="#b07a10" />
<circle cx="504" cy="258" r="1.0" fill="#e8dc50" />
<circle cx="506" cy="260" r="1.0" fill="#e8dc50" />
<circle cx="507" cy="249" r="1.0" fill="#e8dc50" />
<circle cx="513" cy="252" r="1.0" fill="#e8dc50" />
<circle cx="511" cy="246" r="1.0" fill="#e8dc50" />
<circle cx="517" cy="249" r="1.0" fill="#e8dc50" />
<circle cx="520" cy="241" r="1.0" fill="#e8dc50" />
<line x1="525" y1="255" x2="530" y2="257" stroke="#8a8a60" stroke-width="0.6" />
<line x1="530" y1="257" x2="535" y2="255" stroke="#8a8a60" stroke-width="0.6" />
<line x1="535" y1="255" x2="530" y2="257" stroke="#8a8a60" stroke-width="0.6" />
<line x1="530" y1="257" x2="530" y2="262" stroke="#8a8a60" stroke-width="0.6" />
<line x1="525" y1="255" x2="523" y2="252" stroke="#8a8a60" stroke-width="0.6" />
<line x1="525" y1="255" x2="522" y2="257" stroke="#8a8a60" stroke-width="0.6" />
<line x1="535" y1="255" x2="537" y2="252" stroke="#8a8a60" stroke-width="0.6" />
<line x1="535" y1="255" x2="538" y2="257" stroke="#8a8a60" stroke-width="0.6" />
<line x1="530" y1="257" x2="532" y2="254" stroke="#8a8a60" stroke-width="0.6" />
<circle cx="525" cy="255" r="1.45" fill="#1a1a1a" />
<circle cx="530" cy="257" r="1.45" fill="#1a1a1a" />
<circle cx="535" cy="255" r="1.45" fill="#1a1a1a" />
<circle cx="530" cy="257" r="1.45" fill="#1a1a1a" />
<circle cx="530" cy="262" r="1.5" fill="#b07a10" />
<circle cx="523" cy="252" r="1.0" fill="#e8dc50" />
<circle cx="522" cy="257" r="1.0" fill="#e8dc50" />
<circle cx="537" cy="252" r="1.0" fill="#e8dc50" />
<circle cx="538" cy="257" r="1.0" fill="#e8dc50" />
<circle cx="532" cy="254" r="1.0" fill="#e8dc50" />
<text x="0" y="0" font-size="5.3" fill="#111" text-anchor="start" font-weight="bold" font-family='"Liberation Serif", serif' transform="translate(393.5,286.5) rotate(30)">Ammonia</text>
<text x="0" y="0" font-size="5.3" fill="#111" text-anchor="start" font-weight="bold" font-family='"Liberation Serif", serif' transform="translate(409.5,286.5) rotate(30)">TEA</text>
<text x="0" y="0" font-size="5.3" fill="#111" text-anchor="start" font-weight="bold" font-family='"Liberation Serif", serif' transform="translate(425.5,286.5) rotate(30)">TMA</text>
<text x="0" y="0" font-size="5.3" fill="#111" text-anchor="start" font-weight="bold" font-family='"Liberation Serif", serif' transform="translate(441.5,286.5) rotate(30)">Ethanol</text>
<text x="0" y="0" font-size="5.3" fill="#111" text-anchor="start" font-weight="bold" font-family='"Liberation Serif", serif' transform="translate(457.5,286.5) rotate(30)">Toluene</text>
<text x="0" y="0" font-size="5.3" fill="#111" text-anchor="start" font-weight="bold" font-family='"Liberation Serif", serif' transform="translate(473.5,286.5) rotate(30)">Acetone</text>
<text x="0" y="0" font-size="5.3" fill="#111" text-anchor="start" font-weight="bold" font-family='"Liberation Serif", serif' transform="translate(489.5,286.5) rotate(30)">Methanol</text>
<text x="0" y="0" font-size="5.3" fill="#111" text-anchor="start" font-weight="bold" font-family='"Liberation Serif", serif' transform="translate(505.5,286.5) rotate(30)">n-Butanol</text>
<text x="0" y="0" font-size="5.3" fill="#111" text-anchor="start" font-weight="bold" font-family='"Liberation Serif", serif' transform="translate(521.5,286.5) rotate(30)">Isopropanol</text>
<text x="367.5" y="291" font-size="12.6" fill="#1a1a1a" text-anchor="start" font-weight="normal" font-family='"Liberation Sans", sans-serif' stroke="#1a1a1a" stroke-width="0.2">(f)</text>
<rect x="396" y="304" width="144.39999999999998" height="105.5" fill="#ffffff" stroke="#333" stroke-width="0.8"/>
<line x1="396" y1="400.5" x2="398" y2="400.5" stroke="#333" stroke-width="0.6" />
<text x="393.8" y="402.5" font-size="5.5" fill="#222" text-anchor="end" font-weight="bold" font-family='"Liberation Serif", serif' >0</text>
<line x1="396" y1="381.15" x2="398" y2="381.15" stroke="#333" stroke-width="0.6" />
<text x="393.8" y="383.1" font-size="5.5" fill="#222" text-anchor="end" font-weight="bold" font-family='"Liberation Serif", serif' >100</text>
<line x1="396" y1="361.8" x2="398" y2="361.8" stroke="#333" stroke-width="0.6" />
<text x="393.8" y="363.8" font-size="5.5" fill="#222" text-anchor="end" font-weight="bold" font-family='"Liberation Serif", serif' >200</text>
<line x1="396" y1="342.45" x2="398" y2="342.45" stroke="#333" stroke-width="0.6" />
<text x="393.8" y="344.4" font-size="5.5" fill="#222" text-anchor="end" font-weight="bold" font-family='"Liberation Serif", serif' >300</text>
<line x1="396" y1="323.1" x2="398" y2="323.1" stroke="#333" stroke-width="0.6" />
<text x="393.8" y="325.1" font-size="5.5" fill="#222" text-anchor="end" font-weight="bold" font-family='"Liberation Serif", serif' >400</text>
<line x1="396" y1="303.75" x2="398" y2="303.75" stroke="#333" stroke-width="0.6" />
<text x="393.8" y="305.8" font-size="5.5" fill="#222" text-anchor="end" font-weight="bold" font-family='"Liberation Serif", serif' >500</text>
<line x1="405.5" y1="409.5" x2="405.5" y2="407.5" stroke="#333" stroke-width="0.6" />
<text x="405.5" y="418" font-size="5.8" fill="#222" text-anchor="middle" font-weight="bold" font-family='"Liberation Serif", serif' >0</text>
<line x1="422.2" y1="409.5" x2="422.2" y2="407.5" stroke="#333" stroke-width="0.6" />
<text x="422.2" y="418" font-size="5.8" fill="#222" text-anchor="middle" font-weight="bold" font-family='"Liberation Serif", serif' >10</text>
<line x1="438.9" y1="409.5" x2="438.9" y2="407.5" stroke="#333" stroke-width="0.6" />
<text x="438.9" y="418" font-size="5.8" fill="#222" text-anchor="middle" font-weight="bold" font-family='"Liberation Serif", serif' >20</text>
<line x1="455.6" y1="409.5" x2="455.6" y2="407.5" stroke="#333" stroke-width="0.6" />
<text x="455.6" y="418" font-size="5.8" fill="#222" text-anchor="middle" font-weight="bold" font-family='"Liberation Serif", serif' >30</text>
<line x1="472.3" y1="409.5" x2="472.3" y2="407.5" stroke="#333" stroke-width="0.6" />
<text x="472.3" y="418" font-size="5.8" fill="#222" text-anchor="middle" font-weight="bold" font-family='"Liberation Serif", serif' >40</text>
<line x1="489.0" y1="409.5" x2="489.0" y2="407.5" stroke="#333" stroke-width="0.6" />
<text x="489.0" y="418" font-size="5.8" fill="#222" text-anchor="middle" font-weight="bold" font-family='"Liberation Serif", serif' >50</text>
<line x1="505.7" y1="409.5" x2="505.7" y2="407.5" stroke="#333" stroke-width="0.6" />
<text x="505.7" y="418" font-size="5.8" fill="#222" text-anchor="middle" font-weight="bold" font-family='"Liberation Serif", serif' >60</text>
<line x1="522.4" y1="409.5" x2="522.4" y2="407.5" stroke="#333" stroke-width="0.6" />
<text x="522.4" y="418" font-size="5.8" fill="#222" text-anchor="middle" font-weight="bold" font-family='"Liberation Serif", serif' >70</text>
<line x1="539.1" y1="409.5" x2="539.1" y2="407.5" stroke="#333" stroke-width="0.6" />
<text x="539.1" y="418" font-size="5.8" fill="#222" text-anchor="middle" font-weight="bold" font-family='"Liberation Serif", serif' >80</text>
<text x="0" y="0" font-size="8.8" fill="#111" text-anchor="middle" font-weight="bold" font-family='"Liberation Serif", serif' transform="translate(384,357) rotate(-90)">Gas response <tspan font-style="italic">β</tspan> (%)</text>
<text x="468" y="428.5" font-size="8.8" fill="#111" text-anchor="middle" font-weight="bold" font-family='"Liberation Serif", serif' >Gas concentration (ppm)</text>
<polygon points="407.17,394.791 438.9,377.5695 489.0,359.574 522.4,353.5755 522.4,359.0755 489.0,365.074 438.9,383.0695 407.17,400.291" fill="#e6f7fc" />
<rect x="484" y="353" width="14" height="8" fill="#e0f6fb" />
<rect x="483" y="373" width="14" height="13" fill="#e6f8fb" />
<rect x="515" y="368" width="16" height="10" fill="#e6f8fb" />
<polyline points="407.2,398.0 422.2,393.1 438.9,389.7 489.0,386.8 522.4,390.8" fill="none" stroke="#66c05a" stroke-width="0.9"/>
<polyline points="407.2,397.8 422.2,391.2 438.9,384.1 489.0,376.9 522.4,378.4" fill="none" stroke="#b070e0" stroke-width="0.9"/>
<polyline points="407.2,397.8 422.2,390.4 438.9,380.6 489.0,362.6 522.4,356.6" fill="none" stroke="#6a98e0" stroke-width="0.9"/>
<polyline points="407.2,397.8 422.2,392.8 438.9,386.0 489.0,377.9 522.4,374.6" fill="none" stroke="#f0d060" stroke-width="0.9"/>
<circle cx="407.2" cy="398.0" r="2.0" fill="#3a9a2a" />
<circle cx="422.2" cy="393.1" r="2.0" fill="#3a9a2a" />
<circle cx="438.9" cy="389.7" r="2.0" fill="#3a9a2a" />
<circle cx="489.0" cy="386.8" r="2.0" fill="#3a9a2a" />
<circle cx="522.4" cy="390.8" r="2.0" fill="#3a9a2a" />
<circle cx="407.2" cy="397.8" r="1.8" fill="#7a3ad0" />
<circle cx="422.2" cy="391.2" r="1.8" fill="#7a3ad0" />
<circle cx="438.9" cy="384.1" r="1.8" fill="#7a3ad0" />
<circle cx="489.0" cy="376.9" r="1.8" fill="#7a3ad0" />
<circle cx="522.4" cy="378.4" r="1.8" fill="#7a3ad0" />
<rect x="405.4" y="396.0" width="3.6" height="3.6" fill="#7a5a20" />
<rect x="420.4" y="388.6" width="3.6" height="3.6" fill="#7a5a20" />
<rect x="437.1" y="378.8" width="3.6" height="3.6" fill="#7a5a20" />
<rect x="487.2" y="360.8" width="3.6" height="3.6" fill="#7a5a20" />
<rect x="520.6" y="354.8" width="3.6" height="3.6" fill="#7a5a20" />
<polygon points="407.2,395.6 409.0,399.2 405.4,399.2" fill="#2a3ad0" />
<polygon points="422.2,390.6 424.0,394.2 420.4,394.2" fill="#2a3ad0" />
<polygon points="438.9,383.8 440.7,387.4 437.1,387.4" fill="#2a3ad0" />
<polygon points="489.0,375.7 490.8,379.3 487.2,379.3" fill="#2a3ad0" />
<polygon points="522.4,372.4 524.2,376.0 520.6,376.0" fill="#2a3ad0" />
<text x="401.5" y="397" font-size="5.2" fill="#5a8ad0" text-anchor="middle" font-weight="bold" font-family='"Liberation Serif", serif' >11</text>
<text x="406.9" y="394.3" font-size="5.2" fill="#3a5ad0" text-anchor="middle" font-weight="bold" font-family='"Liberation Serif", serif' >14</text>
<text x="406.2" y="403.9" font-size="5.2" fill="#5a9a40" text-anchor="middle" font-weight="bold" font-family='"Liberation Serif", serif' >13</text>
<text x="422" y="386.8" font-size="5.2" fill="#4a4ad0" text-anchor="middle" font-weight="bold" font-family='"Liberation Serif", serif' >83</text>
<text x="420.5" y="398.4" font-size="5.2" fill="#4a9a40" text-anchor="middle" font-weight="bold" font-family='"Liberation Serif", serif' >26</text>
<text x="426" y="395.3" font-size="5.2" fill="#d0b040" text-anchor="middle" font-weight="bold" font-family='"Liberation Serif", serif' >26</text>
<text x="440.6" y="378" font-size="5.2" fill="#3a5ad0" text-anchor="middle" font-weight="bold" font-family='"Liberation Serif", serif' >103</text>
<text x="438.3" y="395.3" font-size="5.2" fill="#4a9a40" text-anchor="middle" font-weight="bold" font-family='"Liberation Serif", serif' >56</text>
<text x="443.7" y="387.5" font-size="5.2" fill="#d0b040" text-anchor="middle" font-weight="bold" font-family='"Liberation Serif", serif' >54</text>
<text x="491" y="359.6" font-size="5.2" fill="#3a6ad0" text-anchor="middle" font-weight="bold" font-family='"Liberation Serif", serif' >196</text>
<text x="492.5" y="375" font-size="5.2" fill="#7a3ad0" text-anchor="middle" font-weight="bold" font-family='"Liberation Serif", serif' >122</text>
<text x="485.3" y="383.5" font-size="5.2" fill="#d0a040" text-anchor="middle" font-weight="bold" font-family='"Liberation Serif", serif' >117</text>
<text x="489.3" y="393" font-size="5.2" fill="#4a9a40" text-anchor="middle" font-weight="bold" font-family='"Liberation Serif", serif' >71</text>
<text x="524.7" y="353.2" font-size="5.2" fill="#3a6ad0" text-anchor="middle" font-weight="bold" font-family='"Liberation Serif", serif' >227</text>
<text x="523" y="370.6" font-size="5.2" fill="#d0a040" text-anchor="middle" font-weight="bold" font-family='"Liberation Serif", serif' >134</text>
<text x="527" y="376.7" font-size="5.2" fill="#7a3ad0" text-anchor="middle" font-weight="bold" font-family='"Liberation Serif", serif' >114</text>
<text x="522.3" y="396.3" font-size="5.2" fill="#4a9a40" text-anchor="middle" font-weight="bold" font-family='"Liberation Serif", serif' >50</text>
<line x1="474" y1="309.8" x2="487.7" y2="309.8" stroke="#66c05a" stroke-width="0.9" />
<circle cx="481.2" cy="309.8" r="1.7" fill="#3a9a2a" />
<text x="490.5" y="311.4" font-size="6.1" fill="#111" text-anchor="start" font-weight="bold" font-family='"Liberation Serif", serif' >Ti<tspan dy="1.2" font-size="3.7">3</tspan><tspan dy="-1.2">C</tspan><tspan dy="1.2" font-size="3.7">2</tspan><tspan dy="-1.2">T</tspan><tspan dy="1.2" font-size="3.7">x</tspan><tspan dy="-1.2"></tspan>:ZnO (1:1)</text>
<line x1="474" y1="318.6" x2="487.7" y2="318.6" stroke="#b070e0" stroke-width="0.9" />
<circle cx="481.2" cy="318.6" r="1.5" fill="#7a3ad0" />
<text x="490.5" y="320.2" font-size="6.1" fill="#111" text-anchor="start" font-weight="bold" font-family='"Liberation Serif", serif' >Ti<tspan dy="1.2" font-size="3.7">3</tspan><tspan dy="-1.2">C</tspan><tspan dy="1.2" font-size="3.7">2</tspan><tspan dy="-1.2">T</tspan><tspan dy="1.2" font-size="3.7">x</tspan><tspan dy="-1.2"></tspan>:ZnO (2:1)</text>
<line x1="474" y1="327.3" x2="487.7" y2="327.3" stroke="#6a98e0" stroke-width="0.9" />
<rect x="479.7" y="325.8" width="3.0" height="3.0" fill="#7a5a20" />
<text x="490.5" y="328.9" font-size="6.1" fill="#111" text-anchor="start" font-weight="bold" font-family='"Liberation Serif", serif' >Ti<tspan dy="1.2" font-size="3.7">3</tspan><tspan dy="-1.2">C</tspan><tspan dy="1.2" font-size="3.7">2</tspan><tspan dy="-1.2">T</tspan><tspan dy="1.2" font-size="3.7">x</tspan><tspan dy="-1.2"></tspan>:ZnO (3:1)</text>
<line x1="474" y1="336.1" x2="487.7" y2="336.1" stroke="#f0d060" stroke-width="0.9" />
<polygon points="481.2,334.2 482.7,337.2 479.7,337.2" fill="#2a3ad0" />
<text x="490.5" y="337.7" font-size="6.1" fill="#111" text-anchor="start" font-weight="bold" font-family='"Liberation Serif", serif' >Ti<tspan dy="1.2" font-size="3.7">3</tspan><tspan dy="-1.2">C</tspan><tspan dy="1.2" font-size="3.7">2</tspan><tspan dy="-1.2">T</tspan><tspan dy="1.2" font-size="3.7">x</tspan><tspan dy="-1.2"></tspan>:ZnO (5:1)</text>
<text x="490.5" y="347" font-size="6.0" fill="#111" text-anchor="start" font-weight="bold" font-family='"Liberation Serif", serif' >to Ammonia</text>
<line x1="412" y1="307" x2="412" y2="357" stroke="#333" stroke-width="0.6" />
<line x1="412" y1="357" x2="474" y2="357" stroke="#333" stroke-width="0.6" />
<line x1="412" y1="350.0" x2="413.5" y2="350.0" stroke="#333" stroke-width="0.5" />
<text x="410.5" y="351.2" font-size="3.6" fill="#222" text-anchor="end" font-weight="bold" font-family='"Liberation Serif", serif' >0</text>
<line x1="412" y1="336.0" x2="413.5" y2="336.0" stroke="#333" stroke-width="0.5" />
<text x="410.5" y="337.2" font-size="3.6" fill="#222" text-anchor="end" font-weight="bold" font-family='"Liberation Serif", serif' >100</text>
<line x1="412" y1="322.0" x2="413.5" y2="322.0" stroke="#333" stroke-width="0.5" />
<text x="410.5" y="323.2" font-size="3.6" fill="#222" text-anchor="end" font-weight="bold" font-family='"Liberation Serif", serif' >200</text>
<line x1="412" y1="308.0" x2="413.5" y2="308.0" stroke="#333" stroke-width="0.5" />
<text x="410.5" y="309.2" font-size="3.6" fill="#222" text-anchor="end" font-weight="bold" font-family='"Liberation Serif", serif' >300</text>
<line x1="415.3" y1="357" x2="415.3" y2="355.5" stroke="#333" stroke-width="0.5" />
<text x="415.3" y="361.5" font-size="3.6" fill="#222" text-anchor="middle" font-weight="bold" font-family='"Liberation Serif", serif' >0</text>
<line x1="429.2" y1="357" x2="429.2" y2="355.5" stroke="#333" stroke-width="0.5" />
<text x="429.2" y="361.5" font-size="3.6" fill="#222" text-anchor="middle" font-weight="bold" font-family='"Liberation Serif", serif' >20</text>
<line x1="443.1" y1="357" x2="443.1" y2="355.5" stroke="#333" stroke-width="0.5" />
<text x="443.1" y="361.5" font-size="3.6" fill="#222" text-anchor="middle" font-weight="bold" font-family='"Liberation Serif", serif' >40</text>
<line x1="457.0" y1="357" x2="457.0" y2="355.5" stroke="#333" stroke-width="0.5" />
<text x="457.0" y="361.5" font-size="3.6" fill="#222" text-anchor="middle" font-weight="bold" font-family='"Liberation Serif", serif' >60</text>
<line x1="470.9" y1="357" x2="470.9" y2="355.5" stroke="#333" stroke-width="0.5" />
<text x="470.9" y="361.5" font-size="3.6" fill="#222" text-anchor="middle" font-weight="bold" font-family='"Liberation Serif", serif' >80</text>
<text x="441.5" y="368.6" font-size="4.6" fill="#111" text-anchor="middle" font-weight="bold" font-family='"Liberation Serif", serif' >Gas concentration (ppm)</text>
<text x="0" y="0" font-size="5.0" fill="#111" text-anchor="middle" font-weight="bold" font-family='"Liberation Serif", serif' transform="translate(403,333) rotate(-90)">Gas response <tspan font-style="italic">β</tspan> (%)</text>
<path d="M415.3,348.0 Q432.7,330.4 450.1,322.6 Q458.4,319.5 463.9,318.2" fill="none" stroke="#c08060" stroke-width="0.8"/>
<rect x="414.7" y="346.7" width="2.6" height="2.6" fill="#7a5a20" />
<rect x="420.9" y="341.4" width="2.6" height="2.6" fill="#7a5a20" />
<rect x="427.9" y="334.3" width="2.6" height="2.6" fill="#7a5a20" />
<rect x="448.8" y="321.3" width="2.6" height="2.6" fill="#7a5a20" />
<rect x="462.6" y="316.9" width="2.6" height="2.6" fill="#7a5a20" />
<rect x="415" y="305" width="28" height="14" fill="#fbe4ec" opacity="0.8"/>
<rect x="417.5" y="306.3" width="2.6" height="2.6" fill="#7a5a20" />
<text x="424.8" y="309.5" font-size="4.4" fill="#111" text-anchor="start" font-weight="bold" font-family='"Liberation Serif", serif' ><tspan font-style="italic">Ti<tspan dy="0.9" font-size="2.6">3</tspan><tspan dy="-0.9">C</tspan><tspan dy="0.9" font-size="2.6">2</tspan><tspan dy="-0.9">T</tspan><tspan dy="0.9" font-size="2.6">x</tspan><tspan dy="-0.9"></tspan>:ZnO</tspan> (3:1)</text>
<text x="424.8" y="315.6" font-size="4.4" fill="#111" text-anchor="start" font-weight="bold" font-family='"Liberation Serif", serif' >to Ammonia</text>
<line x1="413.5" y1="320.1" x2="423.2" y2="320.1" stroke="#555" stroke-width="0.6" />
<text x="424.8" y="321.5" font-size="4.8" fill="#111" text-anchor="start" font-weight="bold" font-family='"Liberation Serif", serif' ><tspan font-style="italic">Fitted curve</tspan></text>
<text x="425.6" y="345.5" font-size="3.7" fill="#111" text-anchor="start" font-weight="bold" font-family='"Liberation Serif", serif' ><tspan font-style="italic">β</tspan> = -303.5*exp(-C/32.1)+308.4</text>
<text x="425.6" y="351.2" font-size="3.7" fill="#111" text-anchor="start" font-weight="bold" font-family='"Liberation Serif", serif' >R²=0.994</text>
</svg></body></html>
